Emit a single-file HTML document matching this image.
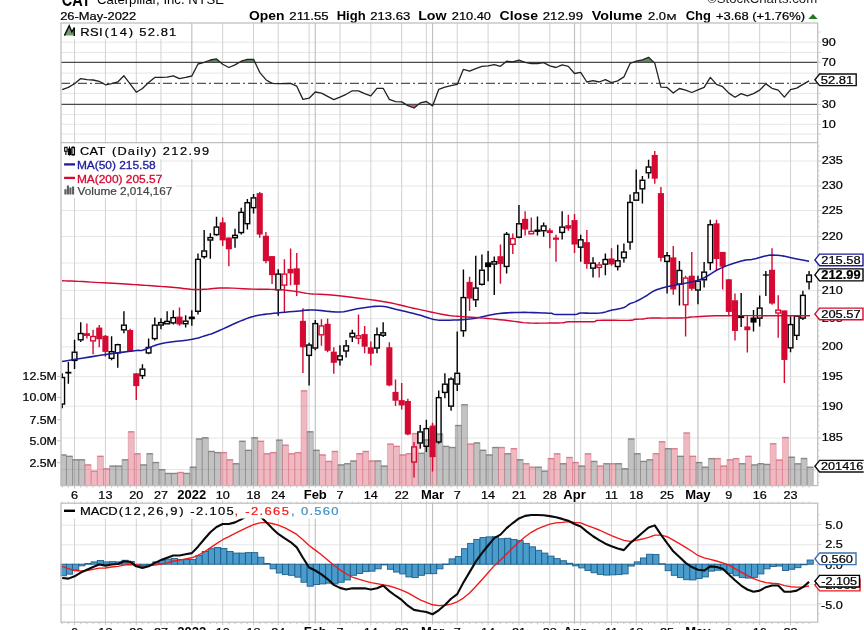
<!DOCTYPE html>
<html><head><meta charset="utf-8"><title>CAT</title>
<style>html,body{margin:0;padding:0;background:#fff;}body{width:864px;height:630px;overflow:hidden;font-family:"Liberation Sans",sans-serif;}svg{display:block;will-change:transform;}</style></head>
<body>
<svg width="864" height="630" viewBox="0 0 864 630" font-family="Liberation Sans, sans-serif">
<rect x="0" y="0" width="864" height="630" fill="#fff"/>
<text x="61.8" y="5.5" font-size="18.5" font-weight="bold" textLength="28.7" lengthAdjust="spacingAndGlyphs">CAT</text>
<text x="97" y="4.1" font-size="12" textLength="127" lengthAdjust="spacingAndGlyphs">Caterpillar, Inc. NYSE</text>
<text x="707" y="3.4" font-size="12" fill="#222" textLength="110.2" lengthAdjust="spacingAndGlyphs">©StockCharts.com</text>
<text x="60.2" y="19.94" font-size="11" font-weight="normal" fill="#000" stroke="#000" stroke-width="0.22" textLength="76" lengthAdjust="spacingAndGlyphs">26-May-2022</text>
<text x="248.9" y="20.38" font-size="12.8" font-weight="bold" fill="#000" textLength="35.5" lengthAdjust="spacingAndGlyphs">Open</text>
<text x="289.3" y="19.94" font-size="11" font-weight="normal" fill="#000" stroke="#000" stroke-width="0.22" textLength="39.4" lengthAdjust="spacingAndGlyphs">211.55</text>
<text x="336.7" y="20.38" font-size="12.8" font-weight="bold" fill="#000" textLength="29" lengthAdjust="spacingAndGlyphs">High</text>
<text x="370.2" y="19.94" font-size="11" font-weight="normal" fill="#000" stroke="#000" stroke-width="0.22" textLength="40" lengthAdjust="spacingAndGlyphs">213.63</text>
<text x="418.2" y="20.38" font-size="12.8" font-weight="bold" fill="#000" textLength="28.4" lengthAdjust="spacingAndGlyphs">Low</text>
<text x="451.8" y="19.94" font-size="11" font-weight="normal" fill="#000" stroke="#000" stroke-width="0.22" textLength="39.2" lengthAdjust="spacingAndGlyphs">210.40</text>
<text x="499.6" y="20.38" font-size="12.8" font-weight="bold" fill="#000" textLength="38.4" lengthAdjust="spacingAndGlyphs">Close</text>
<text x="542.8" y="19.94" font-size="11" font-weight="normal" fill="#000" stroke="#000" stroke-width="0.22" textLength="40.2" lengthAdjust="spacingAndGlyphs">212.99</text>
<text x="591.7" y="20.38" font-size="12.8" font-weight="bold" fill="#000" textLength="50.7" lengthAdjust="spacingAndGlyphs">Volume</text>
<text x="648" y="19.94" font-size="11" font-weight="normal" fill="#000" stroke="#000" stroke-width="0.22" textLength="18" lengthAdjust="spacingAndGlyphs">2.0</text>
<text x="666.6" y="20.04" font-size="9.6" font-weight="normal" fill="#000" stroke="#000" stroke-width="0.22" textLength="10" lengthAdjust="spacingAndGlyphs">M</text>
<text x="685.7" y="20.38" font-size="12.8" font-weight="bold" fill="#000" textLength="25.1" lengthAdjust="spacingAndGlyphs">Chg</text>
<text x="716" y="19.94" font-size="11" font-weight="normal" fill="#000" stroke="#000" stroke-width="0.22" textLength="89" lengthAdjust="spacingAndGlyphs">+3.68 (+1.76%)</text>
<path d="M808.4 18.9 L817.6 18.9 L813 14 Z" fill="#1e7a1e"/>
<line x1="61" y1="42.2" x2="817.7" y2="42.2" stroke="#e6e6e6" stroke-width="1"/>
<line x1="61" y1="52.5" x2="817.7" y2="52.5" stroke="#e6e6e6" stroke-width="1"/>
<line x1="61" y1="73.1" x2="817.7" y2="73.1" stroke="#e6e6e6" stroke-width="1"/>
<line x1="61" y1="93.4" x2="817.7" y2="93.4" stroke="#e6e6e6" stroke-width="1"/>
<line x1="61" y1="114.5" x2="817.7" y2="114.5" stroke="#e6e6e6" stroke-width="1"/>
<line x1="61" y1="124.3" x2="817.7" y2="124.3" stroke="#e6e6e6" stroke-width="1"/>
<line x1="61" y1="134.1" x2="817.7" y2="134.1" stroke="#e6e6e6" stroke-width="1"/>
<line x1="74.54" y1="23" x2="74.54" y2="142.7" stroke="#d2d2d2" stroke-width="1"/>
<line x1="105.41" y1="23" x2="105.41" y2="142.7" stroke="#d2d2d2" stroke-width="1"/>
<line x1="136.27" y1="23" x2="136.27" y2="142.7" stroke="#d2d2d2" stroke-width="1"/>
<line x1="160.96" y1="23" x2="160.96" y2="142.7" stroke="#d2d2d2" stroke-width="1"/>
<line x1="222.68" y1="23" x2="222.68" y2="142.7" stroke="#d2d2d2" stroke-width="1"/>
<line x1="253.54" y1="23" x2="253.54" y2="142.7" stroke="#d2d2d2" stroke-width="1"/>
<line x1="278.23" y1="23" x2="278.23" y2="142.7" stroke="#d2d2d2" stroke-width="1"/>
<line x1="309.1" y1="23" x2="309.1" y2="142.7" stroke="#d2d2d2" stroke-width="1"/>
<line x1="339.96" y1="23" x2="339.96" y2="142.7" stroke="#d2d2d2" stroke-width="1"/>
<line x1="370.82" y1="23" x2="370.82" y2="142.7" stroke="#d2d2d2" stroke-width="1"/>
<line x1="401.68" y1="23" x2="401.68" y2="142.7" stroke="#d2d2d2" stroke-width="1"/>
<line x1="426.37" y1="23" x2="426.37" y2="142.7" stroke="#d2d2d2" stroke-width="1"/>
<line x1="457.23" y1="23" x2="457.23" y2="142.7" stroke="#d2d2d2" stroke-width="1"/>
<line x1="488.1" y1="23" x2="488.1" y2="142.7" stroke="#d2d2d2" stroke-width="1"/>
<line x1="518.96" y1="23" x2="518.96" y2="142.7" stroke="#d2d2d2" stroke-width="1"/>
<line x1="549.82" y1="23" x2="549.82" y2="142.7" stroke="#d2d2d2" stroke-width="1"/>
<line x1="580.68" y1="23" x2="580.68" y2="142.7" stroke="#d2d2d2" stroke-width="1"/>
<line x1="611.54" y1="23" x2="611.54" y2="142.7" stroke="#d2d2d2" stroke-width="1"/>
<line x1="636.23" y1="23" x2="636.23" y2="142.7" stroke="#d2d2d2" stroke-width="1"/>
<line x1="667.1" y1="23" x2="667.1" y2="142.7" stroke="#d2d2d2" stroke-width="1"/>
<line x1="728.82" y1="23" x2="728.82" y2="142.7" stroke="#d2d2d2" stroke-width="1"/>
<line x1="759.68" y1="23" x2="759.68" y2="142.7" stroke="#d2d2d2" stroke-width="1"/>
<line x1="790.54" y1="23" x2="790.54" y2="142.7" stroke="#d2d2d2" stroke-width="1"/>
<line x1="191.82" y1="23" x2="191.82" y2="142.7" stroke="#c0c0c0" stroke-width="1.15"/>
<line x1="315.27" y1="23" x2="315.27" y2="142.7" stroke="#c0c0c0" stroke-width="1.15"/>
<line x1="432.54" y1="23" x2="432.54" y2="142.7" stroke="#c0c0c0" stroke-width="1.15"/>
<line x1="574.51" y1="23" x2="574.51" y2="142.7" stroke="#c0c0c0" stroke-width="1.15"/>
<line x1="697.96" y1="23" x2="697.96" y2="142.7" stroke="#c0c0c0" stroke-width="1.15"/>
<clipPath id="c70"><rect x="61.0" y="23.0" width="756.7" height="39.4"/></clipPath>
<clipPath id="c30"><rect x="61.0" y="104.4" width="756.7" height="38.3"/></clipPath>
<polygon points="62.2,62.4 62.2,89.7 68.37,87.4 74.54,83.7 80.72,78.6 86.89,79.7 93.06,80 99.23,81.3 105.41,84.8 111.58,83.7 117.75,82 123.92,75.8 130.1,83.9 136.27,92.2 142.44,88.5 148.61,82.5 154.79,77.4 160.96,77.4 167.13,77.2 173.3,75.8 179.48,78.6 185.65,77.4 191.82,76 197.99,64 204.17,62.4 210.34,60 216.51,58.9 222.68,64.2 228.85,67.5 235.03,64.9 241.2,61.2 247.37,59.4 253.54,59.4 259.72,72.3 265.89,79.7 272.06,83.4 278.23,83.7 284.41,83.7 290.58,83.4 296.75,86.2 302.92,99.4 309.1,98.2 315.27,92 321.44,93.1 327.61,96.4 333.79,99.6 339.96,97.1 346.13,94.3 352.3,90.8 358.48,90.8 364.65,93.6 370.82,95.9 376.99,88.3 383.16,88.3 389.34,99.4 395.51,101.7 401.68,101.9 407.85,105.6 414.03,108 420.2,102.9 426.37,101.5 432.54,105.9 438.72,89.4 444.89,87.2 451.06,85.7 457.23,84.4 463.41,69.3 469.58,71.2 475.75,68.6 481.92,66.3 488.1,65.8 494.27,64.7 500.44,66.3 506.61,61.2 512.79,61.9 518.96,60 525.13,62.4 531.3,63.5 537.47,63.5 543.65,62.6 549.82,65.8 555.99,67.5 562.16,64.9 568.34,66.3 574.51,73.5 580.68,72.3 586.85,82 593.03,80.6 599.2,82 605.37,79.7 611.54,82.7 617.72,80.9 623.89,76.9 630.06,63.5 636.23,61.2 642.41,59.8 648.58,57.3 654.75,63.1 660.92,87.1 667.1,87.4 673.27,93.1 679.44,88.5 685.61,90.1 691.78,92.5 697.96,89.9 704.13,87.4 710.3,77.4 716.47,84.4 722.65,86.7 728.82,93.1 734.99,97.3 741.16,93.6 747.34,95.9 753.51,93.6 759.68,90.1 765.85,83.9 772.03,88.3 778.2,90.1 784.37,97.1 790.54,89.7 796.72,88.1 802.89,84.4 809.06,80.9 809.06,62.4" fill="#5f8f5f" clip-path="url(#c70)"/>
<polygon points="62.2,104.4 62.2,89.7 68.37,87.4 74.54,83.7 80.72,78.6 86.89,79.7 93.06,80 99.23,81.3 105.41,84.8 111.58,83.7 117.75,82 123.92,75.8 130.1,83.9 136.27,92.2 142.44,88.5 148.61,82.5 154.79,77.4 160.96,77.4 167.13,77.2 173.3,75.8 179.48,78.6 185.65,77.4 191.82,76 197.99,64 204.17,62.4 210.34,60 216.51,58.9 222.68,64.2 228.85,67.5 235.03,64.9 241.2,61.2 247.37,59.4 253.54,59.4 259.72,72.3 265.89,79.7 272.06,83.4 278.23,83.7 284.41,83.7 290.58,83.4 296.75,86.2 302.92,99.4 309.1,98.2 315.27,92 321.44,93.1 327.61,96.4 333.79,99.6 339.96,97.1 346.13,94.3 352.3,90.8 358.48,90.8 364.65,93.6 370.82,95.9 376.99,88.3 383.16,88.3 389.34,99.4 395.51,101.7 401.68,101.9 407.85,105.6 414.03,108 420.2,102.9 426.37,101.5 432.54,105.9 438.72,89.4 444.89,87.2 451.06,85.7 457.23,84.4 463.41,69.3 469.58,71.2 475.75,68.6 481.92,66.3 488.1,65.8 494.27,64.7 500.44,66.3 506.61,61.2 512.79,61.9 518.96,60 525.13,62.4 531.3,63.5 537.47,63.5 543.65,62.6 549.82,65.8 555.99,67.5 562.16,64.9 568.34,66.3 574.51,73.5 580.68,72.3 586.85,82 593.03,80.6 599.2,82 605.37,79.7 611.54,82.7 617.72,80.9 623.89,76.9 630.06,63.5 636.23,61.2 642.41,59.8 648.58,57.3 654.75,63.1 660.92,87.1 667.1,87.4 673.27,93.1 679.44,88.5 685.61,90.1 691.78,92.5 697.96,89.9 704.13,87.4 710.3,77.4 716.47,84.4 722.65,86.7 728.82,93.1 734.99,97.3 741.16,93.6 747.34,95.9 753.51,93.6 759.68,90.1 765.85,83.9 772.03,88.3 778.2,90.1 784.37,97.1 790.54,89.7 796.72,88.1 802.89,84.4 809.06,80.9 809.06,104.4" fill="#d06a6a" clip-path="url(#c30)"/>
<line x1="61.0" y1="62.4" x2="817.7" y2="62.4" stroke="#4a4a4a" stroke-width="1.3"/>
<line x1="61.0" y1="104.4" x2="817.7" y2="104.4" stroke="#4a4a4a" stroke-width="1.3"/>
<line x1="61.0" y1="83.4" x2="817.7" y2="83.4" stroke="#555" stroke-width="1.1" stroke-dasharray="9,3,2,3"/>
<polyline points="62.2,89.7 68.37,87.4 74.54,83.7 80.72,78.6 86.89,79.7 93.06,80 99.23,81.3 105.41,84.8 111.58,83.7 117.75,82 123.92,75.8 130.1,83.9 136.27,92.2 142.44,88.5 148.61,82.5 154.79,77.4 160.96,77.4 167.13,77.2 173.3,75.8 179.48,78.6 185.65,77.4 191.82,76 197.99,64 204.17,62.4 210.34,60 216.51,58.9 222.68,64.2 228.85,67.5 235.03,64.9 241.2,61.2 247.37,59.4 253.54,59.4 259.72,72.3 265.89,79.7 272.06,83.4 278.23,83.7 284.41,83.7 290.58,83.4 296.75,86.2 302.92,99.4 309.1,98.2 315.27,92 321.44,93.1 327.61,96.4 333.79,99.6 339.96,97.1 346.13,94.3 352.3,90.8 358.48,90.8 364.65,93.6 370.82,95.9 376.99,88.3 383.16,88.3 389.34,99.4 395.51,101.7 401.68,101.9 407.85,105.6 414.03,108 420.2,102.9 426.37,101.5 432.54,105.9 438.72,89.4 444.89,87.2 451.06,85.7 457.23,84.4 463.41,69.3 469.58,71.2 475.75,68.6 481.92,66.3 488.1,65.8 494.27,64.7 500.44,66.3 506.61,61.2 512.79,61.9 518.96,60 525.13,62.4 531.3,63.5 537.47,63.5 543.65,62.6 549.82,65.8 555.99,67.5 562.16,64.9 568.34,66.3 574.51,73.5 580.68,72.3 586.85,82 593.03,80.6 599.2,82 605.37,79.7 611.54,82.7 617.72,80.9 623.89,76.9 630.06,63.5 636.23,61.2 642.41,59.8 648.58,57.3 654.75,63.1 660.92,87.1 667.1,87.4 673.27,93.1 679.44,88.5 685.61,90.1 691.78,92.5 697.96,89.9 704.13,87.4 710.3,77.4 716.47,84.4 722.65,86.7 728.82,93.1 734.99,97.3 741.16,93.6 747.34,95.9 753.51,93.6 759.68,90.1 765.85,83.9 772.03,88.3 778.2,90.1 784.37,97.1 790.54,89.7 796.72,88.1 802.89,84.4 809.06,80.9" fill="none" stroke="#222" stroke-width="1.3" stroke-linejoin="round"/>
<rect x="61.7" y="23.7" width="117" height="15.3" fill="#fff"/>
<path d="M64.3 35.6 L69.3 25.4 L71.9 32 L74.4 27.4 L74.4 35.6 Z" fill="#6f9f6f" stroke="none"/>
<path d="M64.4 35.6 L69.2 25.6 L71.9 32 L74.3 27.6 L74.3 35.9" fill="none" stroke="#0a0a0a" stroke-width="1.4" stroke-linejoin="miter"/>
<text transform="translate(80.2,35.82) scale(1.13,1)" x="0" y="0" font-size="11.5" fill="#000" stroke="#000" stroke-width="0.2" textLength="19.82" lengthAdjust="spacing">RSI</text>
<text transform="translate(104.4,35.82) scale(1.13,1)" x="0" y="0" font-size="11.5" fill="#000" stroke="#000" stroke-width="0.2" textLength="25.4" lengthAdjust="spacing">(14)</text>
<text transform="translate(139.3,35.82) scale(1.13,1)" x="0" y="0" font-size="11.5" fill="#000" stroke="#000" stroke-width="0.2" textLength="32.74" lengthAdjust="spacing">52.81</text>
<line x1="61" y1="161" x2="817.7" y2="161" stroke="#e6e6e6" stroke-width="1"/>
<line x1="61" y1="186" x2="817.7" y2="186" stroke="#e6e6e6" stroke-width="1"/>
<line x1="61" y1="210.5" x2="817.7" y2="210.5" stroke="#e6e6e6" stroke-width="1"/>
<line x1="61" y1="236.5" x2="817.7" y2="236.5" stroke="#e6e6e6" stroke-width="1"/>
<line x1="61" y1="263" x2="817.7" y2="263" stroke="#e6e6e6" stroke-width="1"/>
<line x1="61" y1="290.4" x2="817.7" y2="290.4" stroke="#e6e6e6" stroke-width="1"/>
<line x1="61" y1="318.7" x2="817.7" y2="318.7" stroke="#e6e6e6" stroke-width="1"/>
<line x1="61" y1="346.9" x2="817.7" y2="346.9" stroke="#e6e6e6" stroke-width="1"/>
<line x1="61" y1="376.7" x2="817.7" y2="376.7" stroke="#e6e6e6" stroke-width="1"/>
<line x1="61" y1="406.2" x2="817.7" y2="406.2" stroke="#e6e6e6" stroke-width="1"/>
<line x1="61" y1="438" x2="817.7" y2="438" stroke="#e6e6e6" stroke-width="1"/>
<line x1="61" y1="469.5" x2="817.7" y2="469.5" stroke="#e6e6e6" stroke-width="1"/>
<line x1="74.54" y1="142.7" x2="74.54" y2="485.6" stroke="#d2d2d2" stroke-width="1"/>
<line x1="105.41" y1="142.7" x2="105.41" y2="485.6" stroke="#d2d2d2" stroke-width="1"/>
<line x1="136.27" y1="142.7" x2="136.27" y2="485.6" stroke="#d2d2d2" stroke-width="1"/>
<line x1="160.96" y1="142.7" x2="160.96" y2="485.6" stroke="#d2d2d2" stroke-width="1"/>
<line x1="222.68" y1="142.7" x2="222.68" y2="485.6" stroke="#d2d2d2" stroke-width="1"/>
<line x1="253.54" y1="142.7" x2="253.54" y2="485.6" stroke="#d2d2d2" stroke-width="1"/>
<line x1="278.23" y1="142.7" x2="278.23" y2="485.6" stroke="#d2d2d2" stroke-width="1"/>
<line x1="309.1" y1="142.7" x2="309.1" y2="485.6" stroke="#d2d2d2" stroke-width="1"/>
<line x1="339.96" y1="142.7" x2="339.96" y2="485.6" stroke="#d2d2d2" stroke-width="1"/>
<line x1="370.82" y1="142.7" x2="370.82" y2="485.6" stroke="#d2d2d2" stroke-width="1"/>
<line x1="401.68" y1="142.7" x2="401.68" y2="485.6" stroke="#d2d2d2" stroke-width="1"/>
<line x1="426.37" y1="142.7" x2="426.37" y2="485.6" stroke="#d2d2d2" stroke-width="1"/>
<line x1="457.23" y1="142.7" x2="457.23" y2="485.6" stroke="#d2d2d2" stroke-width="1"/>
<line x1="488.1" y1="142.7" x2="488.1" y2="485.6" stroke="#d2d2d2" stroke-width="1"/>
<line x1="518.96" y1="142.7" x2="518.96" y2="485.6" stroke="#d2d2d2" stroke-width="1"/>
<line x1="549.82" y1="142.7" x2="549.82" y2="485.6" stroke="#d2d2d2" stroke-width="1"/>
<line x1="580.68" y1="142.7" x2="580.68" y2="485.6" stroke="#d2d2d2" stroke-width="1"/>
<line x1="611.54" y1="142.7" x2="611.54" y2="485.6" stroke="#d2d2d2" stroke-width="1"/>
<line x1="636.23" y1="142.7" x2="636.23" y2="485.6" stroke="#d2d2d2" stroke-width="1"/>
<line x1="667.1" y1="142.7" x2="667.1" y2="485.6" stroke="#d2d2d2" stroke-width="1"/>
<line x1="728.82" y1="142.7" x2="728.82" y2="485.6" stroke="#d2d2d2" stroke-width="1"/>
<line x1="759.68" y1="142.7" x2="759.68" y2="485.6" stroke="#d2d2d2" stroke-width="1"/>
<line x1="790.54" y1="142.7" x2="790.54" y2="485.6" stroke="#d2d2d2" stroke-width="1"/>
<line x1="191.82" y1="142.7" x2="191.82" y2="485.6" stroke="#c0c0c0" stroke-width="1.15"/>
<line x1="315.27" y1="142.7" x2="315.27" y2="485.6" stroke="#c0c0c0" stroke-width="1.15"/>
<line x1="432.54" y1="142.7" x2="432.54" y2="485.6" stroke="#c0c0c0" stroke-width="1.15"/>
<line x1="574.51" y1="142.7" x2="574.51" y2="485.6" stroke="#c0c0c0" stroke-width="1.15"/>
<line x1="697.96" y1="142.7" x2="697.96" y2="485.6" stroke="#c0c0c0" stroke-width="1.15"/>
<rect x="61" y="454.91" width="5.42" height="30.59" fill="#7a7a7a" fill-opacity="0.46" stroke="#666" stroke-opacity="0.36" stroke-width="0.9"/>
<line x1="61" y1="454.91" x2="66.42" y2="454.91" stroke="#666" stroke-opacity="0.6" stroke-width="1.4"/>
<rect x="66.42" y="456.3" width="6.17" height="29.2" fill="#7a7a7a" fill-opacity="0.46" stroke="#666" stroke-opacity="0.36" stroke-width="0.9"/>
<line x1="66.42" y1="456.3" x2="72.59" y2="456.3" stroke="#666" stroke-opacity="0.6" stroke-width="1.4"/>
<rect x="72.59" y="459.77" width="6.17" height="25.73" fill="#7a7a7a" fill-opacity="0.46" stroke="#666" stroke-opacity="0.36" stroke-width="0.9"/>
<line x1="72.59" y1="459.77" x2="78.77" y2="459.77" stroke="#666" stroke-opacity="0.6" stroke-width="1.4"/>
<rect x="78.77" y="459.77" width="6.17" height="25.73" fill="#7a7a7a" fill-opacity="0.46" stroke="#666" stroke-opacity="0.36" stroke-width="0.9"/>
<line x1="78.77" y1="459.77" x2="84.94" y2="459.77" stroke="#666" stroke-opacity="0.6" stroke-width="1.4"/>
<rect x="84.94" y="464.86" width="6.17" height="20.64" fill="#d64f66" fill-opacity="0.40" stroke="#cf4a62" stroke-opacity="0.3" stroke-width="0.9"/>
<line x1="84.94" y1="464.86" x2="91.11" y2="464.86" stroke="#cf5a70" stroke-opacity="0.6" stroke-width="1.4"/>
<rect x="91.11" y="471.11" width="6.17" height="14.39" fill="#d64f66" fill-opacity="0.40" stroke="#cf4a62" stroke-opacity="0.3" stroke-width="0.9"/>
<line x1="91.11" y1="471.11" x2="97.28" y2="471.11" stroke="#cf5a70" stroke-opacity="0.6" stroke-width="1.4"/>
<rect x="97.28" y="456.3" width="6.17" height="29.2" fill="#d64f66" fill-opacity="0.40" stroke="#cf4a62" stroke-opacity="0.3" stroke-width="0.9"/>
<line x1="97.28" y1="456.3" x2="103.46" y2="456.3" stroke="#cf5a70" stroke-opacity="0.6" stroke-width="1.4"/>
<rect x="103.46" y="468.8" width="6.17" height="16.7" fill="#d64f66" fill-opacity="0.40" stroke="#cf4a62" stroke-opacity="0.3" stroke-width="0.9"/>
<line x1="103.46" y1="468.8" x2="109.63" y2="468.8" stroke="#cf5a70" stroke-opacity="0.6" stroke-width="1.4"/>
<rect x="109.63" y="466.02" width="6.17" height="19.48" fill="#7a7a7a" fill-opacity="0.46" stroke="#666" stroke-opacity="0.36" stroke-width="0.9"/>
<line x1="109.63" y1="466.02" x2="115.8" y2="466.02" stroke="#666" stroke-opacity="0.6" stroke-width="1.4"/>
<rect x="115.8" y="466.02" width="6.17" height="19.48" fill="#7a7a7a" fill-opacity="0.46" stroke="#666" stroke-opacity="0.36" stroke-width="0.9"/>
<line x1="115.8" y1="466.02" x2="121.97" y2="466.02" stroke="#666" stroke-opacity="0.6" stroke-width="1.4"/>
<rect x="121.97" y="459.77" width="6.17" height="25.73" fill="#7a7a7a" fill-opacity="0.46" stroke="#666" stroke-opacity="0.36" stroke-width="0.9"/>
<line x1="121.97" y1="459.77" x2="128.15" y2="459.77" stroke="#666" stroke-opacity="0.6" stroke-width="1.4"/>
<rect x="128.15" y="431.76" width="6.17" height="53.74" fill="#d64f66" fill-opacity="0.40" stroke="#cf4a62" stroke-opacity="0.3" stroke-width="0.9"/>
<line x1="128.15" y1="431.76" x2="134.32" y2="431.76" stroke="#cf5a70" stroke-opacity="0.6" stroke-width="1.4"/>
<rect x="134.32" y="453.75" width="6.17" height="31.75" fill="#d64f66" fill-opacity="0.40" stroke="#cf4a62" stroke-opacity="0.3" stroke-width="0.9"/>
<line x1="134.32" y1="453.75" x2="140.49" y2="453.75" stroke="#cf5a70" stroke-opacity="0.6" stroke-width="1.4"/>
<rect x="140.49" y="464.86" width="6.17" height="20.64" fill="#7a7a7a" fill-opacity="0.46" stroke="#666" stroke-opacity="0.36" stroke-width="0.9"/>
<line x1="140.49" y1="464.86" x2="146.66" y2="464.86" stroke="#666" stroke-opacity="0.6" stroke-width="1.4"/>
<rect x="146.66" y="453.75" width="6.17" height="31.75" fill="#7a7a7a" fill-opacity="0.46" stroke="#666" stroke-opacity="0.36" stroke-width="0.9"/>
<line x1="146.66" y1="453.75" x2="152.84" y2="453.75" stroke="#666" stroke-opacity="0.6" stroke-width="1.4"/>
<rect x="152.84" y="462.55" width="6.17" height="22.95" fill="#7a7a7a" fill-opacity="0.46" stroke="#666" stroke-opacity="0.36" stroke-width="0.9"/>
<line x1="152.84" y1="462.55" x2="159.01" y2="462.55" stroke="#666" stroke-opacity="0.6" stroke-width="1.4"/>
<rect x="159.01" y="469.72" width="6.17" height="15.78" fill="#7a7a7a" fill-opacity="0.46" stroke="#666" stroke-opacity="0.36" stroke-width="0.9"/>
<line x1="159.01" y1="469.72" x2="165.18" y2="469.72" stroke="#666" stroke-opacity="0.6" stroke-width="1.4"/>
<rect x="165.18" y="473.43" width="6.17" height="12.07" fill="#7a7a7a" fill-opacity="0.46" stroke="#666" stroke-opacity="0.36" stroke-width="0.9"/>
<line x1="165.18" y1="473.43" x2="171.35" y2="473.43" stroke="#666" stroke-opacity="0.6" stroke-width="1.4"/>
<rect x="171.35" y="473.43" width="6.17" height="12.07" fill="#7a7a7a" fill-opacity="0.46" stroke="#666" stroke-opacity="0.36" stroke-width="0.9"/>
<line x1="171.35" y1="473.43" x2="177.53" y2="473.43" stroke="#666" stroke-opacity="0.6" stroke-width="1.4"/>
<rect x="177.53" y="472.5" width="6.17" height="13" fill="#d64f66" fill-opacity="0.40" stroke="#cf4a62" stroke-opacity="0.3" stroke-width="0.9"/>
<line x1="177.53" y1="472.5" x2="183.7" y2="472.5" stroke="#cf5a70" stroke-opacity="0.6" stroke-width="1.4"/>
<rect x="183.7" y="473.43" width="6.17" height="12.07" fill="#7a7a7a" fill-opacity="0.46" stroke="#666" stroke-opacity="0.36" stroke-width="0.9"/>
<line x1="183.7" y1="473.43" x2="189.87" y2="473.43" stroke="#666" stroke-opacity="0.6" stroke-width="1.4"/>
<rect x="189.87" y="467.18" width="6.17" height="18.32" fill="#7a7a7a" fill-opacity="0.46" stroke="#666" stroke-opacity="0.36" stroke-width="0.9"/>
<line x1="189.87" y1="467.18" x2="196.04" y2="467.18" stroke="#666" stroke-opacity="0.6" stroke-width="1.4"/>
<rect x="196.04" y="438.94" width="6.17" height="46.56" fill="#7a7a7a" fill-opacity="0.46" stroke="#666" stroke-opacity="0.36" stroke-width="0.9"/>
<line x1="196.04" y1="438.94" x2="202.22" y2="438.94" stroke="#666" stroke-opacity="0.6" stroke-width="1.4"/>
<rect x="202.22" y="437.78" width="6.17" height="47.72" fill="#7a7a7a" fill-opacity="0.46" stroke="#666" stroke-opacity="0.36" stroke-width="0.9"/>
<line x1="202.22" y1="437.78" x2="208.39" y2="437.78" stroke="#666" stroke-opacity="0.6" stroke-width="1.4"/>
<rect x="208.39" y="451.44" width="6.17" height="34.06" fill="#7a7a7a" fill-opacity="0.46" stroke="#666" stroke-opacity="0.36" stroke-width="0.9"/>
<line x1="208.39" y1="451.44" x2="214.56" y2="451.44" stroke="#666" stroke-opacity="0.6" stroke-width="1.4"/>
<rect x="214.56" y="452.59" width="6.17" height="32.91" fill="#7a7a7a" fill-opacity="0.46" stroke="#666" stroke-opacity="0.36" stroke-width="0.9"/>
<line x1="214.56" y1="452.59" x2="220.73" y2="452.59" stroke="#666" stroke-opacity="0.6" stroke-width="1.4"/>
<rect x="220.73" y="452.59" width="6.17" height="32.91" fill="#d64f66" fill-opacity="0.40" stroke="#cf4a62" stroke-opacity="0.3" stroke-width="0.9"/>
<line x1="220.73" y1="452.59" x2="226.9" y2="452.59" stroke="#cf5a70" stroke-opacity="0.6" stroke-width="1.4"/>
<rect x="226.9" y="459.77" width="6.17" height="25.73" fill="#d64f66" fill-opacity="0.40" stroke="#cf4a62" stroke-opacity="0.3" stroke-width="0.9"/>
<line x1="226.9" y1="459.77" x2="233.08" y2="459.77" stroke="#cf5a70" stroke-opacity="0.6" stroke-width="1.4"/>
<rect x="233.08" y="463.7" width="6.17" height="21.8" fill="#7a7a7a" fill-opacity="0.46" stroke="#666" stroke-opacity="0.36" stroke-width="0.9"/>
<line x1="233.08" y1="463.7" x2="239.25" y2="463.7" stroke="#666" stroke-opacity="0.6" stroke-width="1.4"/>
<rect x="239.25" y="441.25" width="6.17" height="44.25" fill="#7a7a7a" fill-opacity="0.46" stroke="#666" stroke-opacity="0.36" stroke-width="0.9"/>
<line x1="239.25" y1="441.25" x2="245.42" y2="441.25" stroke="#666" stroke-opacity="0.6" stroke-width="1.4"/>
<rect x="245.42" y="450.28" width="6.17" height="35.22" fill="#7a7a7a" fill-opacity="0.46" stroke="#666" stroke-opacity="0.36" stroke-width="0.9"/>
<line x1="245.42" y1="450.28" x2="251.59" y2="450.28" stroke="#666" stroke-opacity="0.6" stroke-width="1.4"/>
<rect x="251.59" y="437.78" width="6.17" height="47.72" fill="#7a7a7a" fill-opacity="0.46" stroke="#666" stroke-opacity="0.36" stroke-width="0.9"/>
<line x1="251.59" y1="437.78" x2="257.77" y2="437.78" stroke="#666" stroke-opacity="0.6" stroke-width="1.4"/>
<rect x="257.77" y="441.25" width="6.17" height="44.25" fill="#d64f66" fill-opacity="0.40" stroke="#cf4a62" stroke-opacity="0.3" stroke-width="0.9"/>
<line x1="257.77" y1="441.25" x2="263.94" y2="441.25" stroke="#cf5a70" stroke-opacity="0.6" stroke-width="1.4"/>
<rect x="263.94" y="453.75" width="6.17" height="31.75" fill="#d64f66" fill-opacity="0.40" stroke="#cf4a62" stroke-opacity="0.3" stroke-width="0.9"/>
<line x1="263.94" y1="453.75" x2="270.11" y2="453.75" stroke="#cf5a70" stroke-opacity="0.6" stroke-width="1.4"/>
<rect x="270.11" y="452.59" width="6.17" height="32.91" fill="#d64f66" fill-opacity="0.40" stroke="#cf4a62" stroke-opacity="0.3" stroke-width="0.9"/>
<line x1="270.11" y1="452.59" x2="276.28" y2="452.59" stroke="#cf5a70" stroke-opacity="0.6" stroke-width="1.4"/>
<rect x="276.28" y="440.09" width="6.17" height="45.41" fill="#7a7a7a" fill-opacity="0.46" stroke="#666" stroke-opacity="0.36" stroke-width="0.9"/>
<line x1="276.28" y1="440.09" x2="282.46" y2="440.09" stroke="#666" stroke-opacity="0.6" stroke-width="1.4"/>
<rect x="282.46" y="445.19" width="6.17" height="40.31" fill="#d64f66" fill-opacity="0.40" stroke="#cf4a62" stroke-opacity="0.3" stroke-width="0.9"/>
<line x1="282.46" y1="445.19" x2="288.63" y2="445.19" stroke="#cf5a70" stroke-opacity="0.6" stroke-width="1.4"/>
<rect x="288.63" y="453.75" width="6.17" height="31.75" fill="#d64f66" fill-opacity="0.40" stroke="#cf4a62" stroke-opacity="0.3" stroke-width="0.9"/>
<line x1="288.63" y1="453.75" x2="294.8" y2="453.75" stroke="#cf5a70" stroke-opacity="0.6" stroke-width="1.4"/>
<rect x="294.8" y="452.59" width="6.17" height="32.91" fill="#d64f66" fill-opacity="0.40" stroke="#cf4a62" stroke-opacity="0.3" stroke-width="0.9"/>
<line x1="294.8" y1="452.59" x2="300.97" y2="452.59" stroke="#cf5a70" stroke-opacity="0.6" stroke-width="1.4"/>
<rect x="300.97" y="390.79" width="6.17" height="94.71" fill="#d64f66" fill-opacity="0.40" stroke="#cf4a62" stroke-opacity="0.3" stroke-width="0.9"/>
<line x1="300.97" y1="390.79" x2="307.15" y2="390.79" stroke="#cf5a70" stroke-opacity="0.6" stroke-width="1.4"/>
<rect x="307.15" y="431.76" width="6.17" height="53.74" fill="#7a7a7a" fill-opacity="0.46" stroke="#666" stroke-opacity="0.36" stroke-width="0.9"/>
<line x1="307.15" y1="431.76" x2="313.32" y2="431.76" stroke="#666" stroke-opacity="0.6" stroke-width="1.4"/>
<rect x="313.32" y="450.28" width="6.17" height="35.22" fill="#7a7a7a" fill-opacity="0.46" stroke="#666" stroke-opacity="0.36" stroke-width="0.9"/>
<line x1="313.32" y1="450.28" x2="319.49" y2="450.28" stroke="#666" stroke-opacity="0.6" stroke-width="1.4"/>
<rect x="319.49" y="454.91" width="6.17" height="30.59" fill="#d64f66" fill-opacity="0.40" stroke="#cf4a62" stroke-opacity="0.3" stroke-width="0.9"/>
<line x1="319.49" y1="454.91" x2="325.66" y2="454.91" stroke="#cf5a70" stroke-opacity="0.6" stroke-width="1.4"/>
<rect x="325.66" y="461.39" width="6.17" height="24.11" fill="#d64f66" fill-opacity="0.40" stroke="#cf4a62" stroke-opacity="0.3" stroke-width="0.9"/>
<line x1="325.66" y1="461.39" x2="331.84" y2="461.39" stroke="#cf5a70" stroke-opacity="0.6" stroke-width="1.4"/>
<rect x="331.84" y="451.44" width="6.17" height="34.06" fill="#d64f66" fill-opacity="0.40" stroke="#cf4a62" stroke-opacity="0.3" stroke-width="0.9"/>
<line x1="331.84" y1="451.44" x2="338.01" y2="451.44" stroke="#cf5a70" stroke-opacity="0.6" stroke-width="1.4"/>
<rect x="338.01" y="464.86" width="6.17" height="20.64" fill="#7a7a7a" fill-opacity="0.46" stroke="#666" stroke-opacity="0.36" stroke-width="0.9"/>
<line x1="338.01" y1="464.86" x2="344.18" y2="464.86" stroke="#666" stroke-opacity="0.6" stroke-width="1.4"/>
<rect x="344.18" y="463.7" width="6.17" height="21.8" fill="#7a7a7a" fill-opacity="0.46" stroke="#666" stroke-opacity="0.36" stroke-width="0.9"/>
<line x1="344.18" y1="463.7" x2="350.35" y2="463.7" stroke="#666" stroke-opacity="0.6" stroke-width="1.4"/>
<rect x="350.35" y="460.93" width="6.17" height="24.57" fill="#7a7a7a" fill-opacity="0.46" stroke="#666" stroke-opacity="0.36" stroke-width="0.9"/>
<line x1="350.35" y1="460.93" x2="356.53" y2="460.93" stroke="#666" stroke-opacity="0.6" stroke-width="1.4"/>
<rect x="356.53" y="453.75" width="6.17" height="31.75" fill="#d64f66" fill-opacity="0.40" stroke="#cf4a62" stroke-opacity="0.3" stroke-width="0.9"/>
<line x1="356.53" y1="453.75" x2="362.7" y2="453.75" stroke="#cf5a70" stroke-opacity="0.6" stroke-width="1.4"/>
<rect x="362.7" y="451.44" width="6.17" height="34.06" fill="#d64f66" fill-opacity="0.40" stroke="#cf4a62" stroke-opacity="0.3" stroke-width="0.9"/>
<line x1="362.7" y1="451.44" x2="368.87" y2="451.44" stroke="#cf5a70" stroke-opacity="0.6" stroke-width="1.4"/>
<rect x="368.87" y="460.93" width="6.17" height="24.57" fill="#d64f66" fill-opacity="0.40" stroke="#cf4a62" stroke-opacity="0.3" stroke-width="0.9"/>
<line x1="368.87" y1="460.93" x2="375.04" y2="460.93" stroke="#cf5a70" stroke-opacity="0.6" stroke-width="1.4"/>
<rect x="375.04" y="460.93" width="6.17" height="24.57" fill="#7a7a7a" fill-opacity="0.46" stroke="#666" stroke-opacity="0.36" stroke-width="0.9"/>
<line x1="375.04" y1="460.93" x2="381.21" y2="460.93" stroke="#666" stroke-opacity="0.6" stroke-width="1.4"/>
<rect x="381.21" y="466.02" width="6.17" height="19.48" fill="#7a7a7a" fill-opacity="0.46" stroke="#666" stroke-opacity="0.36" stroke-width="0.9"/>
<line x1="381.21" y1="466.02" x2="387.39" y2="466.02" stroke="#666" stroke-opacity="0.6" stroke-width="1.4"/>
<rect x="387.39" y="444.03" width="6.17" height="41.47" fill="#d64f66" fill-opacity="0.40" stroke="#cf4a62" stroke-opacity="0.3" stroke-width="0.9"/>
<line x1="387.39" y1="444.03" x2="393.56" y2="444.03" stroke="#cf5a70" stroke-opacity="0.6" stroke-width="1.4"/>
<rect x="393.56" y="446.34" width="6.17" height="39.16" fill="#d64f66" fill-opacity="0.40" stroke="#cf4a62" stroke-opacity="0.3" stroke-width="0.9"/>
<line x1="393.56" y1="446.34" x2="399.73" y2="446.34" stroke="#cf5a70" stroke-opacity="0.6" stroke-width="1.4"/>
<rect x="399.73" y="454.91" width="6.17" height="30.59" fill="#d64f66" fill-opacity="0.40" stroke="#cf4a62" stroke-opacity="0.3" stroke-width="0.9"/>
<line x1="399.73" y1="454.91" x2="405.9" y2="454.91" stroke="#cf5a70" stroke-opacity="0.6" stroke-width="1.4"/>
<rect x="405.9" y="453.75" width="6.17" height="31.75" fill="#d64f66" fill-opacity="0.40" stroke="#cf4a62" stroke-opacity="0.3" stroke-width="0.9"/>
<line x1="405.9" y1="453.75" x2="412.08" y2="453.75" stroke="#cf5a70" stroke-opacity="0.6" stroke-width="1.4"/>
<rect x="412.08" y="433.61" width="6.17" height="51.89" fill="#d64f66" fill-opacity="0.40" stroke="#cf4a62" stroke-opacity="0.3" stroke-width="0.9"/>
<line x1="412.08" y1="433.61" x2="418.25" y2="433.61" stroke="#cf5a70" stroke-opacity="0.6" stroke-width="1.4"/>
<rect x="418.25" y="453.29" width="6.17" height="32.21" fill="#7a7a7a" fill-opacity="0.46" stroke="#666" stroke-opacity="0.36" stroke-width="0.9"/>
<line x1="418.25" y1="453.29" x2="424.42" y2="453.29" stroke="#666" stroke-opacity="0.6" stroke-width="1.4"/>
<rect x="424.42" y="439.86" width="6.17" height="45.64" fill="#7a7a7a" fill-opacity="0.46" stroke="#666" stroke-opacity="0.36" stroke-width="0.9"/>
<line x1="424.42" y1="439.86" x2="430.59" y2="439.86" stroke="#666" stroke-opacity="0.6" stroke-width="1.4"/>
<rect x="430.59" y="425.51" width="6.17" height="59.99" fill="#d64f66" fill-opacity="0.40" stroke="#cf4a62" stroke-opacity="0.3" stroke-width="0.9"/>
<line x1="430.59" y1="425.51" x2="436.77" y2="425.51" stroke="#cf5a70" stroke-opacity="0.6" stroke-width="1.4"/>
<rect x="436.77" y="434.07" width="6.17" height="51.43" fill="#7a7a7a" fill-opacity="0.46" stroke="#666" stroke-opacity="0.36" stroke-width="0.9"/>
<line x1="436.77" y1="434.07" x2="442.94" y2="434.07" stroke="#666" stroke-opacity="0.6" stroke-width="1.4"/>
<rect x="442.94" y="446.34" width="6.17" height="39.16" fill="#7a7a7a" fill-opacity="0.46" stroke="#666" stroke-opacity="0.36" stroke-width="0.9"/>
<line x1="442.94" y1="446.34" x2="449.11" y2="446.34" stroke="#666" stroke-opacity="0.6" stroke-width="1.4"/>
<rect x="449.11" y="447.5" width="6.17" height="38" fill="#7a7a7a" fill-opacity="0.46" stroke="#666" stroke-opacity="0.36" stroke-width="0.9"/>
<line x1="449.11" y1="447.5" x2="455.28" y2="447.5" stroke="#666" stroke-opacity="0.6" stroke-width="1.4"/>
<rect x="455.28" y="425.51" width="6.17" height="59.99" fill="#7a7a7a" fill-opacity="0.46" stroke="#666" stroke-opacity="0.36" stroke-width="0.9"/>
<line x1="455.28" y1="425.51" x2="461.46" y2="425.51" stroke="#666" stroke-opacity="0.6" stroke-width="1.4"/>
<rect x="461.46" y="404.68" width="6.17" height="80.82" fill="#7a7a7a" fill-opacity="0.46" stroke="#666" stroke-opacity="0.36" stroke-width="0.9"/>
<line x1="461.46" y1="404.68" x2="467.63" y2="404.68" stroke="#666" stroke-opacity="0.6" stroke-width="1.4"/>
<rect x="467.63" y="444.03" width="6.17" height="41.47" fill="#d64f66" fill-opacity="0.40" stroke="#cf4a62" stroke-opacity="0.3" stroke-width="0.9"/>
<line x1="467.63" y1="444.03" x2="473.8" y2="444.03" stroke="#cf5a70" stroke-opacity="0.6" stroke-width="1.4"/>
<rect x="473.8" y="442.87" width="6.17" height="42.63" fill="#7a7a7a" fill-opacity="0.46" stroke="#666" stroke-opacity="0.36" stroke-width="0.9"/>
<line x1="473.8" y1="442.87" x2="479.97" y2="442.87" stroke="#666" stroke-opacity="0.6" stroke-width="1.4"/>
<rect x="479.97" y="450.28" width="6.17" height="35.22" fill="#7a7a7a" fill-opacity="0.46" stroke="#666" stroke-opacity="0.36" stroke-width="0.9"/>
<line x1="479.97" y1="450.28" x2="486.15" y2="450.28" stroke="#666" stroke-opacity="0.6" stroke-width="1.4"/>
<rect x="486.15" y="454.91" width="6.17" height="30.59" fill="#7a7a7a" fill-opacity="0.46" stroke="#666" stroke-opacity="0.36" stroke-width="0.9"/>
<line x1="486.15" y1="454.91" x2="492.32" y2="454.91" stroke="#666" stroke-opacity="0.6" stroke-width="1.4"/>
<rect x="492.32" y="447.5" width="6.17" height="38" fill="#7a7a7a" fill-opacity="0.46" stroke="#666" stroke-opacity="0.36" stroke-width="0.9"/>
<line x1="492.32" y1="447.5" x2="498.49" y2="447.5" stroke="#666" stroke-opacity="0.6" stroke-width="1.4"/>
<rect x="498.49" y="447.5" width="6.17" height="38" fill="#d64f66" fill-opacity="0.40" stroke="#cf4a62" stroke-opacity="0.3" stroke-width="0.9"/>
<line x1="498.49" y1="447.5" x2="504.66" y2="447.5" stroke="#cf5a70" stroke-opacity="0.6" stroke-width="1.4"/>
<rect x="504.66" y="453.75" width="6.17" height="31.75" fill="#7a7a7a" fill-opacity="0.46" stroke="#666" stroke-opacity="0.36" stroke-width="0.9"/>
<line x1="504.66" y1="453.75" x2="510.84" y2="453.75" stroke="#666" stroke-opacity="0.6" stroke-width="1.4"/>
<rect x="510.84" y="448.66" width="6.17" height="36.84" fill="#d64f66" fill-opacity="0.40" stroke="#cf4a62" stroke-opacity="0.3" stroke-width="0.9"/>
<line x1="510.84" y1="448.66" x2="517.01" y2="448.66" stroke="#cf5a70" stroke-opacity="0.6" stroke-width="1.4"/>
<rect x="517.01" y="459.77" width="6.17" height="25.73" fill="#7a7a7a" fill-opacity="0.46" stroke="#666" stroke-opacity="0.36" stroke-width="0.9"/>
<line x1="517.01" y1="459.77" x2="523.18" y2="459.77" stroke="#666" stroke-opacity="0.6" stroke-width="1.4"/>
<rect x="523.18" y="463.7" width="6.17" height="21.8" fill="#d64f66" fill-opacity="0.40" stroke="#cf4a62" stroke-opacity="0.3" stroke-width="0.9"/>
<line x1="523.18" y1="463.7" x2="529.35" y2="463.7" stroke="#cf5a70" stroke-opacity="0.6" stroke-width="1.4"/>
<rect x="529.35" y="467.18" width="6.17" height="18.32" fill="#d64f66" fill-opacity="0.40" stroke="#cf4a62" stroke-opacity="0.3" stroke-width="0.9"/>
<line x1="529.35" y1="467.18" x2="535.52" y2="467.18" stroke="#cf5a70" stroke-opacity="0.6" stroke-width="1.4"/>
<rect x="535.52" y="467.18" width="6.17" height="18.32" fill="#7a7a7a" fill-opacity="0.46" stroke="#666" stroke-opacity="0.36" stroke-width="0.9"/>
<line x1="535.52" y1="467.18" x2="541.7" y2="467.18" stroke="#666" stroke-opacity="0.6" stroke-width="1.4"/>
<rect x="541.7" y="471.11" width="6.17" height="14.39" fill="#7a7a7a" fill-opacity="0.46" stroke="#666" stroke-opacity="0.36" stroke-width="0.9"/>
<line x1="541.7" y1="471.11" x2="547.87" y2="471.11" stroke="#666" stroke-opacity="0.6" stroke-width="1.4"/>
<rect x="547.87" y="458.61" width="6.17" height="26.89" fill="#d64f66" fill-opacity="0.40" stroke="#cf4a62" stroke-opacity="0.3" stroke-width="0.9"/>
<line x1="547.87" y1="458.61" x2="554.04" y2="458.61" stroke="#cf5a70" stroke-opacity="0.6" stroke-width="1.4"/>
<rect x="554.04" y="453.75" width="6.17" height="31.75" fill="#d64f66" fill-opacity="0.40" stroke="#cf4a62" stroke-opacity="0.3" stroke-width="0.9"/>
<line x1="554.04" y1="453.75" x2="560.21" y2="453.75" stroke="#cf5a70" stroke-opacity="0.6" stroke-width="1.4"/>
<rect x="560.21" y="463.7" width="6.17" height="21.8" fill="#7a7a7a" fill-opacity="0.46" stroke="#666" stroke-opacity="0.36" stroke-width="0.9"/>
<line x1="560.21" y1="463.7" x2="566.39" y2="463.7" stroke="#666" stroke-opacity="0.6" stroke-width="1.4"/>
<rect x="566.39" y="457.45" width="6.17" height="28.05" fill="#d64f66" fill-opacity="0.40" stroke="#cf4a62" stroke-opacity="0.3" stroke-width="0.9"/>
<line x1="566.39" y1="457.45" x2="572.56" y2="457.45" stroke="#cf5a70" stroke-opacity="0.6" stroke-width="1.4"/>
<rect x="572.56" y="462.55" width="6.17" height="22.95" fill="#d64f66" fill-opacity="0.40" stroke="#cf4a62" stroke-opacity="0.3" stroke-width="0.9"/>
<line x1="572.56" y1="462.55" x2="578.73" y2="462.55" stroke="#cf5a70" stroke-opacity="0.6" stroke-width="1.4"/>
<rect x="578.73" y="466.02" width="6.17" height="19.48" fill="#7a7a7a" fill-opacity="0.46" stroke="#666" stroke-opacity="0.36" stroke-width="0.9"/>
<line x1="578.73" y1="466.02" x2="584.9" y2="466.02" stroke="#666" stroke-opacity="0.6" stroke-width="1.4"/>
<rect x="584.9" y="453.75" width="6.17" height="31.75" fill="#d64f66" fill-opacity="0.40" stroke="#cf4a62" stroke-opacity="0.3" stroke-width="0.9"/>
<line x1="584.9" y1="453.75" x2="591.08" y2="453.75" stroke="#cf5a70" stroke-opacity="0.6" stroke-width="1.4"/>
<rect x="591.08" y="461.39" width="6.17" height="24.11" fill="#7a7a7a" fill-opacity="0.46" stroke="#666" stroke-opacity="0.36" stroke-width="0.9"/>
<line x1="591.08" y1="461.39" x2="597.25" y2="461.39" stroke="#666" stroke-opacity="0.6" stroke-width="1.4"/>
<rect x="597.25" y="466.02" width="6.17" height="19.48" fill="#d64f66" fill-opacity="0.40" stroke="#cf4a62" stroke-opacity="0.3" stroke-width="0.9"/>
<line x1="597.25" y1="466.02" x2="603.42" y2="466.02" stroke="#cf5a70" stroke-opacity="0.6" stroke-width="1.4"/>
<rect x="603.42" y="463.7" width="6.17" height="21.8" fill="#7a7a7a" fill-opacity="0.46" stroke="#666" stroke-opacity="0.36" stroke-width="0.9"/>
<line x1="603.42" y1="463.7" x2="609.59" y2="463.7" stroke="#666" stroke-opacity="0.6" stroke-width="1.4"/>
<rect x="609.59" y="463.7" width="6.17" height="21.8" fill="#d64f66" fill-opacity="0.40" stroke="#cf4a62" stroke-opacity="0.3" stroke-width="0.9"/>
<line x1="609.59" y1="463.7" x2="615.77" y2="463.7" stroke="#cf5a70" stroke-opacity="0.6" stroke-width="1.4"/>
<rect x="615.77" y="463.7" width="6.17" height="21.8" fill="#7a7a7a" fill-opacity="0.46" stroke="#666" stroke-opacity="0.36" stroke-width="0.9"/>
<line x1="615.77" y1="463.7" x2="621.94" y2="463.7" stroke="#666" stroke-opacity="0.6" stroke-width="1.4"/>
<rect x="621.94" y="468.8" width="6.17" height="16.7" fill="#7a7a7a" fill-opacity="0.46" stroke="#666" stroke-opacity="0.36" stroke-width="0.9"/>
<line x1="621.94" y1="468.8" x2="628.11" y2="468.8" stroke="#666" stroke-opacity="0.6" stroke-width="1.4"/>
<rect x="628.11" y="438.94" width="6.17" height="46.56" fill="#7a7a7a" fill-opacity="0.46" stroke="#666" stroke-opacity="0.36" stroke-width="0.9"/>
<line x1="628.11" y1="438.94" x2="634.28" y2="438.94" stroke="#666" stroke-opacity="0.6" stroke-width="1.4"/>
<rect x="634.28" y="453.75" width="6.17" height="31.75" fill="#7a7a7a" fill-opacity="0.46" stroke="#666" stroke-opacity="0.36" stroke-width="0.9"/>
<line x1="634.28" y1="453.75" x2="640.46" y2="453.75" stroke="#666" stroke-opacity="0.6" stroke-width="1.4"/>
<rect x="640.46" y="461.39" width="6.17" height="24.11" fill="#7a7a7a" fill-opacity="0.46" stroke="#666" stroke-opacity="0.36" stroke-width="0.9"/>
<line x1="640.46" y1="461.39" x2="646.63" y2="461.39" stroke="#666" stroke-opacity="0.6" stroke-width="1.4"/>
<rect x="646.63" y="459.77" width="6.17" height="25.73" fill="#7a7a7a" fill-opacity="0.46" stroke="#666" stroke-opacity="0.36" stroke-width="0.9"/>
<line x1="646.63" y1="459.77" x2="652.8" y2="459.77" stroke="#666" stroke-opacity="0.6" stroke-width="1.4"/>
<rect x="652.8" y="453.75" width="6.17" height="31.75" fill="#d64f66" fill-opacity="0.40" stroke="#cf4a62" stroke-opacity="0.3" stroke-width="0.9"/>
<line x1="652.8" y1="453.75" x2="658.97" y2="453.75" stroke="#cf5a70" stroke-opacity="0.6" stroke-width="1.4"/>
<rect x="658.97" y="441.71" width="6.17" height="43.79" fill="#d64f66" fill-opacity="0.40" stroke="#cf4a62" stroke-opacity="0.3" stroke-width="0.9"/>
<line x1="658.97" y1="441.71" x2="665.15" y2="441.71" stroke="#cf5a70" stroke-opacity="0.6" stroke-width="1.4"/>
<rect x="665.15" y="448.66" width="6.17" height="36.84" fill="#7a7a7a" fill-opacity="0.46" stroke="#666" stroke-opacity="0.36" stroke-width="0.9"/>
<line x1="665.15" y1="448.66" x2="671.32" y2="448.66" stroke="#666" stroke-opacity="0.6" stroke-width="1.4"/>
<rect x="671.32" y="448.66" width="6.17" height="36.84" fill="#d64f66" fill-opacity="0.40" stroke="#cf4a62" stroke-opacity="0.3" stroke-width="0.9"/>
<line x1="671.32" y1="448.66" x2="677.49" y2="448.66" stroke="#cf5a70" stroke-opacity="0.6" stroke-width="1.4"/>
<rect x="677.49" y="456.3" width="6.17" height="29.2" fill="#7a7a7a" fill-opacity="0.46" stroke="#666" stroke-opacity="0.36" stroke-width="0.9"/>
<line x1="677.49" y1="456.3" x2="683.66" y2="456.3" stroke="#666" stroke-opacity="0.6" stroke-width="1.4"/>
<rect x="683.66" y="432.92" width="6.17" height="52.58" fill="#d64f66" fill-opacity="0.40" stroke="#cf4a62" stroke-opacity="0.3" stroke-width="0.9"/>
<line x1="683.66" y1="432.92" x2="689.83" y2="432.92" stroke="#cf5a70" stroke-opacity="0.6" stroke-width="1.4"/>
<rect x="689.83" y="456.3" width="6.17" height="29.2" fill="#d64f66" fill-opacity="0.40" stroke="#cf4a62" stroke-opacity="0.3" stroke-width="0.9"/>
<line x1="689.83" y1="456.3" x2="696.01" y2="456.3" stroke="#cf5a70" stroke-opacity="0.6" stroke-width="1.4"/>
<rect x="696.01" y="462.55" width="6.17" height="22.95" fill="#7a7a7a" fill-opacity="0.46" stroke="#666" stroke-opacity="0.36" stroke-width="0.9"/>
<line x1="696.01" y1="462.55" x2="702.18" y2="462.55" stroke="#666" stroke-opacity="0.6" stroke-width="1.4"/>
<rect x="702.18" y="467.18" width="6.17" height="18.32" fill="#7a7a7a" fill-opacity="0.46" stroke="#666" stroke-opacity="0.36" stroke-width="0.9"/>
<line x1="702.18" y1="467.18" x2="708.35" y2="467.18" stroke="#666" stroke-opacity="0.6" stroke-width="1.4"/>
<rect x="708.35" y="458.61" width="6.17" height="26.89" fill="#7a7a7a" fill-opacity="0.46" stroke="#666" stroke-opacity="0.36" stroke-width="0.9"/>
<line x1="708.35" y1="458.61" x2="714.52" y2="458.61" stroke="#666" stroke-opacity="0.6" stroke-width="1.4"/>
<rect x="714.52" y="458.61" width="6.17" height="26.89" fill="#d64f66" fill-opacity="0.40" stroke="#cf4a62" stroke-opacity="0.3" stroke-width="0.9"/>
<line x1="714.52" y1="458.61" x2="720.7" y2="458.61" stroke="#cf5a70" stroke-opacity="0.6" stroke-width="1.4"/>
<rect x="720.7" y="466.02" width="6.17" height="19.48" fill="#d64f66" fill-opacity="0.40" stroke="#cf4a62" stroke-opacity="0.3" stroke-width="0.9"/>
<line x1="720.7" y1="466.02" x2="726.87" y2="466.02" stroke="#cf5a70" stroke-opacity="0.6" stroke-width="1.4"/>
<rect x="726.87" y="459.77" width="6.17" height="25.73" fill="#d64f66" fill-opacity="0.40" stroke="#cf4a62" stroke-opacity="0.3" stroke-width="0.9"/>
<line x1="726.87" y1="459.77" x2="733.04" y2="459.77" stroke="#cf5a70" stroke-opacity="0.6" stroke-width="1.4"/>
<rect x="733.04" y="458.61" width="6.17" height="26.89" fill="#d64f66" fill-opacity="0.40" stroke="#cf4a62" stroke-opacity="0.3" stroke-width="0.9"/>
<line x1="733.04" y1="458.61" x2="739.21" y2="458.61" stroke="#cf5a70" stroke-opacity="0.6" stroke-width="1.4"/>
<rect x="739.21" y="463.7" width="6.17" height="21.8" fill="#7a7a7a" fill-opacity="0.46" stroke="#666" stroke-opacity="0.36" stroke-width="0.9"/>
<line x1="739.21" y1="463.7" x2="745.39" y2="463.7" stroke="#666" stroke-opacity="0.6" stroke-width="1.4"/>
<rect x="745.39" y="456.3" width="6.17" height="29.2" fill="#d64f66" fill-opacity="0.40" stroke="#cf4a62" stroke-opacity="0.3" stroke-width="0.9"/>
<line x1="745.39" y1="456.3" x2="751.56" y2="456.3" stroke="#cf5a70" stroke-opacity="0.6" stroke-width="1.4"/>
<rect x="751.56" y="464.86" width="6.17" height="20.64" fill="#7a7a7a" fill-opacity="0.46" stroke="#666" stroke-opacity="0.36" stroke-width="0.9"/>
<line x1="751.56" y1="464.86" x2="757.73" y2="464.86" stroke="#666" stroke-opacity="0.6" stroke-width="1.4"/>
<rect x="757.73" y="463.7" width="6.17" height="21.8" fill="#7a7a7a" fill-opacity="0.46" stroke="#666" stroke-opacity="0.36" stroke-width="0.9"/>
<line x1="757.73" y1="463.7" x2="763.9" y2="463.7" stroke="#666" stroke-opacity="0.6" stroke-width="1.4"/>
<rect x="763.9" y="464.4" width="6.17" height="21.1" fill="#7a7a7a" fill-opacity="0.46" stroke="#666" stroke-opacity="0.36" stroke-width="0.9"/>
<line x1="763.9" y1="464.4" x2="770.08" y2="464.4" stroke="#666" stroke-opacity="0.6" stroke-width="1.4"/>
<rect x="770.08" y="443.7" width="6.17" height="41.8" fill="#d64f66" fill-opacity="0.40" stroke="#cf4a62" stroke-opacity="0.3" stroke-width="0.9"/>
<line x1="770.08" y1="443.7" x2="776.25" y2="443.7" stroke="#cf5a70" stroke-opacity="0.6" stroke-width="1.4"/>
<rect x="776.25" y="460" width="6.17" height="25.5" fill="#d64f66" fill-opacity="0.40" stroke="#cf4a62" stroke-opacity="0.3" stroke-width="0.9"/>
<line x1="776.25" y1="460" x2="782.42" y2="460" stroke="#cf5a70" stroke-opacity="0.6" stroke-width="1.4"/>
<rect x="782.42" y="437.5" width="6.17" height="48" fill="#d64f66" fill-opacity="0.40" stroke="#cf4a62" stroke-opacity="0.3" stroke-width="0.9"/>
<line x1="782.42" y1="437.5" x2="788.59" y2="437.5" stroke="#cf5a70" stroke-opacity="0.6" stroke-width="1.4"/>
<rect x="788.59" y="457.2" width="6.17" height="28.3" fill="#7a7a7a" fill-opacity="0.46" stroke="#666" stroke-opacity="0.36" stroke-width="0.9"/>
<line x1="788.59" y1="457.2" x2="794.77" y2="457.2" stroke="#666" stroke-opacity="0.6" stroke-width="1.4"/>
<rect x="794.77" y="463.8" width="6.17" height="21.7" fill="#7a7a7a" fill-opacity="0.46" stroke="#666" stroke-opacity="0.36" stroke-width="0.9"/>
<line x1="794.77" y1="463.8" x2="800.94" y2="463.8" stroke="#666" stroke-opacity="0.6" stroke-width="1.4"/>
<rect x="800.94" y="458.5" width="6.17" height="27" fill="#7a7a7a" fill-opacity="0.46" stroke="#666" stroke-opacity="0.36" stroke-width="0.9"/>
<line x1="800.94" y1="458.5" x2="807.11" y2="458.5" stroke="#666" stroke-opacity="0.6" stroke-width="1.4"/>
<rect x="807.11" y="467.2" width="6.17" height="18.3" fill="#7a7a7a" fill-opacity="0.46" stroke="#666" stroke-opacity="0.36" stroke-width="0.9"/>
<line x1="807.11" y1="467.2" x2="813.28" y2="467.2" stroke="#666" stroke-opacity="0.6" stroke-width="1.4"/>
<clipPath id="cp"><rect x="61.0" y="142.7" width="756.7" height="342.90000000000003"/></clipPath><g clip-path="url(#cp)">
<line x1="62.2" y1="373.34" x2="62.2" y2="377.13" stroke="#000" stroke-width="1.4"/>
<line x1="62.2" y1="404.47" x2="62.2" y2="408.26" stroke="#000" stroke-width="1.4"/>
<rect x="59.85" y="377.53" width="4.7" height="26.54" fill="none" stroke="#000" stroke-width="1.4"/>
<line x1="68.37" y1="361.99" x2="68.37" y2="372.07" stroke="#000" stroke-width="1.4"/>
<line x1="68.37" y1="372.67" x2="68.37" y2="383.81" stroke="#000" stroke-width="1.4"/>
<rect x="66.02" y="372.47" width="4.7" height="0.4" fill="none" stroke="#000" stroke-width="1.4"/>
<line x1="74.54" y1="339.81" x2="74.54" y2="351.81" stroke="#000" stroke-width="1.4"/>
<line x1="74.54" y1="360.81" x2="74.54" y2="368.97" stroke="#000" stroke-width="1.4"/>
<rect x="72.19" y="352.21" width="4.7" height="8.2" fill="none" stroke="#000" stroke-width="1.4"/>
<line x1="80.72" y1="322.35" x2="80.72" y2="333.13" stroke="#000" stroke-width="1.4"/>
<line x1="80.72" y1="340.21" x2="80.72" y2="341.91" stroke="#000" stroke-width="1.4"/>
<rect x="78.37" y="333.53" width="4.7" height="6.28" fill="none" stroke="#000" stroke-width="1.4"/>
<line x1="86.89" y1="323.57" x2="86.89" y2="338.41" stroke="#d50a32" stroke-width="1.4"/>
<rect x="83.84" y="333.18" width="6.1" height="2.79" fill="#d50a32"/>
<line x1="93.06" y1="329.68" x2="93.06" y2="336.1" stroke="#d50a32" stroke-width="1.4"/>
<line x1="93.06" y1="341.26" x2="93.06" y2="354.13" stroke="#d50a32" stroke-width="1.4"/>
<rect x="90.71" y="336.5" width="4.7" height="4.36" fill="none" stroke="#d50a32" stroke-width="1.4"/>
<line x1="99.23" y1="324.97" x2="99.23" y2="347.15" stroke="#d50a32" stroke-width="1.4"/>
<rect x="96.18" y="327.59" width="6.1" height="11.7" fill="#d50a32"/>
<line x1="105.41" y1="334.92" x2="105.41" y2="356.75" stroke="#d50a32" stroke-width="1.4"/>
<rect x="102.36" y="335.8" width="6.1" height="16.06" fill="#d50a32"/>
<line x1="111.58" y1="336.14" x2="111.58" y2="351.29" stroke="#000" stroke-width="1.4"/>
<line x1="111.58" y1="358.72" x2="111.58" y2="360.24" stroke="#000" stroke-width="1.4"/>
<rect x="109.23" y="351.69" width="4.7" height="6.63" fill="none" stroke="#000" stroke-width="1.4"/>
<line x1="117.75" y1="343.65" x2="117.75" y2="344.3" stroke="#000" stroke-width="1.4"/>
<line x1="117.75" y1="353.31" x2="117.75" y2="367.75" stroke="#000" stroke-width="1.4"/>
<rect x="115.4" y="344.7" width="4.7" height="8.2" fill="none" stroke="#000" stroke-width="1.4"/>
<line x1="123.92" y1="311.35" x2="123.92" y2="324.75" stroke="#000" stroke-width="1.4"/>
<line x1="123.92" y1="330.26" x2="123.92" y2="333.18" stroke="#000" stroke-width="1.4"/>
<rect x="121.57" y="325.15" width="4.7" height="4.71" fill="none" stroke="#000" stroke-width="1.4"/>
<line x1="130.1" y1="328.81" x2="130.1" y2="351.86" stroke="#d50a32" stroke-width="1.4"/>
<rect x="127.05" y="330.03" width="6.1" height="21.48" fill="#d50a32"/>
<line x1="136.27" y1="373.34" x2="136.27" y2="399.88" stroke="#d50a32" stroke-width="1.4"/>
<rect x="133.22" y="373.34" width="6.1" height="12.75" fill="#d50a32"/>
<line x1="142.44" y1="364.26" x2="142.44" y2="368.75" stroke="#000" stroke-width="1.4"/>
<line x1="142.44" y1="376.01" x2="142.44" y2="378.92" stroke="#000" stroke-width="1.4"/>
<rect x="140.09" y="369.15" width="4.7" height="6.46" fill="none" stroke="#000" stroke-width="1.4"/>
<line x1="148.61" y1="338.41" x2="148.61" y2="347.1" stroke="#000" stroke-width="1.4"/>
<line x1="148.61" y1="353.31" x2="148.61" y2="354.13" stroke="#000" stroke-width="1.4"/>
<rect x="146.26" y="347.5" width="4.7" height="5.41" fill="none" stroke="#000" stroke-width="1.4"/>
<line x1="154.79" y1="317.46" x2="154.79" y2="324.75" stroke="#000" stroke-width="1.4"/>
<line x1="154.79" y1="338.99" x2="154.79" y2="340.51" stroke="#000" stroke-width="1.4"/>
<rect x="152.44" y="325.15" width="4.7" height="13.44" fill="none" stroke="#000" stroke-width="1.4"/>
<line x1="160.96" y1="318.33" x2="160.96" y2="322.23" stroke="#000" stroke-width="1.4"/>
<line x1="160.96" y1="325.43" x2="160.96" y2="329.33" stroke="#000" stroke-width="1.4"/>
<rect x="158.61" y="322.63" width="4.7" height="2.4" fill="none" stroke="#000" stroke-width="1.4"/>
<line x1="167.13" y1="311.35" x2="167.13" y2="321.01" stroke="#000" stroke-width="1.4"/>
<rect x="164.78" y="321.41" width="4.7" height="2.4" fill="none" stroke="#000" stroke-width="1.4"/>
<line x1="173.3" y1="310.13" x2="173.3" y2="317.24" stroke="#000" stroke-width="1.4"/>
<line x1="173.3" y1="323.27" x2="173.3" y2="324.45" stroke="#000" stroke-width="1.4"/>
<rect x="170.95" y="317.64" width="4.7" height="5.24" fill="none" stroke="#000" stroke-width="1.4"/>
<line x1="179.48" y1="307.51" x2="179.48" y2="325.84" stroke="#d50a32" stroke-width="1.4"/>
<rect x="176.43" y="316.59" width="6.1" height="7.86" fill="#d50a32"/>
<line x1="185.65" y1="315.37" x2="185.65" y2="320.73" stroke="#000" stroke-width="1.4"/>
<line x1="185.65" y1="324.15" x2="185.65" y2="327.41" stroke="#000" stroke-width="1.4"/>
<rect x="183.3" y="321.13" width="4.7" height="2.62" fill="none" stroke="#000" stroke-width="1.4"/>
<line x1="191.82" y1="310.13" x2="191.82" y2="325.84" stroke="#000" stroke-width="1.4"/>
<rect x="188.77" y="316.59" width="6.1" height="2.62" fill="#000"/>
<line x1="197.99" y1="253.57" x2="197.99" y2="258.95" stroke="#000" stroke-width="1.4"/>
<line x1="197.99" y1="311.68" x2="197.99" y2="314.52" stroke="#000" stroke-width="1.4"/>
<rect x="195.64" y="259.35" width="4.7" height="51.93" fill="none" stroke="#000" stroke-width="1.4"/>
<line x1="204.17" y1="229.95" x2="204.17" y2="250.57" stroke="#000" stroke-width="1.4"/>
<line x1="204.17" y1="257.08" x2="204.17" y2="258.65" stroke="#000" stroke-width="1.4"/>
<rect x="201.82" y="250.97" width="4.7" height="5.71" fill="none" stroke="#000" stroke-width="1.4"/>
<line x1="210.34" y1="233.25" x2="210.34" y2="237.24" stroke="#000" stroke-width="1.4"/>
<line x1="210.34" y1="240.44" x2="210.34" y2="258.65" stroke="#000" stroke-width="1.4"/>
<rect x="207.99" y="237.64" width="4.7" height="2.4" fill="none" stroke="#000" stroke-width="1.4"/>
<line x1="216.51" y1="216.75" x2="216.51" y2="226.7" stroke="#000" stroke-width="1.4"/>
<line x1="216.51" y1="234.99" x2="216.51" y2="235.79" stroke="#000" stroke-width="1.4"/>
<rect x="214.16" y="227.1" width="4.7" height="7.49" fill="none" stroke="#000" stroke-width="1.4"/>
<line x1="222.68" y1="217.51" x2="222.68" y2="245.95" stroke="#d50a32" stroke-width="1.4"/>
<rect x="219.63" y="222.33" width="6.1" height="18.03" fill="#d50a32"/>
<line x1="228.85" y1="237.57" x2="228.85" y2="266.27" stroke="#d50a32" stroke-width="1.4"/>
<rect x="225.8" y="237.57" width="6.1" height="11.68" fill="#d50a32"/>
<line x1="235.03" y1="228.68" x2="235.03" y2="234.96" stroke="#000" stroke-width="1.4"/>
<line x1="235.03" y1="238.16" x2="235.03" y2="247.73" stroke="#000" stroke-width="1.4"/>
<rect x="232.68" y="235.36" width="4.7" height="2.4" fill="none" stroke="#000" stroke-width="1.4"/>
<line x1="241.2" y1="207.86" x2="241.2" y2="211.97" stroke="#000" stroke-width="1.4"/>
<line x1="241.2" y1="232.95" x2="241.2" y2="234.52" stroke="#000" stroke-width="1.4"/>
<rect x="238.85" y="212.37" width="4.7" height="20.19" fill="none" stroke="#000" stroke-width="1.4"/>
<line x1="247.37" y1="198.97" x2="247.37" y2="202.32" stroke="#000" stroke-width="1.4"/>
<line x1="247.37" y1="224.07" x2="247.37" y2="229.44" stroke="#000" stroke-width="1.4"/>
<rect x="245.02" y="202.72" width="4.7" height="20.95" fill="none" stroke="#000" stroke-width="1.4"/>
<line x1="253.54" y1="193.89" x2="253.54" y2="197.49" stroke="#000" stroke-width="1.4"/>
<line x1="253.54" y1="208.07" x2="253.54" y2="213.44" stroke="#000" stroke-width="1.4"/>
<rect x="251.19" y="197.89" width="4.7" height="9.77" fill="none" stroke="#000" stroke-width="1.4"/>
<line x1="259.72" y1="192.11" x2="259.72" y2="237.83" stroke="#d50a32" stroke-width="1.4"/>
<rect x="256.67" y="193.13" width="6.1" height="41.4" fill="#d50a32"/>
<line x1="265.89" y1="231.98" x2="265.89" y2="263.22" stroke="#d50a32" stroke-width="1.4"/>
<rect x="262.84" y="235.79" width="6.1" height="25.4" fill="#d50a32"/>
<line x1="272.06" y1="256.11" x2="272.06" y2="284.05" stroke="#d50a32" stroke-width="1.4"/>
<rect x="269.01" y="256.11" width="6.1" height="19.05" fill="#d50a32"/>
<line x1="278.23" y1="269.32" x2="278.23" y2="273.68" stroke="#000" stroke-width="1.4"/>
<line x1="278.23" y1="290.1" x2="278.23" y2="315.79" stroke="#000" stroke-width="1.4"/>
<rect x="275.88" y="274.08" width="4.7" height="15.62" fill="none" stroke="#000" stroke-width="1.4"/>
<line x1="284.41" y1="259.16" x2="284.41" y2="273.68" stroke="#d50a32" stroke-width="1.4"/>
<line x1="284.41" y1="285.53" x2="284.41" y2="311.98" stroke="#d50a32" stroke-width="1.4"/>
<rect x="282.06" y="274.08" width="4.7" height="11.04" fill="none" stroke="#d50a32" stroke-width="1.4"/>
<line x1="290.58" y1="248.49" x2="290.58" y2="285.32" stroke="#d50a32" stroke-width="1.4"/>
<rect x="287.53" y="268.81" width="6.1" height="4.57" fill="#d50a32"/>
<line x1="296.75" y1="253.06" x2="296.75" y2="295.98" stroke="#d50a32" stroke-width="1.4"/>
<rect x="293.7" y="268.3" width="6.1" height="16.51" fill="#d50a32"/>
<line x1="302.92" y1="308.21" x2="302.92" y2="373.11" stroke="#d50a32" stroke-width="1.4"/>
<rect x="299.87" y="320.84" width="6.1" height="26.43" fill="#d50a32"/>
<line x1="309.1" y1="342.86" x2="309.1" y2="344.63" stroke="#000" stroke-width="1.4"/>
<line x1="309.1" y1="355.78" x2="309.1" y2="385.45" stroke="#000" stroke-width="1.4"/>
<rect x="306.75" y="345.03" width="4.7" height="10.35" fill="none" stroke="#000" stroke-width="1.4"/>
<line x1="315.27" y1="319.96" x2="315.27" y2="323.19" stroke="#000" stroke-width="1.4"/>
<line x1="315.27" y1="348.44" x2="315.27" y2="350.21" stroke="#000" stroke-width="1.4"/>
<rect x="312.92" y="323.59" width="4.7" height="24.44" fill="none" stroke="#000" stroke-width="1.4"/>
<line x1="321.44" y1="319.37" x2="321.44" y2="325.54" stroke="#d50a32" stroke-width="1.4"/>
<line x1="321.44" y1="335.22" x2="321.44" y2="345.8" stroke="#d50a32" stroke-width="1.4"/>
<rect x="319.09" y="325.94" width="4.7" height="8.88" fill="none" stroke="#d50a32" stroke-width="1.4"/>
<line x1="327.61" y1="318.49" x2="327.61" y2="352.26" stroke="#d50a32" stroke-width="1.4"/>
<rect x="324.56" y="323.77" width="6.1" height="27.02" fill="#d50a32"/>
<line x1="333.79" y1="347.27" x2="333.79" y2="373.7" stroke="#d50a32" stroke-width="1.4"/>
<rect x="330.74" y="351.67" width="6.1" height="11.16" fill="#d50a32"/>
<line x1="339.96" y1="345.21" x2="339.96" y2="355.5" stroke="#000" stroke-width="1.4"/>
<line x1="339.96" y1="360.18" x2="339.96" y2="365.48" stroke="#000" stroke-width="1.4"/>
<rect x="337.61" y="355.9" width="4.7" height="3.89" fill="none" stroke="#000" stroke-width="1.4"/>
<line x1="346.13" y1="339.93" x2="346.13" y2="345.51" stroke="#000" stroke-width="1.4"/>
<line x1="346.13" y1="351.37" x2="346.13" y2="357.55" stroke="#000" stroke-width="1.4"/>
<rect x="343.78" y="345.91" width="4.7" height="5.06" fill="none" stroke="#000" stroke-width="1.4"/>
<line x1="352.3" y1="329.65" x2="352.3" y2="332.88" stroke="#000" stroke-width="1.4"/>
<line x1="352.3" y1="337.28" x2="352.3" y2="341.98" stroke="#000" stroke-width="1.4"/>
<rect x="349.95" y="333.28" width="4.7" height="3.59" fill="none" stroke="#000" stroke-width="1.4"/>
<line x1="358.48" y1="314.38" x2="358.48" y2="335.39" stroke="#d50a32" stroke-width="1.4"/>
<line x1="358.48" y1="338.59" x2="358.48" y2="344.33" stroke="#d50a32" stroke-width="1.4"/>
<rect x="356.13" y="335.79" width="4.7" height="2.4" fill="none" stroke="#d50a32" stroke-width="1.4"/>
<line x1="364.65" y1="326.12" x2="364.65" y2="353.14" stroke="#d50a32" stroke-width="1.4"/>
<rect x="361.6" y="334.05" width="6.1" height="12.63" fill="#d50a32"/>
<line x1="370.82" y1="341.4" x2="370.82" y2="365.48" stroke="#d50a32" stroke-width="1.4"/>
<rect x="367.77" y="347.27" width="6.1" height="6.46" fill="#d50a32"/>
<line x1="376.99" y1="327.59" x2="376.99" y2="334.35" stroke="#000" stroke-width="1.4"/>
<line x1="376.99" y1="348.44" x2="376.99" y2="353.14" stroke="#000" stroke-width="1.4"/>
<rect x="374.64" y="334.75" width="4.7" height="13.28" fill="none" stroke="#000" stroke-width="1.4"/>
<line x1="383.16" y1="322.31" x2="383.16" y2="332.45" stroke="#000" stroke-width="1.4"/>
<line x1="383.16" y1="335.65" x2="383.16" y2="336.99" stroke="#000" stroke-width="1.4"/>
<rect x="380.81" y="332.85" width="4.7" height="2.4" fill="none" stroke="#000" stroke-width="1.4"/>
<line x1="389.34" y1="342.28" x2="389.34" y2="386.33" stroke="#d50a32" stroke-width="1.4"/>
<rect x="386.29" y="347.27" width="6.1" height="38.18" fill="#d50a32"/>
<line x1="395.51" y1="379.57" x2="395.51" y2="406.01" stroke="#d50a32" stroke-width="1.4"/>
<rect x="392.46" y="391.91" width="6.1" height="8.81" fill="#d50a32"/>
<line x1="401.68" y1="383.1" x2="401.68" y2="409.53" stroke="#d50a32" stroke-width="1.4"/>
<rect x="398.63" y="400.13" width="6.1" height="5.29" fill="#d50a32"/>
<line x1="407.85" y1="398.66" x2="407.85" y2="435.37" stroke="#d50a32" stroke-width="1.4"/>
<rect x="404.8" y="401.01" width="6.1" height="33.48" fill="#d50a32"/>
<line x1="414.03" y1="441.9" x2="414.03" y2="446.52" stroke="#d50a32" stroke-width="1.4"/>
<line x1="414.03" y1="462.43" x2="414.03" y2="477.46" stroke="#d50a32" stroke-width="1.4"/>
<rect x="411.68" y="446.92" width="4.7" height="15.11" fill="none" stroke="#d50a32" stroke-width="1.4"/>
<line x1="420.2" y1="424.89" x2="420.2" y2="431.54" stroke="#000" stroke-width="1.4"/>
<line x1="420.2" y1="443.38" x2="420.2" y2="448.76" stroke="#000" stroke-width="1.4"/>
<rect x="417.85" y="431.94" width="4.7" height="11.04" fill="none" stroke="#000" stroke-width="1.4"/>
<line x1="426.37" y1="419.81" x2="426.37" y2="428.24" stroke="#000" stroke-width="1.4"/>
<line x1="426.37" y1="446.68" x2="426.37" y2="452.06" stroke="#000" stroke-width="1.4"/>
<rect x="424.02" y="428.64" width="4.7" height="17.65" fill="none" stroke="#000" stroke-width="1.4"/>
<line x1="432.54" y1="422.86" x2="432.54" y2="471.62" stroke="#d50a32" stroke-width="1.4"/>
<rect x="429.49" y="426.16" width="6.1" height="30.98" fill="#d50a32"/>
<line x1="438.72" y1="390.6" x2="438.72" y2="397.25" stroke="#000" stroke-width="1.4"/>
<line x1="438.72" y1="442.37" x2="438.72" y2="443.68" stroke="#000" stroke-width="1.4"/>
<rect x="436.37" y="397.65" width="4.7" height="44.31" fill="none" stroke="#000" stroke-width="1.4"/>
<line x1="444.89" y1="373.33" x2="444.89" y2="383.79" stroke="#000" stroke-width="1.4"/>
<line x1="444.89" y1="392.84" x2="444.89" y2="398.22" stroke="#000" stroke-width="1.4"/>
<rect x="442.54" y="384.19" width="4.7" height="8.25" fill="none" stroke="#000" stroke-width="1.4"/>
<line x1="451.06" y1="377.14" x2="451.06" y2="378.71" stroke="#000" stroke-width="1.4"/>
<line x1="451.06" y1="406.56" x2="451.06" y2="410.67" stroke="#000" stroke-width="1.4"/>
<rect x="448.71" y="379.11" width="4.7" height="27.04" fill="none" stroke="#000" stroke-width="1.4"/>
<line x1="457.23" y1="331.43" x2="457.23" y2="372.87" stroke="#000" stroke-width="1.4"/>
<line x1="457.23" y1="384.46" x2="457.23" y2="391.11" stroke="#000" stroke-width="1.4"/>
<rect x="454.88" y="373.27" width="4.7" height="10.79" fill="none" stroke="#000" stroke-width="1.4"/>
<line x1="463.41" y1="269.52" x2="463.41" y2="297.2" stroke="#000" stroke-width="1.4"/>
<line x1="463.41" y1="331.13" x2="463.41" y2="336.67" stroke="#000" stroke-width="1.4"/>
<rect x="461.06" y="297.6" width="4.7" height="33.12" fill="none" stroke="#000" stroke-width="1.4"/>
<line x1="469.58" y1="276.67" x2="469.58" y2="310.95" stroke="#d50a32" stroke-width="1.4"/>
<rect x="466.53" y="281.9" width="6.1" height="16.67" fill="#d50a32"/>
<line x1="475.75" y1="255.71" x2="475.75" y2="287.68" stroke="#000" stroke-width="1.4"/>
<line x1="475.75" y1="300.18" x2="475.75" y2="306.9" stroke="#000" stroke-width="1.4"/>
<rect x="473.4" y="288.08" width="4.7" height="11.7" fill="none" stroke="#000" stroke-width="1.4"/>
<line x1="481.92" y1="254.52" x2="481.92" y2="269.82" stroke="#000" stroke-width="1.4"/>
<line x1="481.92" y1="284.7" x2="481.92" y2="285.48" stroke="#000" stroke-width="1.4"/>
<rect x="479.57" y="270.22" width="4.7" height="14.08" fill="none" stroke="#000" stroke-width="1.4"/>
<line x1="488.1" y1="250.95" x2="488.1" y2="281.19" stroke="#000" stroke-width="1.4"/>
<rect x="485.05" y="262.38" width="6.1" height="4.76" fill="#000"/>
<line x1="494.27" y1="256.43" x2="494.27" y2="261.26" stroke="#000" stroke-width="1.4"/>
<line x1="494.27" y1="264.46" x2="494.27" y2="295" stroke="#000" stroke-width="1.4"/>
<rect x="491.92" y="261.66" width="4.7" height="2.4" fill="none" stroke="#000" stroke-width="1.4"/>
<line x1="500.44" y1="244.52" x2="500.44" y2="283.81" stroke="#d50a32" stroke-width="1.4"/>
<rect x="497.39" y="256.19" width="6.1" height="7.86" fill="#d50a32"/>
<line x1="506.61" y1="231.9" x2="506.61" y2="233.87" stroke="#000" stroke-width="1.4"/>
<line x1="506.61" y1="266.84" x2="506.61" y2="273.57" stroke="#000" stroke-width="1.4"/>
<rect x="504.26" y="234.27" width="4.7" height="32.17" fill="none" stroke="#000" stroke-width="1.4"/>
<line x1="512.79" y1="233.57" x2="512.79" y2="238.16" stroke="#d50a32" stroke-width="1.4"/>
<line x1="512.79" y1="244.7" x2="512.79" y2="254.05" stroke="#d50a32" stroke-width="1.4"/>
<rect x="510.44" y="238.56" width="4.7" height="5.74" fill="none" stroke="#d50a32" stroke-width="1.4"/>
<line x1="518.96" y1="205" x2="518.96" y2="223.4" stroke="#000" stroke-width="1.4"/>
<line x1="518.96" y1="237.56" x2="518.96" y2="238.33" stroke="#000" stroke-width="1.4"/>
<rect x="516.61" y="223.8" width="4.7" height="13.36" fill="none" stroke="#000" stroke-width="1.4"/>
<line x1="525.13" y1="211.19" x2="525.13" y2="235.48" stroke="#d50a32" stroke-width="1.4"/>
<rect x="522.08" y="218.81" width="6.1" height="10.71" fill="#d50a32"/>
<line x1="531.3" y1="217.62" x2="531.3" y2="231.02" stroke="#d50a32" stroke-width="1.4"/>
<rect x="528.95" y="231.42" width="4.7" height="2.4" fill="none" stroke="#d50a32" stroke-width="1.4"/>
<line x1="537.47" y1="216.43" x2="537.47" y2="235.48" stroke="#000" stroke-width="1.4"/>
<rect x="534.42" y="229.52" width="6.1" height="2.38" fill="#000"/>
<line x1="543.65" y1="222.38" x2="543.65" y2="225.54" stroke="#000" stroke-width="1.4"/>
<line x1="543.65" y1="231.13" x2="543.65" y2="236.67" stroke="#000" stroke-width="1.4"/>
<rect x="541.3" y="225.94" width="4.7" height="4.79" fill="none" stroke="#000" stroke-width="1.4"/>
<line x1="549.82" y1="228.33" x2="549.82" y2="248.17" stroke="#d50a32" stroke-width="1.4"/>
<rect x="546.77" y="230.24" width="6.1" height="2.86" fill="#d50a32"/>
<line x1="555.99" y1="234.68" x2="555.99" y2="261.67" stroke="#d50a32" stroke-width="1.4"/>
<rect x="552.94" y="237.54" width="6.1" height="2.22" fill="#d50a32"/>
<line x1="562.16" y1="211.35" x2="562.16" y2="226.73" stroke="#000" stroke-width="1.4"/>
<line x1="562.16" y1="232.8" x2="562.16" y2="239.44" stroke="#000" stroke-width="1.4"/>
<rect x="559.81" y="227.13" width="4.7" height="5.27" fill="none" stroke="#000" stroke-width="1.4"/>
<line x1="568.34" y1="214.84" x2="568.34" y2="230.71" stroke="#d50a32" stroke-width="1.4"/>
<rect x="565.29" y="225.16" width="6.1" height="3.49" fill="#d50a32"/>
<line x1="574.51" y1="214.05" x2="574.51" y2="252.94" stroke="#d50a32" stroke-width="1.4"/>
<rect x="571.46" y="220.08" width="6.1" height="24.44" fill="#d50a32"/>
<line x1="580.68" y1="234.68" x2="580.68" y2="239.43" stroke="#000" stroke-width="1.4"/>
<line x1="580.68" y1="247.56" x2="580.68" y2="261.67" stroke="#000" stroke-width="1.4"/>
<rect x="578.33" y="239.83" width="4.7" height="7.33" fill="none" stroke="#000" stroke-width="1.4"/>
<line x1="586.85" y1="229.92" x2="586.85" y2="268.81" stroke="#d50a32" stroke-width="1.4"/>
<rect x="583.8" y="242.14" width="6.1" height="21.9" fill="#d50a32"/>
<line x1="593.03" y1="257.22" x2="593.03" y2="262.76" stroke="#000" stroke-width="1.4"/>
<line x1="593.03" y1="268.51" x2="593.03" y2="277.54" stroke="#000" stroke-width="1.4"/>
<rect x="590.68" y="263.16" width="4.7" height="4.95" fill="none" stroke="#000" stroke-width="1.4"/>
<line x1="599.2" y1="261.98" x2="599.2" y2="264.59" stroke="#d50a32" stroke-width="1.4"/>
<line x1="599.2" y1="267.79" x2="599.2" y2="277.54" stroke="#d50a32" stroke-width="1.4"/>
<rect x="596.85" y="264.99" width="4.7" height="2.4" fill="none" stroke="#d50a32" stroke-width="1.4"/>
<line x1="605.37" y1="253.41" x2="605.37" y2="259.11" stroke="#000" stroke-width="1.4"/>
<line x1="605.37" y1="264.54" x2="605.37" y2="275.16" stroke="#000" stroke-width="1.4"/>
<rect x="603.02" y="259.51" width="4.7" height="4.63" fill="none" stroke="#000" stroke-width="1.4"/>
<line x1="611.54" y1="248.17" x2="611.54" y2="265.63" stroke="#d50a32" stroke-width="1.4"/>
<rect x="608.49" y="258.49" width="6.1" height="5.87" fill="#d50a32"/>
<line x1="617.72" y1="244.68" x2="617.72" y2="260.38" stroke="#000" stroke-width="1.4"/>
<line x1="617.72" y1="266.92" x2="617.72" y2="270.4" stroke="#000" stroke-width="1.4"/>
<rect x="615.37" y="260.78" width="4.7" height="5.74" fill="none" stroke="#000" stroke-width="1.4"/>
<line x1="623.89" y1="243.41" x2="623.89" y2="251.65" stroke="#000" stroke-width="1.4"/>
<line x1="623.89" y1="258.19" x2="623.89" y2="262.46" stroke="#000" stroke-width="1.4"/>
<rect x="621.54" y="252.05" width="4.7" height="5.74" fill="none" stroke="#000" stroke-width="1.4"/>
<line x1="630.06" y1="194.42" x2="630.06" y2="202.05" stroke="#000" stroke-width="1.4"/>
<line x1="630.06" y1="242.48" x2="630.06" y2="249.77" stroke="#000" stroke-width="1.4"/>
<rect x="627.71" y="202.45" width="4.7" height="39.63" fill="none" stroke="#000" stroke-width="1.4"/>
<line x1="636.23" y1="169.45" x2="636.23" y2="192.45" stroke="#000" stroke-width="1.4"/>
<rect x="633.88" y="192.85" width="4.7" height="7.33" fill="none" stroke="#000" stroke-width="1.4"/>
<line x1="642.41" y1="175.91" x2="642.41" y2="179.87" stroke="#000" stroke-width="1.4"/>
<line x1="642.41" y1="189.23" x2="642.41" y2="203.49" stroke="#000" stroke-width="1.4"/>
<rect x="640.06" y="180.27" width="4.7" height="8.55" fill="none" stroke="#000" stroke-width="1.4"/>
<line x1="648.58" y1="159.84" x2="648.58" y2="166.6" stroke="#000" stroke-width="1.4"/>
<line x1="648.58" y1="173.16" x2="648.58" y2="178.53" stroke="#000" stroke-width="1.4"/>
<rect x="646.23" y="167" width="4.7" height="5.76" fill="none" stroke="#000" stroke-width="1.4"/>
<line x1="654.75" y1="151.11" x2="654.75" y2="183.76" stroke="#d50a32" stroke-width="1.4"/>
<rect x="651.7" y="154.95" width="6.1" height="23.75" fill="#d50a32"/>
<line x1="660.92" y1="186.9" x2="660.92" y2="261.43" stroke="#d50a32" stroke-width="1.4"/>
<rect x="657.87" y="193.1" width="6.1" height="64.76" fill="#d50a32"/>
<line x1="667.1" y1="251.9" x2="667.1" y2="255.3" stroke="#000" stroke-width="1.4"/>
<line x1="667.1" y1="261.84" x2="667.1" y2="293.57" stroke="#000" stroke-width="1.4"/>
<rect x="664.75" y="255.7" width="4.7" height="5.74" fill="none" stroke="#000" stroke-width="1.4"/>
<line x1="673.27" y1="245.95" x2="673.27" y2="294.76" stroke="#d50a32" stroke-width="1.4"/>
<rect x="670.22" y="257.38" width="6.1" height="32.14" fill="#d50a32"/>
<line x1="679.44" y1="260.95" x2="679.44" y2="270.06" stroke="#000" stroke-width="1.4"/>
<line x1="679.44" y1="284.46" x2="679.44" y2="305.48" stroke="#000" stroke-width="1.4"/>
<rect x="677.09" y="270.46" width="4.7" height="13.6" fill="none" stroke="#000" stroke-width="1.4"/>
<line x1="685.61" y1="275.71" x2="685.61" y2="277.68" stroke="#d50a32" stroke-width="1.4"/>
<line x1="685.61" y1="305.18" x2="685.61" y2="336.43" stroke="#d50a32" stroke-width="1.4"/>
<rect x="683.26" y="278.08" width="4.7" height="26.7" fill="none" stroke="#d50a32" stroke-width="1.4"/>
<line x1="691.78" y1="251.9" x2="691.78" y2="290.71" stroke="#d50a32" stroke-width="1.4"/>
<rect x="688.73" y="275.71" width="6.1" height="13.1" fill="#d50a32"/>
<line x1="697.96" y1="275.71" x2="697.96" y2="280.78" stroke="#000" stroke-width="1.4"/>
<line x1="697.96" y1="290.41" x2="697.96" y2="304.29" stroke="#000" stroke-width="1.4"/>
<rect x="695.61" y="281.18" width="4.7" height="8.84" fill="none" stroke="#000" stroke-width="1.4"/>
<line x1="704.13" y1="261.9" x2="704.13" y2="271.73" stroke="#000" stroke-width="1.4"/>
<line x1="704.13" y1="280.18" x2="704.13" y2="287.62" stroke="#000" stroke-width="1.4"/>
<rect x="701.78" y="272.13" width="4.7" height="7.65" fill="none" stroke="#000" stroke-width="1.4"/>
<line x1="710.3" y1="219.76" x2="710.3" y2="224.35" stroke="#000" stroke-width="1.4"/>
<line x1="710.3" y1="263.03" x2="710.3" y2="270.24" stroke="#000" stroke-width="1.4"/>
<rect x="707.95" y="224.75" width="4.7" height="37.89" fill="none" stroke="#000" stroke-width="1.4"/>
<line x1="716.47" y1="219.76" x2="716.47" y2="270.24" stroke="#d50a32" stroke-width="1.4"/>
<rect x="713.42" y="223.33" width="6.1" height="35.71" fill="#d50a32"/>
<line x1="722.65" y1="251.9" x2="722.65" y2="289.52" stroke="#d50a32" stroke-width="1.4"/>
<rect x="719.6" y="251.9" width="6.1" height="14.76" fill="#d50a32"/>
<line x1="728.82" y1="279.29" x2="728.82" y2="316.19" stroke="#d50a32" stroke-width="1.4"/>
<rect x="725.77" y="279.29" width="6.1" height="32.62" fill="#d50a32"/>
<line x1="734.99" y1="293.57" x2="734.99" y2="340.48" stroke="#d50a32" stroke-width="1.4"/>
<rect x="731.94" y="300.24" width="6.1" height="30.71" fill="#d50a32"/>
<line x1="741.16" y1="292.9" x2="741.16" y2="326.94" stroke="#000" stroke-width="1.4"/>
<rect x="738.11" y="315.51" width="6.1" height="2.54" fill="#000"/>
<line x1="747.34" y1="316.27" x2="747.34" y2="352.59" stroke="#d50a32" stroke-width="1.4"/>
<rect x="744.29" y="326.43" width="6.1" height="3.81" fill="#d50a32"/>
<line x1="753.51" y1="309.92" x2="753.51" y2="331.51" stroke="#000" stroke-width="1.4"/>
<rect x="750.46" y="317.54" width="6.1" height="5.08" fill="#000"/>
<line x1="759.68" y1="295.44" x2="759.68" y2="307.68" stroke="#000" stroke-width="1.4"/>
<line x1="759.68" y1="318.51" x2="759.68" y2="326.43" stroke="#000" stroke-width="1.4"/>
<rect x="757.33" y="308.08" width="4.7" height="10.03" fill="none" stroke="#000" stroke-width="1.4"/>
<line x1="765.85" y1="271.06" x2="765.85" y2="295.95" stroke="#000" stroke-width="1.4"/>
<rect x="762.8" y="274.37" width="6.1" height="1.27" fill="#000"/>
<line x1="772.03" y1="248.21" x2="772.03" y2="304.84" stroke="#d50a32" stroke-width="1.4"/>
<rect x="768.98" y="269.79" width="6.1" height="33.78" fill="#d50a32"/>
<line x1="778.2" y1="295.19" x2="778.2" y2="309.71" stroke="#d50a32" stroke-width="1.4"/>
<line x1="778.2" y1="313.43" x2="778.2" y2="337.86" stroke="#d50a32" stroke-width="1.4"/>
<rect x="775.85" y="310.11" width="4.7" height="2.92" fill="none" stroke="#d50a32" stroke-width="1.4"/>
<line x1="784.37" y1="310.43" x2="784.37" y2="383.06" stroke="#d50a32" stroke-width="1.4"/>
<rect x="781.32" y="310.43" width="6.1" height="49.52" fill="#d50a32"/>
<line x1="790.54" y1="316.27" x2="790.54" y2="324.19" stroke="#000" stroke-width="1.4"/>
<line x1="790.54" y1="348.22" x2="790.54" y2="352.33" stroke="#000" stroke-width="1.4"/>
<rect x="788.19" y="324.59" width="4.7" height="23.23" fill="none" stroke="#000" stroke-width="1.4"/>
<line x1="796.72" y1="335.78" x2="796.72" y2="339.89" stroke="#000" stroke-width="1.4"/>
<rect x="794.37" y="316.21" width="4.7" height="19.17" fill="none" stroke="#000" stroke-width="1.4"/>
<line x1="802.89" y1="290.87" x2="802.89" y2="294.98" stroke="#000" stroke-width="1.4"/>
<line x1="802.89" y1="318.51" x2="802.89" y2="320.08" stroke="#000" stroke-width="1.4"/>
<rect x="800.54" y="295.38" width="4.7" height="22.73" fill="none" stroke="#000" stroke-width="1.4"/>
<line x1="809.06" y1="271.06" x2="809.06" y2="274.67" stroke="#000" stroke-width="1.4"/>
<line x1="809.06" y1="282.19" x2="809.06" y2="289.6" stroke="#000" stroke-width="1.4"/>
<rect x="806.71" y="275.07" width="4.7" height="6.73" fill="none" stroke="#000" stroke-width="1.4"/>
</g>
<polyline points="62.1,361.5 67.01,360.7 73.92,359.57 82.04,358.24 90.59,356.86 98.77,355.57 105.8,354.5 111.92,353.63 117.81,352.84 123.34,352.14 128.36,351.53 132.73,351.02 136.3,350.6 138.71,350.39 139.99,350.4 140.61,350.51 141.06,350.58 141.8,350.49 143.3,350.1 145.45,349.35 147.84,348.33 150.53,347.14 153.55,345.9 156.96,344.72 160.8,343.7 165.43,342.85 170.89,342.07 176.73,341.34 182.52,340.66 187.82,339.98 192.2,339.3 195.57,338.61 198.27,337.93 200.47,337.27 202.38,336.62 204.16,336 206,335.4 207.64,334.93 208.87,334.61 209.98,334.32 211.24,333.92 212.96,333.29 215.4,332.3 218.83,330.81 223.06,328.88 227.74,326.73 232.5,324.54 236.97,322.53 240.8,320.9 243.89,319.66 246.53,318.64 248.88,317.79 251.12,317.07 253.43,316.43 256,315.8 258.76,315.23 261.55,314.76 264.42,314.36 267.39,314.01 270.51,313.66 273.8,313.3 277.39,312.92 281.28,312.54 285.31,312.17 289.32,311.82 293.17,311.49 296.7,311.2 299.75,310.91 302.43,310.61 304.93,310.34 307.49,310.13 310.3,310 313.6,310 317.52,310.22 321.91,310.64 326.57,311.16 331.28,311.64 335.83,311.97 340,312 343.77,311.68 347.3,311.1 350.66,310.35 353.95,309.55 357.23,308.8 360.6,308.2 364.07,307.7 367.58,307.19 371.09,306.73 374.56,306.37 377.94,306.18 381.2,306.2 384.27,306.48 387.18,306.99 390.01,307.66 392.83,308.43 395.73,309.23 398.8,310 402.12,310.77 405.63,311.6 409.23,312.46 412.79,313.33 416.19,314.19 419.3,315 422.12,315.81 424.73,316.64 427.18,317.46 429.51,318.21 431.77,318.88 434,319.4 436,319.78 437.69,320.05 439.31,320.22 441.09,320.31 443.24,320.33 446,320.3 449.51,320.23 453.62,320.1 458.11,319.91 462.77,319.63 467.37,319.27 471.7,318.8 475.78,318.15 479.77,317.33 483.72,316.41 487.64,315.49 491.56,314.65 495.5,314 499.43,313.52 503.33,313.14 507.22,312.86 511.15,312.64 515.17,312.5 519.3,312.4 523.83,312.39 528.77,312.48 533.79,312.64 538.56,312.82 542.74,312.99 546,313.1 548.17,313.15 549.49,313.17 550.21,313.18 550.63,313.19 551,313.22 551.6,313.3 552.19,313.44 552.51,313.64 552.78,313.86 553.25,314.08 554.14,314.27 555.7,314.4 558.22,314.48 561.58,314.53 565.36,314.55 569.17,314.54 572.58,314.49 575.2,314.4 576.77,314.24 577.58,314.01 577.99,313.75 578.4,313.49 579.18,313.26 580.7,313.1 583.14,313.06 586.24,313.11 589.71,313.19 593.26,313.26 596.62,313.25 599.5,313.1 601.86,312.8 603.93,312.37 605.79,311.88 607.57,311.34 609.37,310.8 611.3,310.3 613.42,309.84 615.67,309.39 617.94,308.94 620.13,308.49 622.11,308.01 623.8,307.5 625.1,306.95 626.1,306.36 626.89,305.74 627.61,305.13 628.38,304.55 629.3,304 630.35,303.53 631.42,303.14 632.54,302.76 633.71,302.36 634.96,301.89 636.3,301.3 637.78,300.57 639.39,299.72 641.07,298.81 642.77,297.86 644.43,296.91 646,296 647.42,295.11 648.74,294.21 650.02,293.31 651.33,292.43 652.74,291.59 654.3,290.8 656.06,290.05 657.97,289.34 659.98,288.66 662.03,288.02 664.05,287.43 666,286.9 667.73,286.49 669.24,286.19 670.74,285.95 672.41,285.69 674.43,285.33 677,284.8 680.28,284.14 684.16,283.41 688.4,282.59 692.75,281.64 696.96,280.56 700.8,279.3 704.22,277.78 707.4,276 710.45,274.08 713.47,272.13 716.55,270.26 719.8,268.6 723.33,267.09 727.08,265.63 730.9,264.25 734.63,263 738.11,261.9 741.2,261 743.78,260.38 745.96,260.01 747.89,259.81 749.73,259.66 751.65,259.46 753.8,259.1 756.21,258.53 758.77,257.81 761.39,257.05 764.02,256.32 766.58,255.71 769,255.3 771.26,255.11 773.42,255.07 775.51,255.15 777.56,255.32 779.61,255.55 781.7,255.8 783.79,256.11 785.86,256.5 787.93,256.96 790.02,257.44 792.17,257.93 794.4,258.4 796.9,258.89 799.7,259.42 802.54,259.96 805.21,260.47 807.48,260.89 809.1,261.2" fill="none" stroke="#1c1c9c" stroke-width="1.55" stroke-linejoin="round" />
<polyline points="62.1,280.8 63.38,280.83 65.05,280.87 67.08,280.91 69.45,280.98 72.13,281.07 75.1,281.2 78.48,281.38 82.3,281.59 86.44,281.84 90.76,282.1 95.12,282.36 99.4,282.6 103.73,282.84 108.26,283.07 112.83,283.31 117.31,283.55 121.54,283.78 125.4,284 128.8,284.21 131.84,284.41 134.64,284.61 137.32,284.81 140,285 142.8,285.2 145.7,285.4 148.6,285.59 151.51,285.79 154.41,285.99 157.31,286.19 160.2,286.4 163.11,286.62 166.03,286.84 168.96,287.07 171.86,287.3 174.71,287.55 177.5,287.8 180.24,288.09 182.96,288.42 185.63,288.76 188.24,289.07 190.77,289.33 193.2,289.5 195.45,289.58 197.53,289.59 199.52,289.54 201.53,289.45 203.66,289.33 206,289.2 208.43,289.01 210.86,288.75 213.39,288.46 216.18,288.19 219.34,287.98 223,287.9 227.36,287.96 232.36,288.14 237.72,288.39 243.21,288.66 248.56,288.91 253.5,289.1 258.12,289.21 262.65,289.27 267.04,289.31 271.24,289.36 275.21,289.44 278.9,289.6 282.27,289.83 285.33,290.12 288.17,290.44 290.84,290.79 293.43,291.15 296,291.5 298.38,291.86 300.49,292.23 302.5,292.62 304.61,293 307.02,293.36 309.9,293.7 313.05,293.95 316.28,294.1 319.8,294.24 323.82,294.43 328.55,294.76 334.2,295.3 341.27,296.09 349.7,297.07 358.83,298.19 368.04,299.38 376.67,300.57 384.1,301.7 390.15,302.77 395.3,303.85 399.89,304.92 404.23,306.01 408.66,307.1 413.5,308.2 418.95,309.38 424.8,310.64 430.73,311.92 436.44,313.12 441.63,314.18 446,315 449.27,315.54 451.61,315.86 453.44,316.02 455.15,316.11 457.14,316.21 459.8,316.4 463.19,316.66 466.99,316.92 471.08,317.19 475.3,317.47 479.52,317.77 483.6,318.1 487.62,318.46 491.71,318.85 495.79,319.26 499.81,319.67 503.71,320.09 507.4,320.5 510.85,320.93 514.1,321.38 517.22,321.84 520.28,322.26 523.35,322.63 526.5,322.9 529.76,323.07 533.07,323.15 536.4,323.17 539.69,323.15 542.91,323.12 546,323.1 549.08,323.09 552.19,323.06 555.23,323.03 558.07,322.97 560.6,322.9 562.7,322.8 564.04,322.66 564.64,322.49 564.93,322.29 565.34,322.09 566.28,321.92 568.2,321.8 571.46,321.75 575.81,321.74 580.69,321.77 585.58,321.79 589.93,321.78 593.2,321.7 594.97,321.54 595.58,321.31 595.66,321.05 595.81,320.79 596.65,320.56 598.8,320.4 602.73,320.32 608.04,320.31 614.05,320.33 620.06,320.36 625.37,320.35 629.3,320.3 631.64,320.18 632.91,320.01 633.49,319.81 633.76,319.61 634.1,319.44 634.9,319.3 636.16,319.22 637.57,319.17 639.05,319.14 640.53,319.12 641.94,319.08 643.2,319 644.16,318.87 644.84,318.71 645.44,318.53 646.17,318.36 647.23,318.2 648.8,318.1 650.98,318.05 653.64,318.04 656.62,318.06 659.77,318.08 662.95,318.1 666,318.1 669.06,318.09 672.29,318.08 675.53,318.06 678.67,318.03 681.57,317.98 684.1,317.9 685.93,317.78 687.11,317.63 688.04,317.46 689.16,317.28 690.87,317.09 693.6,316.9 696.89,316.7 700.33,316.47 704.36,316.23 709.44,316.01 716.04,315.83 724.6,315.7 736.67,315.64 752.2,315.64 769.24,315.67 785.84,315.73 800.08,315.77 810,315.8" fill="none" stroke="#d50a32" stroke-width="1.45" stroke-linejoin="round" />
<rect x="61.7" y="143.39999999999998" width="150" height="15.8" fill="#fff"/>
<rect x="61.7" y="159" width="98" height="13" fill="#fff"/>
<rect x="61.7" y="172" width="105.5" height="13" fill="#fff"/>
<rect x="61.7" y="185" width="114.5" height="13" fill="#fff"/>
<path d="M65.9 151.5 v3.4 M69.5 146.4 v9 M73.1 146.2 v9.6" stroke="#000" stroke-width="1.1" fill="none"/>
<rect x="64.7" y="147.3" width="2.4" height="4" fill="#fff" stroke="#000" stroke-width="1.1"/>
<rect x="67.8" y="148.4" width="3.4" height="6.7" fill="#000"/>
<rect x="71.9" y="147.5" width="2.5" height="7.2" fill="#fff" stroke="#000" stroke-width="1.3"/>
<text transform="translate(80,155.25) scale(1.13,1)" x="0" y="0" font-size="11.3" fill="#000" stroke="#000" stroke-width="0.2" textLength="22.48" lengthAdjust="spacing">CAT</text>
<text transform="translate(111.9,155.25) scale(1.13,1)" x="0" y="0" font-size="11.3" fill="#000" stroke="#000" stroke-width="0.2" textLength="39.29" lengthAdjust="spacing">(Daily)</text>
<text transform="translate(162.8,155.25) scale(1.13,1)" x="0" y="0" font-size="11.3" fill="#000" stroke="#000" stroke-width="0.2" textLength="40.97" lengthAdjust="spacing">212.99</text>
<line x1="64.1" y1="164.4" x2="75" y2="164.4" stroke="#1c1c9c" stroke-width="2.3"/>
<text x="76.9" y="169.35" font-size="11.3" font-weight="normal" fill="#1c1c9c" stroke="#1c1c9c" stroke-width="0.3" textLength="78.8" lengthAdjust="spacingAndGlyphs">MA(50) 215.58</text>
<line x1="64.1" y1="177.9" x2="75" y2="177.9" stroke="#d50a32" stroke-width="2.3"/>
<text x="76.9" y="182.85" font-size="11.3" font-weight="normal" fill="#d50a32" stroke="#d50a32" stroke-width="0.3" textLength="85.4" lengthAdjust="spacingAndGlyphs">MA(200) 205.57</text>
<path d="M65.4 194.6 v-5.4 M67.9 194.6 v-9 M70.4 194.6 v-7.2 M73.1 194.6 v-8.1" stroke="#5c5c5c" stroke-width="2.1" fill="none"/>
<text x="77.6" y="194.95" font-size="11.3" font-weight="normal" fill="#444" stroke="#444" stroke-width="0.22" textLength="94.7" lengthAdjust="spacingAndGlyphs">Volume 2,014,167</text>
<line x1="61" y1="525.2" x2="817.7" y2="525.2" stroke="#e6e6e6" stroke-width="1"/>
<line x1="61" y1="544.8" x2="817.7" y2="544.8" stroke="#e6e6e6" stroke-width="1"/>
<line x1="61" y1="564.3" x2="817.7" y2="564.3" stroke="#e6e6e6" stroke-width="1"/>
<line x1="61" y1="584.6" x2="817.7" y2="584.6" stroke="#e6e6e6" stroke-width="1"/>
<line x1="61" y1="604.9" x2="817.7" y2="604.9" stroke="#e6e6e6" stroke-width="1"/>
<line x1="74.54" y1="503.2" x2="74.54" y2="622.2" stroke="#d2d2d2" stroke-width="1"/>
<line x1="105.41" y1="503.2" x2="105.41" y2="622.2" stroke="#d2d2d2" stroke-width="1"/>
<line x1="136.27" y1="503.2" x2="136.27" y2="622.2" stroke="#d2d2d2" stroke-width="1"/>
<line x1="160.96" y1="503.2" x2="160.96" y2="622.2" stroke="#d2d2d2" stroke-width="1"/>
<line x1="222.68" y1="503.2" x2="222.68" y2="622.2" stroke="#d2d2d2" stroke-width="1"/>
<line x1="253.54" y1="503.2" x2="253.54" y2="622.2" stroke="#d2d2d2" stroke-width="1"/>
<line x1="278.23" y1="503.2" x2="278.23" y2="622.2" stroke="#d2d2d2" stroke-width="1"/>
<line x1="309.1" y1="503.2" x2="309.1" y2="622.2" stroke="#d2d2d2" stroke-width="1"/>
<line x1="339.96" y1="503.2" x2="339.96" y2="622.2" stroke="#d2d2d2" stroke-width="1"/>
<line x1="370.82" y1="503.2" x2="370.82" y2="622.2" stroke="#d2d2d2" stroke-width="1"/>
<line x1="401.68" y1="503.2" x2="401.68" y2="622.2" stroke="#d2d2d2" stroke-width="1"/>
<line x1="426.37" y1="503.2" x2="426.37" y2="622.2" stroke="#d2d2d2" stroke-width="1"/>
<line x1="457.23" y1="503.2" x2="457.23" y2="622.2" stroke="#d2d2d2" stroke-width="1"/>
<line x1="488.1" y1="503.2" x2="488.1" y2="622.2" stroke="#d2d2d2" stroke-width="1"/>
<line x1="518.96" y1="503.2" x2="518.96" y2="622.2" stroke="#d2d2d2" stroke-width="1"/>
<line x1="549.82" y1="503.2" x2="549.82" y2="622.2" stroke="#d2d2d2" stroke-width="1"/>
<line x1="580.68" y1="503.2" x2="580.68" y2="622.2" stroke="#d2d2d2" stroke-width="1"/>
<line x1="611.54" y1="503.2" x2="611.54" y2="622.2" stroke="#d2d2d2" stroke-width="1"/>
<line x1="636.23" y1="503.2" x2="636.23" y2="622.2" stroke="#d2d2d2" stroke-width="1"/>
<line x1="667.1" y1="503.2" x2="667.1" y2="622.2" stroke="#d2d2d2" stroke-width="1"/>
<line x1="728.82" y1="503.2" x2="728.82" y2="622.2" stroke="#d2d2d2" stroke-width="1"/>
<line x1="759.68" y1="503.2" x2="759.68" y2="622.2" stroke="#d2d2d2" stroke-width="1"/>
<line x1="790.54" y1="503.2" x2="790.54" y2="622.2" stroke="#d2d2d2" stroke-width="1"/>
<line x1="191.82" y1="503.2" x2="191.82" y2="622.2" stroke="#c0c0c0" stroke-width="1.15"/>
<line x1="315.27" y1="503.2" x2="315.27" y2="622.2" stroke="#c0c0c0" stroke-width="1.15"/>
<line x1="432.54" y1="503.2" x2="432.54" y2="622.2" stroke="#c0c0c0" stroke-width="1.15"/>
<line x1="574.51" y1="503.2" x2="574.51" y2="622.2" stroke="#c0c0c0" stroke-width="1.15"/>
<line x1="697.96" y1="503.2" x2="697.96" y2="622.2" stroke="#c0c0c0" stroke-width="1.15"/>
<rect x="61" y="564.2" width="5.42" height="11.57" fill="#4a9ccc" stroke="#1f5f8b" stroke-width="0.9"/>
<rect x="66.42" y="564.2" width="6.17" height="9.95" fill="#4a9ccc" stroke="#1f5f8b" stroke-width="0.9"/>
<rect x="72.59" y="564.2" width="6.17" height="5.79" fill="#4a9ccc" stroke="#1f5f8b" stroke-width="0.9"/>
<rect x="78.77" y="564.2" width="6.17" height="1.62" fill="#4a9ccc" stroke="#1f5f8b" stroke-width="0.9"/>
<rect x="84.94" y="563.51" width="6.17" height="0.69" fill="#4a9ccc" stroke="#1f5f8b" stroke-width="0.9"/>
<rect x="91.11" y="561.89" width="6.17" height="2.31" fill="#4a9ccc" stroke="#1f5f8b" stroke-width="0.9"/>
<rect x="97.28" y="560.5" width="6.17" height="3.7" fill="#4a9ccc" stroke="#1f5f8b" stroke-width="0.9"/>
<rect x="103.46" y="561.89" width="6.17" height="2.31" fill="#4a9ccc" stroke="#1f5f8b" stroke-width="0.9"/>
<rect x="109.63" y="561.65" width="6.17" height="2.55" fill="#4a9ccc" stroke="#1f5f8b" stroke-width="0.9"/>
<rect x="115.8" y="561.89" width="6.17" height="2.31" fill="#4a9ccc" stroke="#1f5f8b" stroke-width="0.9"/>
<rect x="121.97" y="560.26" width="6.17" height="3.94" fill="#4a9ccc" stroke="#1f5f8b" stroke-width="0.9"/>
<rect x="128.15" y="561.42" width="6.17" height="2.78" fill="#4a9ccc" stroke="#1f5f8b" stroke-width="0.9"/>
<rect x="134.32" y="564.2" width="6.17" height="1.62" fill="#4a9ccc" stroke="#1f5f8b" stroke-width="0.9"/>
<rect x="140.49" y="564.2" width="6.17" height="2.31" fill="#4a9ccc" stroke="#1f5f8b" stroke-width="0.9"/>
<rect x="146.66" y="564.2" width="6.17" height="0.6" fill="#4a9ccc" stroke="#1f5f8b" stroke-width="0.9"/>
<rect x="152.84" y="561.89" width="6.17" height="2.31" fill="#4a9ccc" stroke="#1f5f8b" stroke-width="0.9"/>
<rect x="159.01" y="560.26" width="6.17" height="3.94" fill="#4a9ccc" stroke="#1f5f8b" stroke-width="0.9"/>
<rect x="165.18" y="559.11" width="6.17" height="5.09" fill="#4a9ccc" stroke="#1f5f8b" stroke-width="0.9"/>
<rect x="171.35" y="558.41" width="6.17" height="5.79" fill="#4a9ccc" stroke="#1f5f8b" stroke-width="0.9"/>
<rect x="177.53" y="559.57" width="6.17" height="4.63" fill="#4a9ccc" stroke="#1f5f8b" stroke-width="0.9"/>
<rect x="183.7" y="559.57" width="6.17" height="4.63" fill="#4a9ccc" stroke="#1f5f8b" stroke-width="0.9"/>
<rect x="189.87" y="559.57" width="6.17" height="4.63" fill="#4a9ccc" stroke="#1f5f8b" stroke-width="0.9"/>
<rect x="196.04" y="555.4" width="6.17" height="8.8" fill="#4a9ccc" stroke="#1f5f8b" stroke-width="0.9"/>
<rect x="202.22" y="551.47" width="6.17" height="12.73" fill="#4a9ccc" stroke="#1f5f8b" stroke-width="0.9"/>
<rect x="208.39" y="548.69" width="6.17" height="15.51" fill="#4a9ccc" stroke="#1f5f8b" stroke-width="0.9"/>
<rect x="214.56" y="547.53" width="6.17" height="16.67" fill="#4a9ccc" stroke="#1f5f8b" stroke-width="0.9"/>
<rect x="220.73" y="548.46" width="6.17" height="15.74" fill="#4a9ccc" stroke="#1f5f8b" stroke-width="0.9"/>
<rect x="226.9" y="551.47" width="6.17" height="12.73" fill="#4a9ccc" stroke="#1f5f8b" stroke-width="0.9"/>
<rect x="233.08" y="553.09" width="6.17" height="11.11" fill="#4a9ccc" stroke="#1f5f8b" stroke-width="0.9"/>
<rect x="239.25" y="553.09" width="6.17" height="11.11" fill="#4a9ccc" stroke="#1f5f8b" stroke-width="0.9"/>
<rect x="245.42" y="552.63" width="6.17" height="11.57" fill="#4a9ccc" stroke="#1f5f8b" stroke-width="0.9"/>
<rect x="251.59" y="552.63" width="6.17" height="11.57" fill="#4a9ccc" stroke="#1f5f8b" stroke-width="0.9"/>
<rect x="257.77" y="557.26" width="6.17" height="6.94" fill="#4a9ccc" stroke="#1f5f8b" stroke-width="0.9"/>
<rect x="263.94" y="563.51" width="6.17" height="0.69" fill="#4a9ccc" stroke="#1f5f8b" stroke-width="0.9"/>
<rect x="270.11" y="564.2" width="6.17" height="4.63" fill="#4a9ccc" stroke="#1f5f8b" stroke-width="0.9"/>
<rect x="276.28" y="564.2" width="6.17" height="8.8" fill="#4a9ccc" stroke="#1f5f8b" stroke-width="0.9"/>
<rect x="282.46" y="564.2" width="6.17" height="10.42" fill="#4a9ccc" stroke="#1f5f8b" stroke-width="0.9"/>
<rect x="288.63" y="564.2" width="6.17" height="11.11" fill="#4a9ccc" stroke="#1f5f8b" stroke-width="0.9"/>
<rect x="294.8" y="564.2" width="6.17" height="12.96" fill="#4a9ccc" stroke="#1f5f8b" stroke-width="0.9"/>
<rect x="300.97" y="564.2" width="6.17" height="18.06" fill="#4a9ccc" stroke="#1f5f8b" stroke-width="0.9"/>
<rect x="307.15" y="564.2" width="6.17" height="21.99" fill="#4a9ccc" stroke="#1f5f8b" stroke-width="0.9"/>
<rect x="313.32" y="564.2" width="6.17" height="20.37" fill="#4a9ccc" stroke="#1f5f8b" stroke-width="0.9"/>
<rect x="319.49" y="564.2" width="6.17" height="19.68" fill="#4a9ccc" stroke="#1f5f8b" stroke-width="0.9"/>
<rect x="325.66" y="564.2" width="6.17" height="18.98" fill="#4a9ccc" stroke="#1f5f8b" stroke-width="0.9"/>
<rect x="331.84" y="564.2" width="6.17" height="19.68" fill="#4a9ccc" stroke="#1f5f8b" stroke-width="0.9"/>
<rect x="338.01" y="564.2" width="6.17" height="18.06" fill="#4a9ccc" stroke="#1f5f8b" stroke-width="0.9"/>
<rect x="344.18" y="564.2" width="6.17" height="15.74" fill="#4a9ccc" stroke="#1f5f8b" stroke-width="0.9"/>
<rect x="350.35" y="564.2" width="6.17" height="11.11" fill="#4a9ccc" stroke="#1f5f8b" stroke-width="0.9"/>
<rect x="356.53" y="564.2" width="6.17" height="9.26" fill="#4a9ccc" stroke="#1f5f8b" stroke-width="0.9"/>
<rect x="362.7" y="564.2" width="6.17" height="7.41" fill="#4a9ccc" stroke="#1f5f8b" stroke-width="0.9"/>
<rect x="368.87" y="564.2" width="6.17" height="6.94" fill="#4a9ccc" stroke="#1f5f8b" stroke-width="0.9"/>
<rect x="375.04" y="564.2" width="6.17" height="4.63" fill="#4a9ccc" stroke="#1f5f8b" stroke-width="0.9"/>
<rect x="381.21" y="564.2" width="6.17" height="0.69" fill="#4a9ccc" stroke="#1f5f8b" stroke-width="0.9"/>
<rect x="387.39" y="564.2" width="6.17" height="5.09" fill="#4a9ccc" stroke="#1f5f8b" stroke-width="0.9"/>
<rect x="393.56" y="564.2" width="6.17" height="7.87" fill="#4a9ccc" stroke="#1f5f8b" stroke-width="0.9"/>
<rect x="399.73" y="564.2" width="6.17" height="9.72" fill="#4a9ccc" stroke="#1f5f8b" stroke-width="0.9"/>
<rect x="405.9" y="564.2" width="6.17" height="12.73" fill="#4a9ccc" stroke="#1f5f8b" stroke-width="0.9"/>
<rect x="412.08" y="564.2" width="6.17" height="13.43" fill="#4a9ccc" stroke="#1f5f8b" stroke-width="0.9"/>
<rect x="418.25" y="564.2" width="6.17" height="11.11" fill="#4a9ccc" stroke="#1f5f8b" stroke-width="0.9"/>
<rect x="424.42" y="564.2" width="6.17" height="9.49" fill="#4a9ccc" stroke="#1f5f8b" stroke-width="0.9"/>
<rect x="430.59" y="564.2" width="6.17" height="9.49" fill="#4a9ccc" stroke="#1f5f8b" stroke-width="0.9"/>
<rect x="436.77" y="564.2" width="6.17" height="4.63" fill="#4a9ccc" stroke="#1f5f8b" stroke-width="0.9"/>
<rect x="442.94" y="563.97" width="6.17" height="0.6" fill="#4a9ccc" stroke="#1f5f8b" stroke-width="0.9"/>
<rect x="449.11" y="558.88" width="6.17" height="5.32" fill="#4a9ccc" stroke="#1f5f8b" stroke-width="0.9"/>
<rect x="455.28" y="556.56" width="6.17" height="7.64" fill="#4a9ccc" stroke="#1f5f8b" stroke-width="0.9"/>
<rect x="461.46" y="548.69" width="6.17" height="15.51" fill="#4a9ccc" stroke="#1f5f8b" stroke-width="0.9"/>
<rect x="467.63" y="543.37" width="6.17" height="20.83" fill="#4a9ccc" stroke="#1f5f8b" stroke-width="0.9"/>
<rect x="473.8" y="539.43" width="6.17" height="24.77" fill="#4a9ccc" stroke="#1f5f8b" stroke-width="0.9"/>
<rect x="479.97" y="537.58" width="6.17" height="26.62" fill="#4a9ccc" stroke="#1f5f8b" stroke-width="0.9"/>
<rect x="486.15" y="536.89" width="6.17" height="27.31" fill="#4a9ccc" stroke="#1f5f8b" stroke-width="0.9"/>
<rect x="492.32" y="536.65" width="6.17" height="27.55" fill="#4a9ccc" stroke="#1f5f8b" stroke-width="0.9"/>
<rect x="498.49" y="538.74" width="6.17" height="25.46" fill="#4a9ccc" stroke="#1f5f8b" stroke-width="0.9"/>
<rect x="504.66" y="538.27" width="6.17" height="25.93" fill="#4a9ccc" stroke="#1f5f8b" stroke-width="0.9"/>
<rect x="510.84" y="539.43" width="6.17" height="24.77" fill="#4a9ccc" stroke="#1f5f8b" stroke-width="0.9"/>
<rect x="517.01" y="540.59" width="6.17" height="23.61" fill="#4a9ccc" stroke="#1f5f8b" stroke-width="0.9"/>
<rect x="523.18" y="543.37" width="6.17" height="20.83" fill="#4a9ccc" stroke="#1f5f8b" stroke-width="0.9"/>
<rect x="529.35" y="546.84" width="6.17" height="17.36" fill="#4a9ccc" stroke="#1f5f8b" stroke-width="0.9"/>
<rect x="535.52" y="550.31" width="6.17" height="13.89" fill="#4a9ccc" stroke="#1f5f8b" stroke-width="0.9"/>
<rect x="541.7" y="553.09" width="6.17" height="11.11" fill="#4a9ccc" stroke="#1f5f8b" stroke-width="0.9"/>
<rect x="547.87" y="556.1" width="6.17" height="8.1" fill="#4a9ccc" stroke="#1f5f8b" stroke-width="0.9"/>
<rect x="554.04" y="558.64" width="6.17" height="5.56" fill="#4a9ccc" stroke="#1f5f8b" stroke-width="0.9"/>
<rect x="560.21" y="560.73" width="6.17" height="3.47" fill="#4a9ccc" stroke="#1f5f8b" stroke-width="0.9"/>
<rect x="566.39" y="563.27" width="6.17" height="0.93" fill="#4a9ccc" stroke="#1f5f8b" stroke-width="0.9"/>
<rect x="572.56" y="564.2" width="6.17" height="1.62" fill="#4a9ccc" stroke="#1f5f8b" stroke-width="0.9"/>
<rect x="578.73" y="564.2" width="6.17" height="3.7" fill="#4a9ccc" stroke="#1f5f8b" stroke-width="0.9"/>
<rect x="584.9" y="564.2" width="6.17" height="6.25" fill="#4a9ccc" stroke="#1f5f8b" stroke-width="0.9"/>
<rect x="591.08" y="564.2" width="6.17" height="8.56" fill="#4a9ccc" stroke="#1f5f8b" stroke-width="0.9"/>
<rect x="597.25" y="564.2" width="6.17" height="10.19" fill="#4a9ccc" stroke="#1f5f8b" stroke-width="0.9"/>
<rect x="603.42" y="564.2" width="6.17" height="10.88" fill="#4a9ccc" stroke="#1f5f8b" stroke-width="0.9"/>
<rect x="609.59" y="564.2" width="6.17" height="10.65" fill="#4a9ccc" stroke="#1f5f8b" stroke-width="0.9"/>
<rect x="615.77" y="564.2" width="6.17" height="10.42" fill="#4a9ccc" stroke="#1f5f8b" stroke-width="0.9"/>
<rect x="621.94" y="564.2" width="6.17" height="9.72" fill="#4a9ccc" stroke="#1f5f8b" stroke-width="0.9"/>
<rect x="628.11" y="564.2" width="6.17" height="1.85" fill="#4a9ccc" stroke="#1f5f8b" stroke-width="0.9"/>
<rect x="634.28" y="561.89" width="6.17" height="2.31" fill="#4a9ccc" stroke="#1f5f8b" stroke-width="0.9"/>
<rect x="640.46" y="557.95" width="6.17" height="6.25" fill="#4a9ccc" stroke="#1f5f8b" stroke-width="0.9"/>
<rect x="646.63" y="554.25" width="6.17" height="9.95" fill="#4a9ccc" stroke="#1f5f8b" stroke-width="0.9"/>
<rect x="652.8" y="554.48" width="6.17" height="9.72" fill="#4a9ccc" stroke="#1f5f8b" stroke-width="0.9"/>
<rect x="658.97" y="563.74" width="6.17" height="0.6" fill="#4a9ccc" stroke="#1f5f8b" stroke-width="0.9"/>
<rect x="665.15" y="564.2" width="6.17" height="6.48" fill="#4a9ccc" stroke="#1f5f8b" stroke-width="0.9"/>
<rect x="671.32" y="564.2" width="6.17" height="11.11" fill="#4a9ccc" stroke="#1f5f8b" stroke-width="0.9"/>
<rect x="677.49" y="564.2" width="6.17" height="13.43" fill="#4a9ccc" stroke="#1f5f8b" stroke-width="0.9"/>
<rect x="683.66" y="564.2" width="6.17" height="15.51" fill="#4a9ccc" stroke="#1f5f8b" stroke-width="0.9"/>
<rect x="689.83" y="564.2" width="6.17" height="15.74" fill="#4a9ccc" stroke="#1f5f8b" stroke-width="0.9"/>
<rect x="696.01" y="564.2" width="6.17" height="14.35" fill="#4a9ccc" stroke="#1f5f8b" stroke-width="0.9"/>
<rect x="702.18" y="564.2" width="6.17" height="12.73" fill="#4a9ccc" stroke="#1f5f8b" stroke-width="0.9"/>
<rect x="708.35" y="564.2" width="6.17" height="6.94" fill="#4a9ccc" stroke="#1f5f8b" stroke-width="0.9"/>
<rect x="714.52" y="564.2" width="6.17" height="6.02" fill="#4a9ccc" stroke="#1f5f8b" stroke-width="0.9"/>
<rect x="720.7" y="564.2" width="6.17" height="5.79" fill="#4a9ccc" stroke="#1f5f8b" stroke-width="0.9"/>
<rect x="726.87" y="564.2" width="6.17" height="9.26" fill="#4a9ccc" stroke="#1f5f8b" stroke-width="0.9"/>
<rect x="733.04" y="564.2" width="6.17" height="11.57" fill="#4a9ccc" stroke="#1f5f8b" stroke-width="0.9"/>
<rect x="739.21" y="564.2" width="6.17" height="13.43" fill="#4a9ccc" stroke="#1f5f8b" stroke-width="0.9"/>
<rect x="745.39" y="564.2" width="6.17" height="13.89" fill="#4a9ccc" stroke="#1f5f8b" stroke-width="0.9"/>
<rect x="751.56" y="564.2" width="6.17" height="13.19" fill="#4a9ccc" stroke="#1f5f8b" stroke-width="0.9"/>
<rect x="757.73" y="564.2" width="6.17" height="9.72" fill="#4a9ccc" stroke="#1f5f8b" stroke-width="0.9"/>
<rect x="763.9" y="564.2" width="6.17" height="4.63" fill="#4a9ccc" stroke="#1f5f8b" stroke-width="0.9"/>
<rect x="770.08" y="564.2" width="6.17" height="2.31" fill="#4a9ccc" stroke="#1f5f8b" stroke-width="0.9"/>
<rect x="776.25" y="564.2" width="6.17" height="1.85" fill="#4a9ccc" stroke="#1f5f8b" stroke-width="0.9"/>
<rect x="782.42" y="564.2" width="6.17" height="6.25" fill="#4a9ccc" stroke="#1f5f8b" stroke-width="0.9"/>
<rect x="788.59" y="564.2" width="6.17" height="5.09" fill="#4a9ccc" stroke="#1f5f8b" stroke-width="0.9"/>
<rect x="794.77" y="564.2" width="6.17" height="3.47" fill="#4a9ccc" stroke="#1f5f8b" stroke-width="0.9"/>
<rect x="800.94" y="564.2" width="6.17" height="0.6" fill="#4a9ccc" stroke="#1f5f8b" stroke-width="0.9"/>
<rect x="807.11" y="560.03" width="6.17" height="4.17" fill="#4a9ccc" stroke="#1f5f8b" stroke-width="0.9"/>
<polyline points="62.2,566.34 68.37,568.66 74.54,570.51 80.72,570.97 86.89,570.51 93.06,569.35 99.23,568.19 105.41,567.96 111.58,567.04 117.75,566.34 123.92,565.19 130.1,564.49 136.27,564.72 142.44,565.65 148.61,565.88 154.79,565.19 160.96,564.03 167.13,562.87 173.3,561.25 179.48,560.09 185.65,558.94 191.82,557.78 197.99,555.46 204.17,551.99 210.34,547.82 216.51,543.66 222.68,539.72 228.85,536.71 235.03,533.47 241.2,530.46 247.37,527.45 253.54,524.68 259.72,522.82 265.89,522.36 272.06,523.52 278.23,525.14 284.41,527.69 290.58,530.93 296.75,534.4 302.92,539.72 309.1,545.51 315.27,550.14 321.44,554.77 327.61,560.09 333.79,565.19 339.96,569.81 346.13,573.75 352.3,577.22 358.48,579.07 364.65,580.93 370.82,582.55 376.99,583.7 383.16,584.86 389.34,586.02 395.51,587.87 401.68,590.19 407.85,592.96 414.03,596.44 420.2,599.91 426.37,602.45 432.54,604.77 438.72,605.69 444.89,605.23 451.06,604.07 457.23,601.76 463.41,598.06 469.58,592.96 475.75,586.48 481.92,579.77 488.1,572.82 494.27,565.65 500.44,560.09 506.61,554.07 512.79,547.82 518.96,542.04 525.13,536.71 531.3,532.31 537.47,528.84 543.65,526.3 549.82,524.21 555.99,522.82 562.16,522.36 568.34,521.67 574.51,522.36 580.68,522.82 586.85,525.37 593.03,527.69 599.2,530 605.37,532.78 611.54,535.56 617.72,538.1 623.89,540.42 630.06,541.34 636.23,540.42 642.41,539.03 648.58,537.41 654.75,535.09 660.92,535.09 667.1,536.71 673.27,540.19 679.44,543.66 685.61,547.36 691.78,551.3 697.96,555.46 704.13,557.78 710.3,559.4 716.47,561.02 722.65,562.87 728.82,565.19 734.99,568.66 741.16,572.13 747.34,575.6 753.51,578.61 759.68,580.93 765.85,582.55 772.03,583.24 778.2,583.7 784.37,585.56 790.54,586.71 796.72,587.18 802.89,587.18 809.06,586.02" fill="none" stroke="#f01818" stroke-width="1.35" stroke-linejoin="round" />
<polyline points="62.2,577.92 68.37,578.61 74.54,576.3 80.72,572.59 86.89,569.81 93.06,567.04 99.23,564.49 105.41,565.65 111.58,564.49 117.75,564.03 123.92,561.25 130.1,561.71 136.27,566.34 142.44,567.96 148.61,566.34 154.79,562.87 160.96,560.09 167.13,557.78 173.3,555.46 179.48,555.46 185.65,554.31 191.82,553.15 197.99,546.67 204.17,539.26 210.34,532.31 216.51,526.99 222.68,523.98 228.85,523.98 235.03,522.36 241.2,519.35 247.37,515.88 253.54,513.1 259.72,515.88 265.89,521.67 272.06,528.15 278.23,533.94 284.41,538.1 290.58,542.04 296.75,547.36 302.92,557.78 309.1,567.5 315.27,570.51 321.44,574.44 327.61,579.07 333.79,584.86 339.96,587.87 346.13,589.49 352.3,588.33 358.48,588.33 364.65,588.33 370.82,589.49 376.99,588.33 383.16,585.56 389.34,591.11 395.51,595.74 401.68,599.91 407.85,605.69 414.03,609.86 420.2,611.02 426.37,611.94 432.54,614.26 438.72,610.32 444.89,605 451.06,598.75 457.23,594.12 463.41,582.55 469.58,572.13 475.75,561.71 481.92,553.15 488.1,545.51 494.27,538.1 500.44,534.63 506.61,528.15 512.79,523.06 518.96,518.43 525.13,515.88 531.3,514.95 537.47,514.95 543.65,515.19 549.82,516.11 555.99,517.27 562.16,518.89 568.34,520.74 574.51,523.98 580.68,526.53 586.85,531.62 593.03,536.25 599.2,540.19 605.37,543.66 611.54,546.2 617.72,548.52 623.89,550.14 630.06,543.19 636.23,538.1 642.41,532.78 648.58,527.45 654.75,525.37 660.92,534.63 667.1,543.19 673.27,551.3 679.44,557.08 685.61,562.87 691.78,567.04 697.96,569.81 704.13,570.51 710.3,566.34 716.47,567.04 722.65,568.66 728.82,574.44 734.99,580.23 741.16,585.56 747.34,589.49 753.51,591.81 759.68,590.65 765.85,587.18 772.03,585.56 778.2,585.56 784.37,591.81 790.54,591.81 796.72,590.65 802.89,587.18 809.06,581.85" fill="none" stroke="#0a0a0a" stroke-width="2.1" stroke-linejoin="round" />
<rect x="61.7" y="503.9" width="279" height="14.6" fill="#fff"/>
<line x1="64" y1="510.8" x2="75" y2="510.8" stroke="#000" stroke-width="2.4"/>
<text transform="translate(80.1,515.32) scale(1.13,1)" x="0" y="0" font-size="11.5" fill="#000" stroke="#000" stroke-width="0.2" textLength="33.27" lengthAdjust="spacing">MACD</text>
<text transform="translate(118.7,515.32) scale(1.13,1)" x="0" y="0" font-size="11.5" fill="#000" stroke="#000" stroke-width="0.2" textLength="57.35" lengthAdjust="spacing">(12,26,9)</text>
<text transform="translate(190.2,515.32) scale(1.13,1)" x="0" y="0" font-size="11.5" fill="#000" stroke="#000" stroke-width="0.2" textLength="38.58" lengthAdjust="spacing">-2.105</text>
<text x="234.6" y="515.32" font-size="11.5" font-weight="normal" fill="#f01818" stroke="#f01818" stroke-width="0.22" textLength="3.6" lengthAdjust="spacingAndGlyphs">,</text>
<text transform="translate(245.2,515.32) scale(1.13,1)" x="0" y="0" font-size="11.5" fill="#f01818" stroke="#f01818" stroke-width="0.2" textLength="38.67" lengthAdjust="spacing">-2.665</text>
<text x="290.9" y="515.32" font-size="11.5" font-weight="normal" fill="#3f8fc4" stroke="#3f8fc4" stroke-width="0.22" textLength="3.6" lengthAdjust="spacingAndGlyphs">,</text>
<text transform="translate(301,515.32) scale(1.13,1)" x="0" y="0" font-size="11.5" fill="#3f8fc4" stroke="#3f8fc4" stroke-width="0.2" textLength="33.19" lengthAdjust="spacing">0.560</text>
<rect x="61.0" y="23.0" width="756.7" height="462.6" fill="none" stroke="#c0c0c0" stroke-width="1.3"/>
<rect x="61.0" y="503.2" width="756.7" height="119.00000000000006" fill="none" stroke="#c0c0c0" stroke-width="1.3"/>
<line x1="61.0" y1="142.7" x2="817.7" y2="142.7" stroke="#c0c0c0" stroke-width="1.3"/>
<line x1="62.2" y1="485.6" x2="62.2" y2="487.6" stroke="#c4c4c4" stroke-width="1"/>
<line x1="62.2" y1="622.2" x2="62.2" y2="624.2" stroke="#c4c4c4" stroke-width="1"/>
<line x1="62.2" y1="501.7" x2="62.2" y2="503.2" stroke="#c8c8c8" stroke-width="1"/>
<line x1="68.37" y1="485.6" x2="68.37" y2="487.6" stroke="#c4c4c4" stroke-width="1"/>
<line x1="68.37" y1="622.2" x2="68.37" y2="624.2" stroke="#c4c4c4" stroke-width="1"/>
<line x1="68.37" y1="501.7" x2="68.37" y2="503.2" stroke="#c8c8c8" stroke-width="1"/>
<line x1="74.54" y1="485.6" x2="74.54" y2="488.6" stroke="#c4c4c4" stroke-width="1"/>
<line x1="74.54" y1="622.2" x2="74.54" y2="625.2" stroke="#c4c4c4" stroke-width="1"/>
<line x1="74.54" y1="500.7" x2="74.54" y2="503.2" stroke="#c8c8c8" stroke-width="1"/>
<line x1="80.72" y1="485.6" x2="80.72" y2="487.6" stroke="#c4c4c4" stroke-width="1"/>
<line x1="80.72" y1="622.2" x2="80.72" y2="624.2" stroke="#c4c4c4" stroke-width="1"/>
<line x1="80.72" y1="501.7" x2="80.72" y2="503.2" stroke="#c8c8c8" stroke-width="1"/>
<line x1="86.89" y1="485.6" x2="86.89" y2="487.6" stroke="#c4c4c4" stroke-width="1"/>
<line x1="86.89" y1="622.2" x2="86.89" y2="624.2" stroke="#c4c4c4" stroke-width="1"/>
<line x1="86.89" y1="501.7" x2="86.89" y2="503.2" stroke="#c8c8c8" stroke-width="1"/>
<line x1="93.06" y1="485.6" x2="93.06" y2="487.6" stroke="#c4c4c4" stroke-width="1"/>
<line x1="93.06" y1="622.2" x2="93.06" y2="624.2" stroke="#c4c4c4" stroke-width="1"/>
<line x1="93.06" y1="501.7" x2="93.06" y2="503.2" stroke="#c8c8c8" stroke-width="1"/>
<line x1="99.23" y1="485.6" x2="99.23" y2="487.6" stroke="#c4c4c4" stroke-width="1"/>
<line x1="99.23" y1="622.2" x2="99.23" y2="624.2" stroke="#c4c4c4" stroke-width="1"/>
<line x1="99.23" y1="501.7" x2="99.23" y2="503.2" stroke="#c8c8c8" stroke-width="1"/>
<line x1="105.41" y1="485.6" x2="105.41" y2="488.6" stroke="#c4c4c4" stroke-width="1"/>
<line x1="105.41" y1="622.2" x2="105.41" y2="625.2" stroke="#c4c4c4" stroke-width="1"/>
<line x1="105.41" y1="500.7" x2="105.41" y2="503.2" stroke="#c8c8c8" stroke-width="1"/>
<line x1="111.58" y1="485.6" x2="111.58" y2="487.6" stroke="#c4c4c4" stroke-width="1"/>
<line x1="111.58" y1="622.2" x2="111.58" y2="624.2" stroke="#c4c4c4" stroke-width="1"/>
<line x1="111.58" y1="501.7" x2="111.58" y2="503.2" stroke="#c8c8c8" stroke-width="1"/>
<line x1="117.75" y1="485.6" x2="117.75" y2="487.6" stroke="#c4c4c4" stroke-width="1"/>
<line x1="117.75" y1="622.2" x2="117.75" y2="624.2" stroke="#c4c4c4" stroke-width="1"/>
<line x1="117.75" y1="501.7" x2="117.75" y2="503.2" stroke="#c8c8c8" stroke-width="1"/>
<line x1="123.92" y1="485.6" x2="123.92" y2="487.6" stroke="#c4c4c4" stroke-width="1"/>
<line x1="123.92" y1="622.2" x2="123.92" y2="624.2" stroke="#c4c4c4" stroke-width="1"/>
<line x1="123.92" y1="501.7" x2="123.92" y2="503.2" stroke="#c8c8c8" stroke-width="1"/>
<line x1="130.1" y1="485.6" x2="130.1" y2="487.6" stroke="#c4c4c4" stroke-width="1"/>
<line x1="130.1" y1="622.2" x2="130.1" y2="624.2" stroke="#c4c4c4" stroke-width="1"/>
<line x1="130.1" y1="501.7" x2="130.1" y2="503.2" stroke="#c8c8c8" stroke-width="1"/>
<line x1="136.27" y1="485.6" x2="136.27" y2="488.6" stroke="#c4c4c4" stroke-width="1"/>
<line x1="136.27" y1="622.2" x2="136.27" y2="625.2" stroke="#c4c4c4" stroke-width="1"/>
<line x1="136.27" y1="500.7" x2="136.27" y2="503.2" stroke="#c8c8c8" stroke-width="1"/>
<line x1="142.44" y1="485.6" x2="142.44" y2="487.6" stroke="#c4c4c4" stroke-width="1"/>
<line x1="142.44" y1="622.2" x2="142.44" y2="624.2" stroke="#c4c4c4" stroke-width="1"/>
<line x1="142.44" y1="501.7" x2="142.44" y2="503.2" stroke="#c8c8c8" stroke-width="1"/>
<line x1="148.61" y1="485.6" x2="148.61" y2="487.6" stroke="#c4c4c4" stroke-width="1"/>
<line x1="148.61" y1="622.2" x2="148.61" y2="624.2" stroke="#c4c4c4" stroke-width="1"/>
<line x1="148.61" y1="501.7" x2="148.61" y2="503.2" stroke="#c8c8c8" stroke-width="1"/>
<line x1="154.79" y1="485.6" x2="154.79" y2="487.6" stroke="#c4c4c4" stroke-width="1"/>
<line x1="154.79" y1="622.2" x2="154.79" y2="624.2" stroke="#c4c4c4" stroke-width="1"/>
<line x1="154.79" y1="501.7" x2="154.79" y2="503.2" stroke="#c8c8c8" stroke-width="1"/>
<line x1="160.96" y1="485.6" x2="160.96" y2="488.6" stroke="#c4c4c4" stroke-width="1"/>
<line x1="160.96" y1="622.2" x2="160.96" y2="625.2" stroke="#c4c4c4" stroke-width="1"/>
<line x1="160.96" y1="500.7" x2="160.96" y2="503.2" stroke="#c8c8c8" stroke-width="1"/>
<line x1="167.13" y1="485.6" x2="167.13" y2="487.6" stroke="#c4c4c4" stroke-width="1"/>
<line x1="167.13" y1="622.2" x2="167.13" y2="624.2" stroke="#c4c4c4" stroke-width="1"/>
<line x1="167.13" y1="501.7" x2="167.13" y2="503.2" stroke="#c8c8c8" stroke-width="1"/>
<line x1="173.3" y1="485.6" x2="173.3" y2="487.6" stroke="#c4c4c4" stroke-width="1"/>
<line x1="173.3" y1="622.2" x2="173.3" y2="624.2" stroke="#c4c4c4" stroke-width="1"/>
<line x1="173.3" y1="501.7" x2="173.3" y2="503.2" stroke="#c8c8c8" stroke-width="1"/>
<line x1="179.48" y1="485.6" x2="179.48" y2="487.6" stroke="#c4c4c4" stroke-width="1"/>
<line x1="179.48" y1="622.2" x2="179.48" y2="624.2" stroke="#c4c4c4" stroke-width="1"/>
<line x1="179.48" y1="501.7" x2="179.48" y2="503.2" stroke="#c8c8c8" stroke-width="1"/>
<line x1="185.65" y1="485.6" x2="185.65" y2="487.6" stroke="#c4c4c4" stroke-width="1"/>
<line x1="185.65" y1="622.2" x2="185.65" y2="624.2" stroke="#c4c4c4" stroke-width="1"/>
<line x1="185.65" y1="501.7" x2="185.65" y2="503.2" stroke="#c8c8c8" stroke-width="1"/>
<line x1="191.82" y1="485.6" x2="191.82" y2="488.6" stroke="#c4c4c4" stroke-width="1"/>
<line x1="191.82" y1="622.2" x2="191.82" y2="625.2" stroke="#c4c4c4" stroke-width="1"/>
<line x1="191.82" y1="500.7" x2="191.82" y2="503.2" stroke="#c8c8c8" stroke-width="1"/>
<line x1="197.99" y1="485.6" x2="197.99" y2="487.6" stroke="#c4c4c4" stroke-width="1"/>
<line x1="197.99" y1="622.2" x2="197.99" y2="624.2" stroke="#c4c4c4" stroke-width="1"/>
<line x1="197.99" y1="501.7" x2="197.99" y2="503.2" stroke="#c8c8c8" stroke-width="1"/>
<line x1="204.17" y1="485.6" x2="204.17" y2="487.6" stroke="#c4c4c4" stroke-width="1"/>
<line x1="204.17" y1="622.2" x2="204.17" y2="624.2" stroke="#c4c4c4" stroke-width="1"/>
<line x1="204.17" y1="501.7" x2="204.17" y2="503.2" stroke="#c8c8c8" stroke-width="1"/>
<line x1="210.34" y1="485.6" x2="210.34" y2="487.6" stroke="#c4c4c4" stroke-width="1"/>
<line x1="210.34" y1="622.2" x2="210.34" y2="624.2" stroke="#c4c4c4" stroke-width="1"/>
<line x1="210.34" y1="501.7" x2="210.34" y2="503.2" stroke="#c8c8c8" stroke-width="1"/>
<line x1="216.51" y1="485.6" x2="216.51" y2="487.6" stroke="#c4c4c4" stroke-width="1"/>
<line x1="216.51" y1="622.2" x2="216.51" y2="624.2" stroke="#c4c4c4" stroke-width="1"/>
<line x1="216.51" y1="501.7" x2="216.51" y2="503.2" stroke="#c8c8c8" stroke-width="1"/>
<line x1="222.68" y1="485.6" x2="222.68" y2="488.6" stroke="#c4c4c4" stroke-width="1"/>
<line x1="222.68" y1="622.2" x2="222.68" y2="625.2" stroke="#c4c4c4" stroke-width="1"/>
<line x1="222.68" y1="500.7" x2="222.68" y2="503.2" stroke="#c8c8c8" stroke-width="1"/>
<line x1="228.85" y1="485.6" x2="228.85" y2="487.6" stroke="#c4c4c4" stroke-width="1"/>
<line x1="228.85" y1="622.2" x2="228.85" y2="624.2" stroke="#c4c4c4" stroke-width="1"/>
<line x1="228.85" y1="501.7" x2="228.85" y2="503.2" stroke="#c8c8c8" stroke-width="1"/>
<line x1="235.03" y1="485.6" x2="235.03" y2="487.6" stroke="#c4c4c4" stroke-width="1"/>
<line x1="235.03" y1="622.2" x2="235.03" y2="624.2" stroke="#c4c4c4" stroke-width="1"/>
<line x1="235.03" y1="501.7" x2="235.03" y2="503.2" stroke="#c8c8c8" stroke-width="1"/>
<line x1="241.2" y1="485.6" x2="241.2" y2="487.6" stroke="#c4c4c4" stroke-width="1"/>
<line x1="241.2" y1="622.2" x2="241.2" y2="624.2" stroke="#c4c4c4" stroke-width="1"/>
<line x1="241.2" y1="501.7" x2="241.2" y2="503.2" stroke="#c8c8c8" stroke-width="1"/>
<line x1="247.37" y1="485.6" x2="247.37" y2="487.6" stroke="#c4c4c4" stroke-width="1"/>
<line x1="247.37" y1="622.2" x2="247.37" y2="624.2" stroke="#c4c4c4" stroke-width="1"/>
<line x1="247.37" y1="501.7" x2="247.37" y2="503.2" stroke="#c8c8c8" stroke-width="1"/>
<line x1="253.54" y1="485.6" x2="253.54" y2="488.6" stroke="#c4c4c4" stroke-width="1"/>
<line x1="253.54" y1="622.2" x2="253.54" y2="625.2" stroke="#c4c4c4" stroke-width="1"/>
<line x1="253.54" y1="500.7" x2="253.54" y2="503.2" stroke="#c8c8c8" stroke-width="1"/>
<line x1="259.72" y1="485.6" x2="259.72" y2="487.6" stroke="#c4c4c4" stroke-width="1"/>
<line x1="259.72" y1="622.2" x2="259.72" y2="624.2" stroke="#c4c4c4" stroke-width="1"/>
<line x1="259.72" y1="501.7" x2="259.72" y2="503.2" stroke="#c8c8c8" stroke-width="1"/>
<line x1="265.89" y1="485.6" x2="265.89" y2="487.6" stroke="#c4c4c4" stroke-width="1"/>
<line x1="265.89" y1="622.2" x2="265.89" y2="624.2" stroke="#c4c4c4" stroke-width="1"/>
<line x1="265.89" y1="501.7" x2="265.89" y2="503.2" stroke="#c8c8c8" stroke-width="1"/>
<line x1="272.06" y1="485.6" x2="272.06" y2="487.6" stroke="#c4c4c4" stroke-width="1"/>
<line x1="272.06" y1="622.2" x2="272.06" y2="624.2" stroke="#c4c4c4" stroke-width="1"/>
<line x1="272.06" y1="501.7" x2="272.06" y2="503.2" stroke="#c8c8c8" stroke-width="1"/>
<line x1="278.23" y1="485.6" x2="278.23" y2="488.6" stroke="#c4c4c4" stroke-width="1"/>
<line x1="278.23" y1="622.2" x2="278.23" y2="625.2" stroke="#c4c4c4" stroke-width="1"/>
<line x1="278.23" y1="500.7" x2="278.23" y2="503.2" stroke="#c8c8c8" stroke-width="1"/>
<line x1="284.41" y1="485.6" x2="284.41" y2="487.6" stroke="#c4c4c4" stroke-width="1"/>
<line x1="284.41" y1="622.2" x2="284.41" y2="624.2" stroke="#c4c4c4" stroke-width="1"/>
<line x1="284.41" y1="501.7" x2="284.41" y2="503.2" stroke="#c8c8c8" stroke-width="1"/>
<line x1="290.58" y1="485.6" x2="290.58" y2="487.6" stroke="#c4c4c4" stroke-width="1"/>
<line x1="290.58" y1="622.2" x2="290.58" y2="624.2" stroke="#c4c4c4" stroke-width="1"/>
<line x1="290.58" y1="501.7" x2="290.58" y2="503.2" stroke="#c8c8c8" stroke-width="1"/>
<line x1="296.75" y1="485.6" x2="296.75" y2="487.6" stroke="#c4c4c4" stroke-width="1"/>
<line x1="296.75" y1="622.2" x2="296.75" y2="624.2" stroke="#c4c4c4" stroke-width="1"/>
<line x1="296.75" y1="501.7" x2="296.75" y2="503.2" stroke="#c8c8c8" stroke-width="1"/>
<line x1="302.92" y1="485.6" x2="302.92" y2="487.6" stroke="#c4c4c4" stroke-width="1"/>
<line x1="302.92" y1="622.2" x2="302.92" y2="624.2" stroke="#c4c4c4" stroke-width="1"/>
<line x1="302.92" y1="501.7" x2="302.92" y2="503.2" stroke="#c8c8c8" stroke-width="1"/>
<line x1="309.1" y1="485.6" x2="309.1" y2="488.6" stroke="#c4c4c4" stroke-width="1"/>
<line x1="309.1" y1="622.2" x2="309.1" y2="625.2" stroke="#c4c4c4" stroke-width="1"/>
<line x1="309.1" y1="500.7" x2="309.1" y2="503.2" stroke="#c8c8c8" stroke-width="1"/>
<line x1="315.27" y1="485.6" x2="315.27" y2="487.6" stroke="#c4c4c4" stroke-width="1"/>
<line x1="315.27" y1="622.2" x2="315.27" y2="624.2" stroke="#c4c4c4" stroke-width="1"/>
<line x1="315.27" y1="501.7" x2="315.27" y2="503.2" stroke="#c8c8c8" stroke-width="1"/>
<line x1="321.44" y1="485.6" x2="321.44" y2="487.6" stroke="#c4c4c4" stroke-width="1"/>
<line x1="321.44" y1="622.2" x2="321.44" y2="624.2" stroke="#c4c4c4" stroke-width="1"/>
<line x1="321.44" y1="501.7" x2="321.44" y2="503.2" stroke="#c8c8c8" stroke-width="1"/>
<line x1="327.61" y1="485.6" x2="327.61" y2="487.6" stroke="#c4c4c4" stroke-width="1"/>
<line x1="327.61" y1="622.2" x2="327.61" y2="624.2" stroke="#c4c4c4" stroke-width="1"/>
<line x1="327.61" y1="501.7" x2="327.61" y2="503.2" stroke="#c8c8c8" stroke-width="1"/>
<line x1="333.79" y1="485.6" x2="333.79" y2="487.6" stroke="#c4c4c4" stroke-width="1"/>
<line x1="333.79" y1="622.2" x2="333.79" y2="624.2" stroke="#c4c4c4" stroke-width="1"/>
<line x1="333.79" y1="501.7" x2="333.79" y2="503.2" stroke="#c8c8c8" stroke-width="1"/>
<line x1="339.96" y1="485.6" x2="339.96" y2="488.6" stroke="#c4c4c4" stroke-width="1"/>
<line x1="339.96" y1="622.2" x2="339.96" y2="625.2" stroke="#c4c4c4" stroke-width="1"/>
<line x1="339.96" y1="500.7" x2="339.96" y2="503.2" stroke="#c8c8c8" stroke-width="1"/>
<line x1="346.13" y1="485.6" x2="346.13" y2="487.6" stroke="#c4c4c4" stroke-width="1"/>
<line x1="346.13" y1="622.2" x2="346.13" y2="624.2" stroke="#c4c4c4" stroke-width="1"/>
<line x1="346.13" y1="501.7" x2="346.13" y2="503.2" stroke="#c8c8c8" stroke-width="1"/>
<line x1="352.3" y1="485.6" x2="352.3" y2="487.6" stroke="#c4c4c4" stroke-width="1"/>
<line x1="352.3" y1="622.2" x2="352.3" y2="624.2" stroke="#c4c4c4" stroke-width="1"/>
<line x1="352.3" y1="501.7" x2="352.3" y2="503.2" stroke="#c8c8c8" stroke-width="1"/>
<line x1="358.48" y1="485.6" x2="358.48" y2="487.6" stroke="#c4c4c4" stroke-width="1"/>
<line x1="358.48" y1="622.2" x2="358.48" y2="624.2" stroke="#c4c4c4" stroke-width="1"/>
<line x1="358.48" y1="501.7" x2="358.48" y2="503.2" stroke="#c8c8c8" stroke-width="1"/>
<line x1="364.65" y1="485.6" x2="364.65" y2="487.6" stroke="#c4c4c4" stroke-width="1"/>
<line x1="364.65" y1="622.2" x2="364.65" y2="624.2" stroke="#c4c4c4" stroke-width="1"/>
<line x1="364.65" y1="501.7" x2="364.65" y2="503.2" stroke="#c8c8c8" stroke-width="1"/>
<line x1="370.82" y1="485.6" x2="370.82" y2="488.6" stroke="#c4c4c4" stroke-width="1"/>
<line x1="370.82" y1="622.2" x2="370.82" y2="625.2" stroke="#c4c4c4" stroke-width="1"/>
<line x1="370.82" y1="500.7" x2="370.82" y2="503.2" stroke="#c8c8c8" stroke-width="1"/>
<line x1="376.99" y1="485.6" x2="376.99" y2="487.6" stroke="#c4c4c4" stroke-width="1"/>
<line x1="376.99" y1="622.2" x2="376.99" y2="624.2" stroke="#c4c4c4" stroke-width="1"/>
<line x1="376.99" y1="501.7" x2="376.99" y2="503.2" stroke="#c8c8c8" stroke-width="1"/>
<line x1="383.16" y1="485.6" x2="383.16" y2="487.6" stroke="#c4c4c4" stroke-width="1"/>
<line x1="383.16" y1="622.2" x2="383.16" y2="624.2" stroke="#c4c4c4" stroke-width="1"/>
<line x1="383.16" y1="501.7" x2="383.16" y2="503.2" stroke="#c8c8c8" stroke-width="1"/>
<line x1="389.34" y1="485.6" x2="389.34" y2="487.6" stroke="#c4c4c4" stroke-width="1"/>
<line x1="389.34" y1="622.2" x2="389.34" y2="624.2" stroke="#c4c4c4" stroke-width="1"/>
<line x1="389.34" y1="501.7" x2="389.34" y2="503.2" stroke="#c8c8c8" stroke-width="1"/>
<line x1="395.51" y1="485.6" x2="395.51" y2="487.6" stroke="#c4c4c4" stroke-width="1"/>
<line x1="395.51" y1="622.2" x2="395.51" y2="624.2" stroke="#c4c4c4" stroke-width="1"/>
<line x1="395.51" y1="501.7" x2="395.51" y2="503.2" stroke="#c8c8c8" stroke-width="1"/>
<line x1="401.68" y1="485.6" x2="401.68" y2="488.6" stroke="#c4c4c4" stroke-width="1"/>
<line x1="401.68" y1="622.2" x2="401.68" y2="625.2" stroke="#c4c4c4" stroke-width="1"/>
<line x1="401.68" y1="500.7" x2="401.68" y2="503.2" stroke="#c8c8c8" stroke-width="1"/>
<line x1="407.85" y1="485.6" x2="407.85" y2="487.6" stroke="#c4c4c4" stroke-width="1"/>
<line x1="407.85" y1="622.2" x2="407.85" y2="624.2" stroke="#c4c4c4" stroke-width="1"/>
<line x1="407.85" y1="501.7" x2="407.85" y2="503.2" stroke="#c8c8c8" stroke-width="1"/>
<line x1="414.03" y1="485.6" x2="414.03" y2="487.6" stroke="#c4c4c4" stroke-width="1"/>
<line x1="414.03" y1="622.2" x2="414.03" y2="624.2" stroke="#c4c4c4" stroke-width="1"/>
<line x1="414.03" y1="501.7" x2="414.03" y2="503.2" stroke="#c8c8c8" stroke-width="1"/>
<line x1="420.2" y1="485.6" x2="420.2" y2="487.6" stroke="#c4c4c4" stroke-width="1"/>
<line x1="420.2" y1="622.2" x2="420.2" y2="624.2" stroke="#c4c4c4" stroke-width="1"/>
<line x1="420.2" y1="501.7" x2="420.2" y2="503.2" stroke="#c8c8c8" stroke-width="1"/>
<line x1="426.37" y1="485.6" x2="426.37" y2="488.6" stroke="#c4c4c4" stroke-width="1"/>
<line x1="426.37" y1="622.2" x2="426.37" y2="625.2" stroke="#c4c4c4" stroke-width="1"/>
<line x1="426.37" y1="500.7" x2="426.37" y2="503.2" stroke="#c8c8c8" stroke-width="1"/>
<line x1="432.54" y1="485.6" x2="432.54" y2="487.6" stroke="#c4c4c4" stroke-width="1"/>
<line x1="432.54" y1="622.2" x2="432.54" y2="624.2" stroke="#c4c4c4" stroke-width="1"/>
<line x1="432.54" y1="501.7" x2="432.54" y2="503.2" stroke="#c8c8c8" stroke-width="1"/>
<line x1="438.72" y1="485.6" x2="438.72" y2="487.6" stroke="#c4c4c4" stroke-width="1"/>
<line x1="438.72" y1="622.2" x2="438.72" y2="624.2" stroke="#c4c4c4" stroke-width="1"/>
<line x1="438.72" y1="501.7" x2="438.72" y2="503.2" stroke="#c8c8c8" stroke-width="1"/>
<line x1="444.89" y1="485.6" x2="444.89" y2="487.6" stroke="#c4c4c4" stroke-width="1"/>
<line x1="444.89" y1="622.2" x2="444.89" y2="624.2" stroke="#c4c4c4" stroke-width="1"/>
<line x1="444.89" y1="501.7" x2="444.89" y2="503.2" stroke="#c8c8c8" stroke-width="1"/>
<line x1="451.06" y1="485.6" x2="451.06" y2="487.6" stroke="#c4c4c4" stroke-width="1"/>
<line x1="451.06" y1="622.2" x2="451.06" y2="624.2" stroke="#c4c4c4" stroke-width="1"/>
<line x1="451.06" y1="501.7" x2="451.06" y2="503.2" stroke="#c8c8c8" stroke-width="1"/>
<line x1="457.23" y1="485.6" x2="457.23" y2="488.6" stroke="#c4c4c4" stroke-width="1"/>
<line x1="457.23" y1="622.2" x2="457.23" y2="625.2" stroke="#c4c4c4" stroke-width="1"/>
<line x1="457.23" y1="500.7" x2="457.23" y2="503.2" stroke="#c8c8c8" stroke-width="1"/>
<line x1="463.41" y1="485.6" x2="463.41" y2="487.6" stroke="#c4c4c4" stroke-width="1"/>
<line x1="463.41" y1="622.2" x2="463.41" y2="624.2" stroke="#c4c4c4" stroke-width="1"/>
<line x1="463.41" y1="501.7" x2="463.41" y2="503.2" stroke="#c8c8c8" stroke-width="1"/>
<line x1="469.58" y1="485.6" x2="469.58" y2="487.6" stroke="#c4c4c4" stroke-width="1"/>
<line x1="469.58" y1="622.2" x2="469.58" y2="624.2" stroke="#c4c4c4" stroke-width="1"/>
<line x1="469.58" y1="501.7" x2="469.58" y2="503.2" stroke="#c8c8c8" stroke-width="1"/>
<line x1="475.75" y1="485.6" x2="475.75" y2="487.6" stroke="#c4c4c4" stroke-width="1"/>
<line x1="475.75" y1="622.2" x2="475.75" y2="624.2" stroke="#c4c4c4" stroke-width="1"/>
<line x1="475.75" y1="501.7" x2="475.75" y2="503.2" stroke="#c8c8c8" stroke-width="1"/>
<line x1="481.92" y1="485.6" x2="481.92" y2="487.6" stroke="#c4c4c4" stroke-width="1"/>
<line x1="481.92" y1="622.2" x2="481.92" y2="624.2" stroke="#c4c4c4" stroke-width="1"/>
<line x1="481.92" y1="501.7" x2="481.92" y2="503.2" stroke="#c8c8c8" stroke-width="1"/>
<line x1="488.1" y1="485.6" x2="488.1" y2="488.6" stroke="#c4c4c4" stroke-width="1"/>
<line x1="488.1" y1="622.2" x2="488.1" y2="625.2" stroke="#c4c4c4" stroke-width="1"/>
<line x1="488.1" y1="500.7" x2="488.1" y2="503.2" stroke="#c8c8c8" stroke-width="1"/>
<line x1="494.27" y1="485.6" x2="494.27" y2="487.6" stroke="#c4c4c4" stroke-width="1"/>
<line x1="494.27" y1="622.2" x2="494.27" y2="624.2" stroke="#c4c4c4" stroke-width="1"/>
<line x1="494.27" y1="501.7" x2="494.27" y2="503.2" stroke="#c8c8c8" stroke-width="1"/>
<line x1="500.44" y1="485.6" x2="500.44" y2="487.6" stroke="#c4c4c4" stroke-width="1"/>
<line x1="500.44" y1="622.2" x2="500.44" y2="624.2" stroke="#c4c4c4" stroke-width="1"/>
<line x1="500.44" y1="501.7" x2="500.44" y2="503.2" stroke="#c8c8c8" stroke-width="1"/>
<line x1="506.61" y1="485.6" x2="506.61" y2="487.6" stroke="#c4c4c4" stroke-width="1"/>
<line x1="506.61" y1="622.2" x2="506.61" y2="624.2" stroke="#c4c4c4" stroke-width="1"/>
<line x1="506.61" y1="501.7" x2="506.61" y2="503.2" stroke="#c8c8c8" stroke-width="1"/>
<line x1="512.79" y1="485.6" x2="512.79" y2="487.6" stroke="#c4c4c4" stroke-width="1"/>
<line x1="512.79" y1="622.2" x2="512.79" y2="624.2" stroke="#c4c4c4" stroke-width="1"/>
<line x1="512.79" y1="501.7" x2="512.79" y2="503.2" stroke="#c8c8c8" stroke-width="1"/>
<line x1="518.96" y1="485.6" x2="518.96" y2="488.6" stroke="#c4c4c4" stroke-width="1"/>
<line x1="518.96" y1="622.2" x2="518.96" y2="625.2" stroke="#c4c4c4" stroke-width="1"/>
<line x1="518.96" y1="500.7" x2="518.96" y2="503.2" stroke="#c8c8c8" stroke-width="1"/>
<line x1="525.13" y1="485.6" x2="525.13" y2="487.6" stroke="#c4c4c4" stroke-width="1"/>
<line x1="525.13" y1="622.2" x2="525.13" y2="624.2" stroke="#c4c4c4" stroke-width="1"/>
<line x1="525.13" y1="501.7" x2="525.13" y2="503.2" stroke="#c8c8c8" stroke-width="1"/>
<line x1="531.3" y1="485.6" x2="531.3" y2="487.6" stroke="#c4c4c4" stroke-width="1"/>
<line x1="531.3" y1="622.2" x2="531.3" y2="624.2" stroke="#c4c4c4" stroke-width="1"/>
<line x1="531.3" y1="501.7" x2="531.3" y2="503.2" stroke="#c8c8c8" stroke-width="1"/>
<line x1="537.47" y1="485.6" x2="537.47" y2="487.6" stroke="#c4c4c4" stroke-width="1"/>
<line x1="537.47" y1="622.2" x2="537.47" y2="624.2" stroke="#c4c4c4" stroke-width="1"/>
<line x1="537.47" y1="501.7" x2="537.47" y2="503.2" stroke="#c8c8c8" stroke-width="1"/>
<line x1="543.65" y1="485.6" x2="543.65" y2="487.6" stroke="#c4c4c4" stroke-width="1"/>
<line x1="543.65" y1="622.2" x2="543.65" y2="624.2" stroke="#c4c4c4" stroke-width="1"/>
<line x1="543.65" y1="501.7" x2="543.65" y2="503.2" stroke="#c8c8c8" stroke-width="1"/>
<line x1="549.82" y1="485.6" x2="549.82" y2="488.6" stroke="#c4c4c4" stroke-width="1"/>
<line x1="549.82" y1="622.2" x2="549.82" y2="625.2" stroke="#c4c4c4" stroke-width="1"/>
<line x1="549.82" y1="500.7" x2="549.82" y2="503.2" stroke="#c8c8c8" stroke-width="1"/>
<line x1="555.99" y1="485.6" x2="555.99" y2="487.6" stroke="#c4c4c4" stroke-width="1"/>
<line x1="555.99" y1="622.2" x2="555.99" y2="624.2" stroke="#c4c4c4" stroke-width="1"/>
<line x1="555.99" y1="501.7" x2="555.99" y2="503.2" stroke="#c8c8c8" stroke-width="1"/>
<line x1="562.16" y1="485.6" x2="562.16" y2="487.6" stroke="#c4c4c4" stroke-width="1"/>
<line x1="562.16" y1="622.2" x2="562.16" y2="624.2" stroke="#c4c4c4" stroke-width="1"/>
<line x1="562.16" y1="501.7" x2="562.16" y2="503.2" stroke="#c8c8c8" stroke-width="1"/>
<line x1="568.34" y1="485.6" x2="568.34" y2="487.6" stroke="#c4c4c4" stroke-width="1"/>
<line x1="568.34" y1="622.2" x2="568.34" y2="624.2" stroke="#c4c4c4" stroke-width="1"/>
<line x1="568.34" y1="501.7" x2="568.34" y2="503.2" stroke="#c8c8c8" stroke-width="1"/>
<line x1="574.51" y1="485.6" x2="574.51" y2="487.6" stroke="#c4c4c4" stroke-width="1"/>
<line x1="574.51" y1="622.2" x2="574.51" y2="624.2" stroke="#c4c4c4" stroke-width="1"/>
<line x1="574.51" y1="501.7" x2="574.51" y2="503.2" stroke="#c8c8c8" stroke-width="1"/>
<line x1="580.68" y1="485.6" x2="580.68" y2="488.6" stroke="#c4c4c4" stroke-width="1"/>
<line x1="580.68" y1="622.2" x2="580.68" y2="625.2" stroke="#c4c4c4" stroke-width="1"/>
<line x1="580.68" y1="500.7" x2="580.68" y2="503.2" stroke="#c8c8c8" stroke-width="1"/>
<line x1="586.85" y1="485.6" x2="586.85" y2="487.6" stroke="#c4c4c4" stroke-width="1"/>
<line x1="586.85" y1="622.2" x2="586.85" y2="624.2" stroke="#c4c4c4" stroke-width="1"/>
<line x1="586.85" y1="501.7" x2="586.85" y2="503.2" stroke="#c8c8c8" stroke-width="1"/>
<line x1="593.03" y1="485.6" x2="593.03" y2="487.6" stroke="#c4c4c4" stroke-width="1"/>
<line x1="593.03" y1="622.2" x2="593.03" y2="624.2" stroke="#c4c4c4" stroke-width="1"/>
<line x1="593.03" y1="501.7" x2="593.03" y2="503.2" stroke="#c8c8c8" stroke-width="1"/>
<line x1="599.2" y1="485.6" x2="599.2" y2="487.6" stroke="#c4c4c4" stroke-width="1"/>
<line x1="599.2" y1="622.2" x2="599.2" y2="624.2" stroke="#c4c4c4" stroke-width="1"/>
<line x1="599.2" y1="501.7" x2="599.2" y2="503.2" stroke="#c8c8c8" stroke-width="1"/>
<line x1="605.37" y1="485.6" x2="605.37" y2="487.6" stroke="#c4c4c4" stroke-width="1"/>
<line x1="605.37" y1="622.2" x2="605.37" y2="624.2" stroke="#c4c4c4" stroke-width="1"/>
<line x1="605.37" y1="501.7" x2="605.37" y2="503.2" stroke="#c8c8c8" stroke-width="1"/>
<line x1="611.54" y1="485.6" x2="611.54" y2="488.6" stroke="#c4c4c4" stroke-width="1"/>
<line x1="611.54" y1="622.2" x2="611.54" y2="625.2" stroke="#c4c4c4" stroke-width="1"/>
<line x1="611.54" y1="500.7" x2="611.54" y2="503.2" stroke="#c8c8c8" stroke-width="1"/>
<line x1="617.72" y1="485.6" x2="617.72" y2="487.6" stroke="#c4c4c4" stroke-width="1"/>
<line x1="617.72" y1="622.2" x2="617.72" y2="624.2" stroke="#c4c4c4" stroke-width="1"/>
<line x1="617.72" y1="501.7" x2="617.72" y2="503.2" stroke="#c8c8c8" stroke-width="1"/>
<line x1="623.89" y1="485.6" x2="623.89" y2="487.6" stroke="#c4c4c4" stroke-width="1"/>
<line x1="623.89" y1="622.2" x2="623.89" y2="624.2" stroke="#c4c4c4" stroke-width="1"/>
<line x1="623.89" y1="501.7" x2="623.89" y2="503.2" stroke="#c8c8c8" stroke-width="1"/>
<line x1="630.06" y1="485.6" x2="630.06" y2="487.6" stroke="#c4c4c4" stroke-width="1"/>
<line x1="630.06" y1="622.2" x2="630.06" y2="624.2" stroke="#c4c4c4" stroke-width="1"/>
<line x1="630.06" y1="501.7" x2="630.06" y2="503.2" stroke="#c8c8c8" stroke-width="1"/>
<line x1="636.23" y1="485.6" x2="636.23" y2="488.6" stroke="#c4c4c4" stroke-width="1"/>
<line x1="636.23" y1="622.2" x2="636.23" y2="625.2" stroke="#c4c4c4" stroke-width="1"/>
<line x1="636.23" y1="500.7" x2="636.23" y2="503.2" stroke="#c8c8c8" stroke-width="1"/>
<line x1="642.41" y1="485.6" x2="642.41" y2="487.6" stroke="#c4c4c4" stroke-width="1"/>
<line x1="642.41" y1="622.2" x2="642.41" y2="624.2" stroke="#c4c4c4" stroke-width="1"/>
<line x1="642.41" y1="501.7" x2="642.41" y2="503.2" stroke="#c8c8c8" stroke-width="1"/>
<line x1="648.58" y1="485.6" x2="648.58" y2="487.6" stroke="#c4c4c4" stroke-width="1"/>
<line x1="648.58" y1="622.2" x2="648.58" y2="624.2" stroke="#c4c4c4" stroke-width="1"/>
<line x1="648.58" y1="501.7" x2="648.58" y2="503.2" stroke="#c8c8c8" stroke-width="1"/>
<line x1="654.75" y1="485.6" x2="654.75" y2="487.6" stroke="#c4c4c4" stroke-width="1"/>
<line x1="654.75" y1="622.2" x2="654.75" y2="624.2" stroke="#c4c4c4" stroke-width="1"/>
<line x1="654.75" y1="501.7" x2="654.75" y2="503.2" stroke="#c8c8c8" stroke-width="1"/>
<line x1="660.92" y1="485.6" x2="660.92" y2="487.6" stroke="#c4c4c4" stroke-width="1"/>
<line x1="660.92" y1="622.2" x2="660.92" y2="624.2" stroke="#c4c4c4" stroke-width="1"/>
<line x1="660.92" y1="501.7" x2="660.92" y2="503.2" stroke="#c8c8c8" stroke-width="1"/>
<line x1="667.1" y1="485.6" x2="667.1" y2="488.6" stroke="#c4c4c4" stroke-width="1"/>
<line x1="667.1" y1="622.2" x2="667.1" y2="625.2" stroke="#c4c4c4" stroke-width="1"/>
<line x1="667.1" y1="500.7" x2="667.1" y2="503.2" stroke="#c8c8c8" stroke-width="1"/>
<line x1="673.27" y1="485.6" x2="673.27" y2="487.6" stroke="#c4c4c4" stroke-width="1"/>
<line x1="673.27" y1="622.2" x2="673.27" y2="624.2" stroke="#c4c4c4" stroke-width="1"/>
<line x1="673.27" y1="501.7" x2="673.27" y2="503.2" stroke="#c8c8c8" stroke-width="1"/>
<line x1="679.44" y1="485.6" x2="679.44" y2="487.6" stroke="#c4c4c4" stroke-width="1"/>
<line x1="679.44" y1="622.2" x2="679.44" y2="624.2" stroke="#c4c4c4" stroke-width="1"/>
<line x1="679.44" y1="501.7" x2="679.44" y2="503.2" stroke="#c8c8c8" stroke-width="1"/>
<line x1="685.61" y1="485.6" x2="685.61" y2="487.6" stroke="#c4c4c4" stroke-width="1"/>
<line x1="685.61" y1="622.2" x2="685.61" y2="624.2" stroke="#c4c4c4" stroke-width="1"/>
<line x1="685.61" y1="501.7" x2="685.61" y2="503.2" stroke="#c8c8c8" stroke-width="1"/>
<line x1="691.78" y1="485.6" x2="691.78" y2="487.6" stroke="#c4c4c4" stroke-width="1"/>
<line x1="691.78" y1="622.2" x2="691.78" y2="624.2" stroke="#c4c4c4" stroke-width="1"/>
<line x1="691.78" y1="501.7" x2="691.78" y2="503.2" stroke="#c8c8c8" stroke-width="1"/>
<line x1="697.96" y1="485.6" x2="697.96" y2="488.6" stroke="#c4c4c4" stroke-width="1"/>
<line x1="697.96" y1="622.2" x2="697.96" y2="625.2" stroke="#c4c4c4" stroke-width="1"/>
<line x1="697.96" y1="500.7" x2="697.96" y2="503.2" stroke="#c8c8c8" stroke-width="1"/>
<line x1="704.13" y1="485.6" x2="704.13" y2="487.6" stroke="#c4c4c4" stroke-width="1"/>
<line x1="704.13" y1="622.2" x2="704.13" y2="624.2" stroke="#c4c4c4" stroke-width="1"/>
<line x1="704.13" y1="501.7" x2="704.13" y2="503.2" stroke="#c8c8c8" stroke-width="1"/>
<line x1="710.3" y1="485.6" x2="710.3" y2="487.6" stroke="#c4c4c4" stroke-width="1"/>
<line x1="710.3" y1="622.2" x2="710.3" y2="624.2" stroke="#c4c4c4" stroke-width="1"/>
<line x1="710.3" y1="501.7" x2="710.3" y2="503.2" stroke="#c8c8c8" stroke-width="1"/>
<line x1="716.47" y1="485.6" x2="716.47" y2="487.6" stroke="#c4c4c4" stroke-width="1"/>
<line x1="716.47" y1="622.2" x2="716.47" y2="624.2" stroke="#c4c4c4" stroke-width="1"/>
<line x1="716.47" y1="501.7" x2="716.47" y2="503.2" stroke="#c8c8c8" stroke-width="1"/>
<line x1="722.65" y1="485.6" x2="722.65" y2="487.6" stroke="#c4c4c4" stroke-width="1"/>
<line x1="722.65" y1="622.2" x2="722.65" y2="624.2" stroke="#c4c4c4" stroke-width="1"/>
<line x1="722.65" y1="501.7" x2="722.65" y2="503.2" stroke="#c8c8c8" stroke-width="1"/>
<line x1="728.82" y1="485.6" x2="728.82" y2="488.6" stroke="#c4c4c4" stroke-width="1"/>
<line x1="728.82" y1="622.2" x2="728.82" y2="625.2" stroke="#c4c4c4" stroke-width="1"/>
<line x1="728.82" y1="500.7" x2="728.82" y2="503.2" stroke="#c8c8c8" stroke-width="1"/>
<line x1="734.99" y1="485.6" x2="734.99" y2="487.6" stroke="#c4c4c4" stroke-width="1"/>
<line x1="734.99" y1="622.2" x2="734.99" y2="624.2" stroke="#c4c4c4" stroke-width="1"/>
<line x1="734.99" y1="501.7" x2="734.99" y2="503.2" stroke="#c8c8c8" stroke-width="1"/>
<line x1="741.16" y1="485.6" x2="741.16" y2="487.6" stroke="#c4c4c4" stroke-width="1"/>
<line x1="741.16" y1="622.2" x2="741.16" y2="624.2" stroke="#c4c4c4" stroke-width="1"/>
<line x1="741.16" y1="501.7" x2="741.16" y2="503.2" stroke="#c8c8c8" stroke-width="1"/>
<line x1="747.34" y1="485.6" x2="747.34" y2="487.6" stroke="#c4c4c4" stroke-width="1"/>
<line x1="747.34" y1="622.2" x2="747.34" y2="624.2" stroke="#c4c4c4" stroke-width="1"/>
<line x1="747.34" y1="501.7" x2="747.34" y2="503.2" stroke="#c8c8c8" stroke-width="1"/>
<line x1="753.51" y1="485.6" x2="753.51" y2="487.6" stroke="#c4c4c4" stroke-width="1"/>
<line x1="753.51" y1="622.2" x2="753.51" y2="624.2" stroke="#c4c4c4" stroke-width="1"/>
<line x1="753.51" y1="501.7" x2="753.51" y2="503.2" stroke="#c8c8c8" stroke-width="1"/>
<line x1="759.68" y1="485.6" x2="759.68" y2="488.6" stroke="#c4c4c4" stroke-width="1"/>
<line x1="759.68" y1="622.2" x2="759.68" y2="625.2" stroke="#c4c4c4" stroke-width="1"/>
<line x1="759.68" y1="500.7" x2="759.68" y2="503.2" stroke="#c8c8c8" stroke-width="1"/>
<line x1="765.85" y1="485.6" x2="765.85" y2="487.6" stroke="#c4c4c4" stroke-width="1"/>
<line x1="765.85" y1="622.2" x2="765.85" y2="624.2" stroke="#c4c4c4" stroke-width="1"/>
<line x1="765.85" y1="501.7" x2="765.85" y2="503.2" stroke="#c8c8c8" stroke-width="1"/>
<line x1="772.03" y1="485.6" x2="772.03" y2="487.6" stroke="#c4c4c4" stroke-width="1"/>
<line x1="772.03" y1="622.2" x2="772.03" y2="624.2" stroke="#c4c4c4" stroke-width="1"/>
<line x1="772.03" y1="501.7" x2="772.03" y2="503.2" stroke="#c8c8c8" stroke-width="1"/>
<line x1="778.2" y1="485.6" x2="778.2" y2="487.6" stroke="#c4c4c4" stroke-width="1"/>
<line x1="778.2" y1="622.2" x2="778.2" y2="624.2" stroke="#c4c4c4" stroke-width="1"/>
<line x1="778.2" y1="501.7" x2="778.2" y2="503.2" stroke="#c8c8c8" stroke-width="1"/>
<line x1="784.37" y1="485.6" x2="784.37" y2="487.6" stroke="#c4c4c4" stroke-width="1"/>
<line x1="784.37" y1="622.2" x2="784.37" y2="624.2" stroke="#c4c4c4" stroke-width="1"/>
<line x1="784.37" y1="501.7" x2="784.37" y2="503.2" stroke="#c8c8c8" stroke-width="1"/>
<line x1="790.54" y1="485.6" x2="790.54" y2="488.6" stroke="#c4c4c4" stroke-width="1"/>
<line x1="790.54" y1="622.2" x2="790.54" y2="625.2" stroke="#c4c4c4" stroke-width="1"/>
<line x1="790.54" y1="500.7" x2="790.54" y2="503.2" stroke="#c8c8c8" stroke-width="1"/>
<line x1="796.72" y1="485.6" x2="796.72" y2="487.6" stroke="#c4c4c4" stroke-width="1"/>
<line x1="796.72" y1="622.2" x2="796.72" y2="624.2" stroke="#c4c4c4" stroke-width="1"/>
<line x1="796.72" y1="501.7" x2="796.72" y2="503.2" stroke="#c8c8c8" stroke-width="1"/>
<line x1="802.89" y1="485.6" x2="802.89" y2="487.6" stroke="#c4c4c4" stroke-width="1"/>
<line x1="802.89" y1="622.2" x2="802.89" y2="624.2" stroke="#c4c4c4" stroke-width="1"/>
<line x1="802.89" y1="501.7" x2="802.89" y2="503.2" stroke="#c8c8c8" stroke-width="1"/>
<line x1="809.06" y1="485.6" x2="809.06" y2="487.6" stroke="#c4c4c4" stroke-width="1"/>
<line x1="809.06" y1="622.2" x2="809.06" y2="624.2" stroke="#c4c4c4" stroke-width="1"/>
<line x1="809.06" y1="501.7" x2="809.06" y2="503.2" stroke="#c8c8c8" stroke-width="1"/>
<text x="821.8" y="45.54" font-size="11" font-weight="normal" fill="#000" stroke="#000" stroke-width="0.22" textLength="14.07" lengthAdjust="spacingAndGlyphs">90</text>
<text x="821.8" y="65.74" font-size="11" font-weight="normal" fill="#000" stroke="#000" stroke-width="0.22" textLength="14.07" lengthAdjust="spacingAndGlyphs">70</text>
<text x="821.8" y="107.74" font-size="11" font-weight="normal" fill="#000" stroke="#000" stroke-width="0.22" textLength="14.07" lengthAdjust="spacingAndGlyphs">30</text>
<text x="821.8" y="127.64" font-size="11" font-weight="normal" fill="#000" stroke="#000" stroke-width="0.22" textLength="14.07" lengthAdjust="spacingAndGlyphs">10</text>
<text x="821.8" y="164.34" font-size="11" font-weight="normal" fill="#000" stroke="#000" stroke-width="0.22" textLength="21.11" lengthAdjust="spacingAndGlyphs">235</text>
<text x="821.8" y="189.34" font-size="11" font-weight="normal" fill="#000" stroke="#000" stroke-width="0.22" textLength="21.11" lengthAdjust="spacingAndGlyphs">230</text>
<text x="821.8" y="213.84" font-size="11" font-weight="normal" fill="#000" stroke="#000" stroke-width="0.22" textLength="21.11" lengthAdjust="spacingAndGlyphs">225</text>
<text x="821.8" y="239.84" font-size="11" font-weight="normal" fill="#000" stroke="#000" stroke-width="0.22" textLength="21.11" lengthAdjust="spacingAndGlyphs">220</text>
<text x="821.8" y="266.34" font-size="11" font-weight="normal" fill="#000" stroke="#000" stroke-width="0.22" textLength="21.11" lengthAdjust="spacingAndGlyphs">215</text>
<text x="821.8" y="293.74" font-size="11" font-weight="normal" fill="#000" stroke="#000" stroke-width="0.22" textLength="21.11" lengthAdjust="spacingAndGlyphs">210</text>
<text x="821.8" y="322.04" font-size="11" font-weight="normal" fill="#000" stroke="#000" stroke-width="0.22" textLength="21.11" lengthAdjust="spacingAndGlyphs">205</text>
<text x="821.8" y="350.24" font-size="11" font-weight="normal" fill="#000" stroke="#000" stroke-width="0.22" textLength="21.11" lengthAdjust="spacingAndGlyphs">200</text>
<text x="821.8" y="380.04" font-size="11" font-weight="normal" fill="#000" stroke="#000" stroke-width="0.22" textLength="21.11" lengthAdjust="spacingAndGlyphs">195</text>
<text x="821.8" y="409.54" font-size="11" font-weight="normal" fill="#000" stroke="#000" stroke-width="0.22" textLength="21.11" lengthAdjust="spacingAndGlyphs">190</text>
<text x="821.8" y="441.34" font-size="11" font-weight="normal" fill="#000" stroke="#000" stroke-width="0.22" textLength="21.11" lengthAdjust="spacingAndGlyphs">185</text>
<text x="825.21" y="528.74" font-size="11" font-weight="normal" fill="#000" stroke="#000" stroke-width="0.22" textLength="17.59" lengthAdjust="spacingAndGlyphs">5.0</text>
<text x="825.21" y="548.34" font-size="11" font-weight="normal" fill="#000" stroke="#000" stroke-width="0.22" textLength="17.59" lengthAdjust="spacingAndGlyphs">2.5</text>
<text x="825.21" y="568.54" font-size="11" font-weight="normal" fill="#000" stroke="#000" stroke-width="0.22" textLength="17.59" lengthAdjust="spacingAndGlyphs">0.0</text>
<text x="821" y="588.54" font-size="11" font-weight="normal" fill="#000" stroke="#000" stroke-width="0.22" textLength="21.8" lengthAdjust="spacingAndGlyphs">-2.5</text>
<text x="821" y="608.74" font-size="11" font-weight="normal" fill="#000" stroke="#000" stroke-width="0.22" textLength="21.8" lengthAdjust="spacingAndGlyphs">-5.0</text>
<line x1="817.7" y1="134.1" x2="820.7" y2="134.1" stroke="#cfcfcf" stroke-width="1"/>
<line x1="817.7" y1="124.3" x2="820.7" y2="124.3" stroke="#cfcfcf" stroke-width="1"/>
<line x1="817.7" y1="114.5" x2="820.7" y2="114.5" stroke="#cfcfcf" stroke-width="1"/>
<line x1="817.7" y1="104.4" x2="820.7" y2="104.4" stroke="#cfcfcf" stroke-width="1"/>
<line x1="817.7" y1="93.4" x2="820.7" y2="93.4" stroke="#cfcfcf" stroke-width="1"/>
<line x1="817.7" y1="83.4" x2="820.7" y2="83.4" stroke="#cfcfcf" stroke-width="1"/>
<line x1="817.7" y1="73.1" x2="820.7" y2="73.1" stroke="#cfcfcf" stroke-width="1"/>
<line x1="817.7" y1="62.4" x2="820.7" y2="62.4" stroke="#cfcfcf" stroke-width="1"/>
<line x1="817.7" y1="52.5" x2="820.7" y2="52.5" stroke="#cfcfcf" stroke-width="1"/>
<line x1="817.7" y1="42.2" x2="820.7" y2="42.2" stroke="#cfcfcf" stroke-width="1"/>
<line x1="817.7" y1="32" x2="820.7" y2="32" stroke="#cfcfcf" stroke-width="1"/>
<line x1="817.7" y1="161" x2="821.3000000000001" y2="161" stroke="#c4c4c4" stroke-width="1"/>
<line x1="817.7" y1="186" x2="821.3000000000001" y2="186" stroke="#c4c4c4" stroke-width="1"/>
<line x1="817.7" y1="210.5" x2="821.3000000000001" y2="210.5" stroke="#c4c4c4" stroke-width="1"/>
<line x1="817.7" y1="236.5" x2="821.3000000000001" y2="236.5" stroke="#c4c4c4" stroke-width="1"/>
<line x1="817.7" y1="263" x2="821.3000000000001" y2="263" stroke="#c4c4c4" stroke-width="1"/>
<line x1="817.7" y1="290.4" x2="821.3000000000001" y2="290.4" stroke="#c4c4c4" stroke-width="1"/>
<line x1="817.7" y1="318.7" x2="821.3000000000001" y2="318.7" stroke="#c4c4c4" stroke-width="1"/>
<line x1="817.7" y1="346.9" x2="821.3000000000001" y2="346.9" stroke="#c4c4c4" stroke-width="1"/>
<line x1="817.7" y1="376.7" x2="821.3000000000001" y2="376.7" stroke="#c4c4c4" stroke-width="1"/>
<line x1="817.7" y1="406.2" x2="821.3000000000001" y2="406.2" stroke="#c4c4c4" stroke-width="1"/>
<line x1="817.7" y1="438" x2="821.3000000000001" y2="438" stroke="#c4c4c4" stroke-width="1"/>
<line x1="817.7" y1="469.5" x2="821.3000000000001" y2="469.5" stroke="#c4c4c4" stroke-width="1"/>
<line x1="817.7" y1="482.59" x2="819.5" y2="482.59" stroke="#cfcfcf" stroke-width="1"/>
<line x1="817.7" y1="476.11" x2="819.5" y2="476.11" stroke="#cfcfcf" stroke-width="1"/>
<line x1="817.7" y1="463.24" x2="819.5" y2="463.24" stroke="#cfcfcf" stroke-width="1"/>
<line x1="817.7" y1="456.86" x2="819.5" y2="456.86" stroke="#cfcfcf" stroke-width="1"/>
<line x1="817.7" y1="450.52" x2="819.5" y2="450.52" stroke="#cfcfcf" stroke-width="1"/>
<line x1="817.7" y1="444.2" x2="819.5" y2="444.2" stroke="#cfcfcf" stroke-width="1"/>
<line x1="817.7" y1="431.69" x2="819.5" y2="431.69" stroke="#cfcfcf" stroke-width="1"/>
<line x1="817.7" y1="425.48" x2="819.5" y2="425.48" stroke="#cfcfcf" stroke-width="1"/>
<line x1="817.7" y1="419.3" x2="819.5" y2="419.3" stroke="#cfcfcf" stroke-width="1"/>
<line x1="817.7" y1="413.16" x2="819.5" y2="413.16" stroke="#cfcfcf" stroke-width="1"/>
<line x1="817.7" y1="400.97" x2="819.5" y2="400.97" stroke="#cfcfcf" stroke-width="1"/>
<line x1="817.7" y1="394.92" x2="819.5" y2="394.92" stroke="#cfcfcf" stroke-width="1"/>
<line x1="817.7" y1="388.9" x2="819.5" y2="388.9" stroke="#cfcfcf" stroke-width="1"/>
<line x1="817.7" y1="382.92" x2="819.5" y2="382.92" stroke="#cfcfcf" stroke-width="1"/>
<line x1="817.7" y1="371.04" x2="819.5" y2="371.04" stroke="#cfcfcf" stroke-width="1"/>
<line x1="817.7" y1="365.15" x2="819.5" y2="365.15" stroke="#cfcfcf" stroke-width="1"/>
<line x1="817.7" y1="359.29" x2="819.5" y2="359.29" stroke="#cfcfcf" stroke-width="1"/>
<line x1="817.7" y1="353.45" x2="819.5" y2="353.45" stroke="#cfcfcf" stroke-width="1"/>
<line x1="817.7" y1="341.87" x2="819.5" y2="341.87" stroke="#cfcfcf" stroke-width="1"/>
<line x1="817.7" y1="336.13" x2="819.5" y2="336.13" stroke="#cfcfcf" stroke-width="1"/>
<line x1="817.7" y1="330.41" x2="819.5" y2="330.41" stroke="#cfcfcf" stroke-width="1"/>
<line x1="817.7" y1="324.72" x2="819.5" y2="324.72" stroke="#cfcfcf" stroke-width="1"/>
<line x1="817.7" y1="313.42" x2="819.5" y2="313.42" stroke="#cfcfcf" stroke-width="1"/>
<line x1="817.7" y1="307.81" x2="819.5" y2="307.81" stroke="#cfcfcf" stroke-width="1"/>
<line x1="817.7" y1="302.23" x2="819.5" y2="302.23" stroke="#cfcfcf" stroke-width="1"/>
<line x1="817.7" y1="296.68" x2="819.5" y2="296.68" stroke="#cfcfcf" stroke-width="1"/>
<line x1="817.7" y1="285.65" x2="819.5" y2="285.65" stroke="#cfcfcf" stroke-width="1"/>
<line x1="817.7" y1="280.17" x2="819.5" y2="280.17" stroke="#cfcfcf" stroke-width="1"/>
<line x1="817.7" y1="274.72" x2="819.5" y2="274.72" stroke="#cfcfcf" stroke-width="1"/>
<line x1="817.7" y1="269.3" x2="819.5" y2="269.3" stroke="#cfcfcf" stroke-width="1"/>
<line x1="817.7" y1="258.53" x2="819.5" y2="258.53" stroke="#cfcfcf" stroke-width="1"/>
<line x1="817.7" y1="253.18" x2="819.5" y2="253.18" stroke="#cfcfcf" stroke-width="1"/>
<line x1="817.7" y1="247.85" x2="819.5" y2="247.85" stroke="#cfcfcf" stroke-width="1"/>
<line x1="817.7" y1="242.55" x2="819.5" y2="242.55" stroke="#cfcfcf" stroke-width="1"/>
<line x1="817.7" y1="232.03" x2="819.5" y2="232.03" stroke="#cfcfcf" stroke-width="1"/>
<line x1="817.7" y1="226.8" x2="819.5" y2="226.8" stroke="#cfcfcf" stroke-width="1"/>
<line x1="817.7" y1="221.6" x2="819.5" y2="221.6" stroke="#cfcfcf" stroke-width="1"/>
<line x1="817.7" y1="216.41" x2="819.5" y2="216.41" stroke="#cfcfcf" stroke-width="1"/>
<line x1="817.7" y1="206.12" x2="819.5" y2="206.12" stroke="#cfcfcf" stroke-width="1"/>
<line x1="817.7" y1="201.01" x2="819.5" y2="201.01" stroke="#cfcfcf" stroke-width="1"/>
<line x1="817.7" y1="195.92" x2="819.5" y2="195.92" stroke="#cfcfcf" stroke-width="1"/>
<line x1="817.7" y1="190.85" x2="819.5" y2="190.85" stroke="#cfcfcf" stroke-width="1"/>
<line x1="817.7" y1="180.78" x2="819.5" y2="180.78" stroke="#cfcfcf" stroke-width="1"/>
<line x1="817.7" y1="175.78" x2="819.5" y2="175.78" stroke="#cfcfcf" stroke-width="1"/>
<line x1="817.7" y1="170.8" x2="819.5" y2="170.8" stroke="#cfcfcf" stroke-width="1"/>
<line x1="817.7" y1="165.84" x2="819.5" y2="165.84" stroke="#cfcfcf" stroke-width="1"/>
<line x1="817.7" y1="155.98" x2="819.5" y2="155.98" stroke="#cfcfcf" stroke-width="1"/>
<line x1="817.7" y1="151.09" x2="819.5" y2="151.09" stroke="#cfcfcf" stroke-width="1"/>
<line x1="817.7" y1="146.21" x2="819.5" y2="146.21" stroke="#cfcfcf" stroke-width="1"/>
<line x1="817.7" y1="603.8" x2="821.3000000000001" y2="603.8" stroke="#c4c4c4" stroke-width="1"/>
<line x1="817.7" y1="584" x2="821.3000000000001" y2="584" stroke="#c4c4c4" stroke-width="1"/>
<line x1="817.7" y1="564.2" x2="821.3000000000001" y2="564.2" stroke="#c4c4c4" stroke-width="1"/>
<line x1="817.7" y1="544.4" x2="821.3000000000001" y2="544.4" stroke="#c4c4c4" stroke-width="1"/>
<line x1="817.7" y1="524.6" x2="821.3000000000001" y2="524.6" stroke="#c4c4c4" stroke-width="1"/>
<line x1="817.7" y1="613.7" x2="819.5" y2="613.7" stroke="#cfcfcf" stroke-width="1"/>
<line x1="817.7" y1="593.9" x2="819.5" y2="593.9" stroke="#cfcfcf" stroke-width="1"/>
<line x1="817.7" y1="574.1" x2="819.5" y2="574.1" stroke="#cfcfcf" stroke-width="1"/>
<line x1="817.7" y1="554.3" x2="819.5" y2="554.3" stroke="#cfcfcf" stroke-width="1"/>
<line x1="817.7" y1="534.5" x2="819.5" y2="534.5" stroke="#cfcfcf" stroke-width="1"/>
<line x1="817.7" y1="514.7" x2="819.5" y2="514.7" stroke="#cfcfcf" stroke-width="1"/>
<text x="22.56" y="380.34" font-size="11" font-weight="normal" fill="#000" stroke="#000" stroke-width="0.22" textLength="34.24" lengthAdjust="spacingAndGlyphs">12.5M</text>
<line x1="57.0" y1="376.4" x2="61.0" y2="376.4" stroke="#c4c4c4" stroke-width="1"/>
<text x="22.56" y="401.34" font-size="11" font-weight="normal" fill="#000" stroke="#000" stroke-width="0.22" textLength="34.24" lengthAdjust="spacingAndGlyphs">10.0M</text>
<line x1="57.0" y1="397.4" x2="61.0" y2="397.4" stroke="#c4c4c4" stroke-width="1"/>
<text x="29.41" y="423.64" font-size="11" font-weight="normal" fill="#000" stroke="#000" stroke-width="0.22" textLength="27.39" lengthAdjust="spacingAndGlyphs">7.5M</text>
<line x1="57.0" y1="419.7" x2="61.0" y2="419.7" stroke="#c4c4c4" stroke-width="1"/>
<text x="29.41" y="444.74" font-size="11" font-weight="normal" fill="#000" stroke="#000" stroke-width="0.22" textLength="27.39" lengthAdjust="spacingAndGlyphs">5.0M</text>
<line x1="57.0" y1="440.8" x2="61.0" y2="440.8" stroke="#c4c4c4" stroke-width="1"/>
<text x="29.41" y="466.64" font-size="11" font-weight="normal" fill="#000" stroke="#000" stroke-width="0.22" textLength="27.39" lengthAdjust="spacingAndGlyphs">2.5M</text>
<line x1="57.0" y1="462.7" x2="61.0" y2="462.7" stroke="#c4c4c4" stroke-width="1"/>
<path d="M856.2 74 L819.6 74 L814.9 79.8 L819.6 85.6 L856.2 85.6 Z" fill="#fff" stroke="#111" stroke-width="1.4"/>
<text x="820.8" y="83.84" font-size="11" font-weight="normal" fill="#000" stroke="#000" stroke-width="0.22" textLength="32.5" lengthAdjust="spacingAndGlyphs">52.81</text>
<path d="M863 254.1 L819.6 254.1 L814.9 259.9 L819.6 265.7 L863 265.7 Z" fill="#fff" stroke="#1c1c9c" stroke-width="1.4"/>
<text x="821.3" y="263.94" font-size="11" font-weight="normal" fill="#000" stroke="#000" stroke-width="0.22" textLength="39.4" lengthAdjust="spacingAndGlyphs">215.58</text>
<path d="M863 308.1 L819.6 308.1 L814.9 313.9 L819.6 319.7 L863 319.7 Z" fill="#fff" stroke="#d50a32" stroke-width="1.4"/>
<text x="821.3" y="317.94" font-size="11" font-weight="normal" fill="#000" stroke="#000" stroke-width="0.22" textLength="39.4" lengthAdjust="spacingAndGlyphs">205.57</text>
<path d="M863 268.9 L819.6 268.9 L814.9 274.9 L819.6 280.9 L863 280.9 Z" fill="#fff" stroke="#000" stroke-width="1.4"/>
<text x="821.3" y="279.26" font-size="11.9" font-weight="bold" fill="#000" stroke="#000" stroke-width="0.22" textLength="39.3" lengthAdjust="spacingAndGlyphs">212.99</text>
<clipPath id="ct"><rect x="800" y="455" width="63.7" height="24"/></clipPath><g clip-path="url(#ct)">
<path d="M870 460.4 L819.6 460.4 L814.9 466.2 L819.6 472 L870 472 Z" fill="#fff" stroke="#111" stroke-width="1.4"/>
<text x="821" y="470.24" font-size="11" font-weight="normal" fill="#000" stroke="#000" stroke-width="0.22" textLength="49.4" lengthAdjust="spacingAndGlyphs">2014167</text>
</g>
<path d="M860 579.3 L819.6 579.3 L814.9 585.1 L819.6 590.9 L860 590.9 Z" fill="#fff" stroke="#f01818" stroke-width="1.4"/>
<text x="821.3" y="589.14" font-size="11" font-weight="normal" fill="#000" stroke="#000" stroke-width="0.22" textLength="36" lengthAdjust="spacingAndGlyphs">-2.665</text>
<path d="M859.5 575.4 L819.6 575.4 L814.9 581.2 L819.6 587 L859.5 587 Z" fill="#fff" stroke="#000" stroke-width="1.4"/>
<text x="821.2" y="585.24" font-size="11" font-weight="normal" fill="#000" stroke="#000" stroke-width="0.22" textLength="36" lengthAdjust="spacingAndGlyphs">-2.105</text>
<path d="M856 553 L819.6 553 L814.9 558.8 L819.6 564.6 L856 564.6 Z" fill="#fff" stroke="#3a6fb0" stroke-width="1.4"/>
<text x="820.8" y="562.84" font-size="11" font-weight="normal" fill="#000" stroke="#000" stroke-width="0.22" textLength="32.2" lengthAdjust="spacingAndGlyphs">0.560</text>
<text x="71.03" y="498.74" font-size="11" font-weight="normal" fill="#000" stroke="#000" stroke-width="0.22" textLength="7.04" lengthAdjust="spacingAndGlyphs">6</text>
<text x="98.37" y="498.74" font-size="11" font-weight="normal" fill="#000" stroke="#000" stroke-width="0.22" textLength="14.07" lengthAdjust="spacingAndGlyphs">13</text>
<text x="129.23" y="498.74" font-size="11" font-weight="normal" fill="#000" stroke="#000" stroke-width="0.22" textLength="14.07" lengthAdjust="spacingAndGlyphs">20</text>
<text x="153.92" y="498.74" font-size="11" font-weight="normal" fill="#000" stroke="#000" stroke-width="0.22" textLength="14.07" lengthAdjust="spacingAndGlyphs">27</text>
<text x="177.36" y="499.05" font-size="13" font-weight="bold" fill="#000" textLength="28.92" lengthAdjust="spacingAndGlyphs">2022</text>
<text x="215.65" y="498.74" font-size="11" font-weight="normal" fill="#000" stroke="#000" stroke-width="0.22" textLength="14.07" lengthAdjust="spacingAndGlyphs">10</text>
<text x="246.51" y="498.74" font-size="11" font-weight="normal" fill="#000" stroke="#000" stroke-width="0.22" textLength="14.07" lengthAdjust="spacingAndGlyphs">18</text>
<text x="271.2" y="498.74" font-size="11" font-weight="normal" fill="#000" stroke="#000" stroke-width="0.22" textLength="14.07" lengthAdjust="spacingAndGlyphs">24</text>
<text x="303.71" y="499.05" font-size="13" font-weight="bold" fill="#000" textLength="23.11" lengthAdjust="spacingAndGlyphs">Feb</text>
<text x="336.44" y="498.74" font-size="11" font-weight="normal" fill="#000" stroke="#000" stroke-width="0.22" textLength="7.04" lengthAdjust="spacingAndGlyphs">7</text>
<text x="363.78" y="498.74" font-size="11" font-weight="normal" fill="#000" stroke="#000" stroke-width="0.22" textLength="14.07" lengthAdjust="spacingAndGlyphs">14</text>
<text x="394.65" y="498.74" font-size="11" font-weight="normal" fill="#000" stroke="#000" stroke-width="0.22" textLength="14.07" lengthAdjust="spacingAndGlyphs">22</text>
<text x="420.98" y="499.05" font-size="13" font-weight="bold" fill="#000" textLength="23.12" lengthAdjust="spacingAndGlyphs">Mar</text>
<text x="453.72" y="498.74" font-size="11" font-weight="normal" fill="#000" stroke="#000" stroke-width="0.22" textLength="7.04" lengthAdjust="spacingAndGlyphs">7</text>
<text x="481.06" y="498.74" font-size="11" font-weight="normal" fill="#000" stroke="#000" stroke-width="0.22" textLength="14.07" lengthAdjust="spacingAndGlyphs">14</text>
<text x="511.92" y="498.74" font-size="11" font-weight="normal" fill="#000" stroke="#000" stroke-width="0.22" textLength="14.07" lengthAdjust="spacingAndGlyphs">21</text>
<text x="542.78" y="498.74" font-size="11" font-weight="normal" fill="#000" stroke="#000" stroke-width="0.22" textLength="14.07" lengthAdjust="spacingAndGlyphs">28</text>
<text x="563.31" y="499.05" font-size="13" font-weight="bold" fill="#000" textLength="22.39" lengthAdjust="spacingAndGlyphs">Apr</text>
<text x="604.98" y="498.74" font-size="11" font-weight="normal" fill="#000" stroke="#000" stroke-width="0.22" textLength="13.13" lengthAdjust="spacingAndGlyphs">11</text>
<text x="629.2" y="498.74" font-size="11" font-weight="normal" fill="#000" stroke="#000" stroke-width="0.22" textLength="14.07" lengthAdjust="spacingAndGlyphs">18</text>
<text x="660.06" y="498.74" font-size="11" font-weight="normal" fill="#000" stroke="#000" stroke-width="0.22" textLength="14.07" lengthAdjust="spacingAndGlyphs">25</text>
<text x="685.31" y="499.05" font-size="13" font-weight="bold" fill="#000" textLength="25.29" lengthAdjust="spacingAndGlyphs">May</text>
<text x="725.3" y="498.74" font-size="11" font-weight="normal" fill="#000" stroke="#000" stroke-width="0.22" textLength="7.04" lengthAdjust="spacingAndGlyphs">9</text>
<text x="752.65" y="498.74" font-size="11" font-weight="normal" fill="#000" stroke="#000" stroke-width="0.22" textLength="14.07" lengthAdjust="spacingAndGlyphs">16</text>
<text x="783.51" y="498.74" font-size="11" font-weight="normal" fill="#000" stroke="#000" stroke-width="0.22" textLength="14.07" lengthAdjust="spacingAndGlyphs">23</text>
<text x="71.03" y="635.74" font-size="11" font-weight="normal" fill="#000" stroke="#000" stroke-width="0.22" textLength="7.04" lengthAdjust="spacingAndGlyphs">6</text>
<text x="98.37" y="635.74" font-size="11" font-weight="normal" fill="#000" stroke="#000" stroke-width="0.22" textLength="14.07" lengthAdjust="spacingAndGlyphs">13</text>
<text x="129.23" y="635.74" font-size="11" font-weight="normal" fill="#000" stroke="#000" stroke-width="0.22" textLength="14.07" lengthAdjust="spacingAndGlyphs">20</text>
<text x="153.92" y="635.74" font-size="11" font-weight="normal" fill="#000" stroke="#000" stroke-width="0.22" textLength="14.07" lengthAdjust="spacingAndGlyphs">27</text>
<text x="177.36" y="636.05" font-size="13" font-weight="bold" fill="#000" textLength="28.92" lengthAdjust="spacingAndGlyphs">2022</text>
<text x="215.65" y="635.74" font-size="11" font-weight="normal" fill="#000" stroke="#000" stroke-width="0.22" textLength="14.07" lengthAdjust="spacingAndGlyphs">10</text>
<text x="246.51" y="635.74" font-size="11" font-weight="normal" fill="#000" stroke="#000" stroke-width="0.22" textLength="14.07" lengthAdjust="spacingAndGlyphs">18</text>
<text x="271.2" y="635.74" font-size="11" font-weight="normal" fill="#000" stroke="#000" stroke-width="0.22" textLength="14.07" lengthAdjust="spacingAndGlyphs">24</text>
<text x="303.71" y="636.05" font-size="13" font-weight="bold" fill="#000" textLength="23.11" lengthAdjust="spacingAndGlyphs">Feb</text>
<text x="336.44" y="635.74" font-size="11" font-weight="normal" fill="#000" stroke="#000" stroke-width="0.22" textLength="7.04" lengthAdjust="spacingAndGlyphs">7</text>
<text x="363.78" y="635.74" font-size="11" font-weight="normal" fill="#000" stroke="#000" stroke-width="0.22" textLength="14.07" lengthAdjust="spacingAndGlyphs">14</text>
<text x="394.65" y="635.74" font-size="11" font-weight="normal" fill="#000" stroke="#000" stroke-width="0.22" textLength="14.07" lengthAdjust="spacingAndGlyphs">22</text>
<text x="420.98" y="636.05" font-size="13" font-weight="bold" fill="#000" textLength="23.12" lengthAdjust="spacingAndGlyphs">Mar</text>
<text x="453.72" y="635.74" font-size="11" font-weight="normal" fill="#000" stroke="#000" stroke-width="0.22" textLength="7.04" lengthAdjust="spacingAndGlyphs">7</text>
<text x="481.06" y="635.74" font-size="11" font-weight="normal" fill="#000" stroke="#000" stroke-width="0.22" textLength="14.07" lengthAdjust="spacingAndGlyphs">14</text>
<text x="511.92" y="635.74" font-size="11" font-weight="normal" fill="#000" stroke="#000" stroke-width="0.22" textLength="14.07" lengthAdjust="spacingAndGlyphs">21</text>
<text x="542.78" y="635.74" font-size="11" font-weight="normal" fill="#000" stroke="#000" stroke-width="0.22" textLength="14.07" lengthAdjust="spacingAndGlyphs">28</text>
<text x="563.31" y="636.05" font-size="13" font-weight="bold" fill="#000" textLength="22.39" lengthAdjust="spacingAndGlyphs">Apr</text>
<text x="604.98" y="635.74" font-size="11" font-weight="normal" fill="#000" stroke="#000" stroke-width="0.22" textLength="13.13" lengthAdjust="spacingAndGlyphs">11</text>
<text x="629.2" y="635.74" font-size="11" font-weight="normal" fill="#000" stroke="#000" stroke-width="0.22" textLength="14.07" lengthAdjust="spacingAndGlyphs">18</text>
<text x="660.06" y="635.74" font-size="11" font-weight="normal" fill="#000" stroke="#000" stroke-width="0.22" textLength="14.07" lengthAdjust="spacingAndGlyphs">25</text>
<text x="685.31" y="636.05" font-size="13" font-weight="bold" fill="#000" textLength="25.29" lengthAdjust="spacingAndGlyphs">May</text>
<text x="725.3" y="635.74" font-size="11" font-weight="normal" fill="#000" stroke="#000" stroke-width="0.22" textLength="7.04" lengthAdjust="spacingAndGlyphs">9</text>
<text x="752.65" y="635.74" font-size="11" font-weight="normal" fill="#000" stroke="#000" stroke-width="0.22" textLength="14.07" lengthAdjust="spacingAndGlyphs">16</text>
<text x="783.51" y="635.74" font-size="11" font-weight="normal" fill="#000" stroke="#000" stroke-width="0.22" textLength="14.07" lengthAdjust="spacingAndGlyphs">23</text>
</svg>
</body></html>
